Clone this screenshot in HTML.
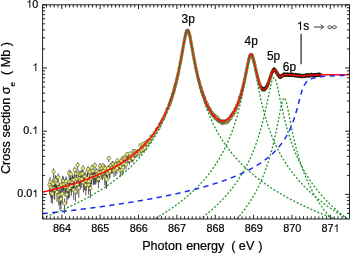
<!DOCTYPE html><html><head><meta charset="utf-8"><style>html,body{margin:0;padding:0;background:#fff;}svg{display:block;will-change:transform}</style></head><body><svg width="350" height="253" viewBox="0 0 350 253">
<defs><clipPath id="c"><rect x="42.60" y="4.80" width="306.90" height="214.20"/></clipPath></defs>
<g clip-path="url(#c)">
<path d="M49.52,179.67V194.67M50.10,176.91V191.74M50.68,182.17V197.17M51.25,187.96V202.96M51.83,183.71V198.71M52.40,188.68V203.68M52.98,178.70V193.70M53.55,168.25V178.28M54.13,183.67V198.67M54.70,184.75V199.75M55.28,174.97V188.60M55.85,175.95V190.23M56.43,177.82V192.82M57.00,187.10V202.10M57.58,178.87V193.87M58.16,173.14V185.66M58.73,190.37V205.37M59.31,182.38V197.38M59.88,194.94V209.94M60.46,189.41V204.41M61.03,194.04V209.04M61.61,179.98V194.98M62.18,188.73V203.73M62.76,175.80V190.00M63.33,176.54V191.26M63.91,179.12V194.12M64.49,198.54V213.54M65.06,181.81V196.81M65.64,177.63V192.61M66.21,176.41V191.05M66.79,189.52V204.52M67.36,180.76V195.76M67.94,184.67V199.67M68.51,183.14V198.14M69.09,169.42V180.03M69.66,182.81V197.81M70.24,176.71V191.52M70.81,170.44V181.55M71.39,180.57V195.57M71.97,176.90V191.75M72.54,175.34V189.28M73.12,175.54V189.60M73.69,184.80V199.80M74.27,175.23V189.10M74.84,166.76V176.21M75.42,186.61V201.61M75.99,169.88V180.74M76.57,174.50V187.90M77.14,179.33V194.33M77.72,162.23V170.03M78.29,170.13V181.11M78.87,182.79V197.79M79.45,174.16V187.36M80.02,170.97V182.38M80.60,175.47V189.53M81.17,170.10V181.08M81.75,174.47V187.88M82.32,169.98V180.89M82.90,165.21V174.07M83.47,177.52V192.51M84.05,172.34V184.50M84.62,176.00V190.43M85.20,172.49V184.75M85.77,180.07V195.07M86.35,176.14V190.69M86.93,173.86V186.92M87.50,167.57V177.41M88.08,166.05V175.26M88.65,179.75V194.75M89.23,176.40V191.15M89.80,168.46V178.70M90.38,183.15V198.15M90.95,174.10V187.33M91.53,172.00V184.01M92.10,164.62V173.29M92.68,167.53V177.37M93.26,172.66V185.05M93.83,172.68V185.09M94.41,171.89V183.87M94.98,162.59V170.56M95.56,172.40V184.66M96.13,171.59V183.41M96.71,168.15V178.28M97.28,170.30V181.46M97.86,170.48V181.73M98.43,174.64V188.27M99.01,169.19V179.82M99.58,171.04V182.60M100.16,163.17V171.36M100.74,165.47V174.50M101.31,168.46V178.76M101.89,165.04V173.92M102.46,169.48V180.27M103.04,162.90V171.01M103.61,167.54V177.45M104.19,164.69V173.44M104.76,172.72V185.23M105.34,165.35V174.36M105.91,173.86V187.06M106.49,175.01V188.95M107.06,167.50V177.42M107.64,169.76V180.72M108.22,165.06V173.98M108.79,156.00V162.12M109.37,168.68V179.15M109.94,167.58V177.55M110.52,163.97V172.51M111.09,162.58V170.62M111.67,165.02V173.95M112.24,164.88V173.76M112.82,161.07V168.63M113.39,161.56V169.27M113.97,167.23V177.08M114.54,163.35V171.69M115.12,162.66V170.76M115.70,166.41V175.93M116.27,161.31V168.97M116.85,165.09V174.09M117.42,158.20V164.94M118.00,160.76V168.25M118.57,160.85V168.38M119.15,162.93V171.16M119.72,161.01V168.59M120.30,167.02V176.84M120.87,163.80V172.35M121.45,158.51V165.36M122.03,166.33V175.89M122.60,156.35V162.63M123.18,164.37V173.16M123.75,156.09V162.31M124.33,160.83V168.41M124.90,155.45V161.51M125.48,157.15V163.66M126.05,161.84V169.76M126.63,153.14V158.68M127.20,152.28V157.63M127.78,156.41V162.75M128.35,156.67V163.08M128.93,155.99V162.22M129.51,157.90V164.66M130.08,151.77V157.04M130.66,155.94V162.18M131.23,154.23V160.06M131.81,155.82V162.04M132.38,154.98V161.00M132.96,156.24V162.58M133.53,149.36V154.18M134.11,152.56V158.04M134.68,149.38V154.21M135.26,151.33V156.56M135.83,152.61V158.12M136.41,151.30V156.53M136.99,151.40V156.66M137.56,149.65V154.56M138.14,150.07V155.07M138.71,149.44V154.32M139.29,151.30V156.57M139.86,149.57V154.49M140.44,143.89V147.83M141.01,148.28V152.97M141.59,148.54V153.28M142.16,145.23V149.40M142.74,142.63V146.41M143.31,147.66V152.27M143.89,144.74V148.85M144.47,144.97V149.14M145.04,146.44V150.86M145.62,141.38V145.01M146.19,142.16V145.91M146.77,141.42V145.07M147.34,142.20V145.98M147.92,139.59V143.01M148.49,140.58V144.14M149.07,139.31V142.71M149.64,140.14V143.66M150.22,139.61V143.07M151.37,137.15V140.31" stroke="#111" stroke-width="0.7" fill="none"/>
<g fill="#f2f27c" stroke="#333322" stroke-width="0.45"><circle cx="49.52" cy="184.67" r="1.75"/><circle cx="50.10" cy="181.74" r="1.75"/><circle cx="50.68" cy="187.17" r="1.75"/><circle cx="51.25" cy="192.96" r="1.75"/><circle cx="51.83" cy="188.71" r="1.75"/><circle cx="52.40" cy="193.68" r="1.75"/><circle cx="52.98" cy="183.70" r="1.75"/><circle cx="53.55" cy="171.69" r="1.75"/><circle cx="54.13" cy="188.67" r="1.75"/><circle cx="54.70" cy="189.75" r="1.75"/><circle cx="55.28" cy="179.45" r="1.75"/><circle cx="55.85" cy="180.61" r="1.75"/><circle cx="56.43" cy="182.82" r="1.75"/><circle cx="57.00" cy="192.10" r="1.75"/><circle cx="57.58" cy="183.87" r="1.75"/><circle cx="58.16" cy="177.31" r="1.75"/><circle cx="58.73" cy="195.37" r="1.75"/><circle cx="59.31" cy="187.38" r="1.75"/><circle cx="59.88" cy="199.94" r="1.75"/><circle cx="60.46" cy="194.41" r="1.75"/><circle cx="61.03" cy="199.04" r="1.75"/><circle cx="61.61" cy="184.98" r="1.75"/><circle cx="62.18" cy="193.73" r="1.75"/><circle cx="62.76" cy="180.43" r="1.75"/><circle cx="63.33" cy="181.31" r="1.75"/><circle cx="63.91" cy="184.12" r="1.75"/><circle cx="64.49" cy="203.54" r="1.75"/><circle cx="65.06" cy="186.81" r="1.75"/><circle cx="65.64" cy="182.61" r="1.75"/><circle cx="66.21" cy="181.17" r="1.75"/><circle cx="66.79" cy="194.52" r="1.75"/><circle cx="67.36" cy="185.76" r="1.75"/><circle cx="67.94" cy="189.67" r="1.75"/><circle cx="68.51" cy="188.14" r="1.75"/><circle cx="69.09" cy="173.03" r="1.75"/><circle cx="69.66" cy="187.81" r="1.75"/><circle cx="70.24" cy="181.52" r="1.75"/><circle cx="70.81" cy="174.20" r="1.75"/><circle cx="71.39" cy="185.57" r="1.75"/><circle cx="71.97" cy="181.75" r="1.75"/><circle cx="72.54" cy="179.90" r="1.75"/><circle cx="73.12" cy="180.13" r="1.75"/><circle cx="73.69" cy="189.80" r="1.75"/><circle cx="74.27" cy="179.78" r="1.75"/><circle cx="74.84" cy="170.02" r="1.75"/><circle cx="75.42" cy="191.61" r="1.75"/><circle cx="75.99" cy="173.57" r="1.75"/><circle cx="76.57" cy="178.91" r="1.75"/><circle cx="77.14" cy="184.33" r="1.75"/><circle cx="77.72" cy="164.98" r="1.75"/><circle cx="78.29" cy="173.85" r="1.75"/><circle cx="78.87" cy="187.79" r="1.75"/><circle cx="79.45" cy="178.52" r="1.75"/><circle cx="80.02" cy="174.82" r="1.75"/><circle cx="80.60" cy="180.06" r="1.75"/><circle cx="81.17" cy="173.82" r="1.75"/><circle cx="81.75" cy="178.88" r="1.75"/><circle cx="82.32" cy="173.68" r="1.75"/><circle cx="82.90" cy="168.29" r="1.75"/><circle cx="83.47" cy="182.51" r="1.75"/><circle cx="84.05" cy="176.40" r="1.75"/><circle cx="84.62" cy="180.69" r="1.75"/><circle cx="85.20" cy="176.59" r="1.75"/><circle cx="85.77" cy="185.07" r="1.75"/><circle cx="86.35" cy="180.87" r="1.75"/><circle cx="86.93" cy="178.18" r="1.75"/><circle cx="87.50" cy="170.95" r="1.75"/><circle cx="88.08" cy="169.24" r="1.75"/><circle cx="88.65" cy="184.75" r="1.75"/><circle cx="89.23" cy="181.18" r="1.75"/><circle cx="89.80" cy="171.96" r="1.75"/><circle cx="90.38" cy="188.15" r="1.75"/><circle cx="90.95" cy="178.47" r="1.75"/><circle cx="91.53" cy="176.02" r="1.75"/><circle cx="92.10" cy="167.64" r="1.75"/><circle cx="92.68" cy="170.91" r="1.75"/><circle cx="93.26" cy="176.79" r="1.75"/><circle cx="93.83" cy="176.82" r="1.75"/><circle cx="94.41" cy="175.91" r="1.75"/><circle cx="94.98" cy="165.39" r="1.75"/><circle cx="95.56" cy="176.50" r="1.75"/><circle cx="96.13" cy="175.56" r="1.75"/><circle cx="96.71" cy="171.62" r="1.75"/><circle cx="97.28" cy="174.08" r="1.75"/><circle cx="97.86" cy="174.28" r="1.75"/><circle cx="98.43" cy="179.12" r="1.75"/><circle cx="99.01" cy="172.81" r="1.75"/><circle cx="99.58" cy="174.93" r="1.75"/><circle cx="100.16" cy="166.04" r="1.75"/><circle cx="100.74" cy="168.60" r="1.75"/><circle cx="101.31" cy="171.98" r="1.75"/><circle cx="101.89" cy="168.12" r="1.75"/><circle cx="102.46" cy="173.15" r="1.75"/><circle cx="103.04" cy="165.75" r="1.75"/><circle cx="103.61" cy="170.94" r="1.75"/><circle cx="104.19" cy="167.73" r="1.75"/><circle cx="104.76" cy="176.88" r="1.75"/><circle cx="105.34" cy="168.47" r="1.75"/><circle cx="105.91" cy="178.22" r="1.75"/><circle cx="106.49" cy="179.57" r="1.75"/><circle cx="107.06" cy="170.91" r="1.75"/><circle cx="107.64" cy="173.47" r="1.75"/><circle cx="108.22" cy="168.16" r="1.75"/><circle cx="108.79" cy="158.20" r="1.75"/><circle cx="109.37" cy="172.25" r="1.75"/><circle cx="109.94" cy="171.00" r="1.75"/><circle cx="110.52" cy="166.95" r="1.75"/><circle cx="111.09" cy="165.40" r="1.75"/><circle cx="111.67" cy="168.12" r="1.75"/><circle cx="112.24" cy="167.97" r="1.75"/><circle cx="112.82" cy="163.74" r="1.75"/><circle cx="113.39" cy="164.27" r="1.75"/><circle cx="113.97" cy="170.61" r="1.75"/><circle cx="114.54" cy="166.27" r="1.75"/><circle cx="115.12" cy="165.50" r="1.75"/><circle cx="115.70" cy="169.69" r="1.75"/><circle cx="116.27" cy="164.01" r="1.75"/><circle cx="116.85" cy="168.21" r="1.75"/><circle cx="117.42" cy="160.60" r="1.75"/><circle cx="118.00" cy="163.40" r="1.75"/><circle cx="118.57" cy="163.51" r="1.75"/><circle cx="119.15" cy="165.81" r="1.75"/><circle cx="119.72" cy="163.68" r="1.75"/><circle cx="120.30" cy="170.39" r="1.75"/><circle cx="120.87" cy="166.78" r="1.75"/><circle cx="121.45" cy="160.95" r="1.75"/><circle cx="122.03" cy="169.63" r="1.75"/><circle cx="122.60" cy="158.60" r="1.75"/><circle cx="123.18" cy="167.43" r="1.75"/><circle cx="123.75" cy="158.32" r="1.75"/><circle cx="124.33" cy="163.50" r="1.75"/><circle cx="124.90" cy="157.62" r="1.75"/><circle cx="125.48" cy="159.47" r="1.75"/><circle cx="126.05" cy="164.62" r="1.75"/><circle cx="126.63" cy="155.14" r="1.75"/><circle cx="127.20" cy="154.22" r="1.75"/><circle cx="127.78" cy="158.68" r="1.75"/><circle cx="128.35" cy="158.96" r="1.75"/><circle cx="128.93" cy="158.22" r="1.75"/><circle cx="129.51" cy="160.31" r="1.75"/><circle cx="130.08" cy="153.68" r="1.75"/><circle cx="130.66" cy="158.17" r="1.75"/><circle cx="131.23" cy="156.33" r="1.75"/><circle cx="131.81" cy="158.05" r="1.75"/><circle cx="132.38" cy="157.14" r="1.75"/><circle cx="132.96" cy="158.51" r="1.75"/><circle cx="133.53" cy="151.12" r="1.75"/><circle cx="134.11" cy="154.54" r="1.75"/><circle cx="134.68" cy="151.14" r="1.75"/><circle cx="135.26" cy="153.23" r="1.75"/><circle cx="135.83" cy="154.60" r="1.75"/><circle cx="136.41" cy="153.19" r="1.75"/><circle cx="136.99" cy="153.30" r="1.75"/><circle cx="137.56" cy="151.43" r="1.75"/><circle cx="138.14" cy="151.88" r="1.75"/><circle cx="138.71" cy="151.21" r="1.75"/><circle cx="139.29" cy="153.21" r="1.75"/><circle cx="139.86" cy="151.36" r="1.75"/><circle cx="140.44" cy="145.34" r="1.75"/><circle cx="141.01" cy="149.99" r="1.75"/><circle cx="141.59" cy="150.27" r="1.75"/><circle cx="142.16" cy="146.76" r="1.75"/><circle cx="142.74" cy="144.02" r="1.75"/><circle cx="143.31" cy="149.34" r="1.75"/><circle cx="143.89" cy="146.25" r="1.75"/><circle cx="144.47" cy="146.50" r="1.75"/><circle cx="145.04" cy="148.06" r="1.75"/><circle cx="145.62" cy="142.72" r="1.75"/><circle cx="146.19" cy="143.55" r="1.75"/><circle cx="146.77" cy="142.76" r="1.75"/><circle cx="147.34" cy="143.60" r="1.75"/><circle cx="147.92" cy="140.85" r="1.75"/><circle cx="148.49" cy="141.90" r="1.75"/><circle cx="149.07" cy="140.57" r="1.75"/><circle cx="149.64" cy="141.44" r="1.75"/></g>
<g fill="#f2f278" stroke="#2a2a12" stroke-width="0.45"><circle cx="150.22" cy="140.89" r="1.25"/><circle cx="150.80" cy="136.22" r="1.25"/><circle cx="151.37" cy="138.32" r="1.25"/><circle cx="151.95" cy="136.40" r="1.25"/><circle cx="152.52" cy="136.13" r="1.25"/><circle cx="153.10" cy="135.94" r="1.25"/><circle cx="153.67" cy="135.24" r="1.25"/><circle cx="154.25" cy="132.92" r="1.25"/><circle cx="154.82" cy="133.33" r="1.25"/><circle cx="155.40" cy="132.30" r="1.25"/><circle cx="155.97" cy="131.24" r="1.25"/><circle cx="156.55" cy="129.00" r="1.25"/><circle cx="157.12" cy="128.73" r="1.25"/><circle cx="157.70" cy="128.18" r="1.25"/><circle cx="158.28" cy="128.30" r="1.25"/><circle cx="158.85" cy="128.21" r="1.25"/><circle cx="159.43" cy="124.78" r="1.25"/><circle cx="160.00" cy="123.80" r="1.25"/><circle cx="160.58" cy="123.89" r="1.25"/><circle cx="161.15" cy="122.20" r="1.25"/><circle cx="161.73" cy="120.93" r="1.25"/><circle cx="162.30" cy="119.82" r="1.25"/><circle cx="162.88" cy="118.64" r="1.25"/><circle cx="163.45" cy="118.66" r="1.25"/><circle cx="164.03" cy="115.89" r="1.25"/><circle cx="164.60" cy="116.85" r="1.25"/><circle cx="165.18" cy="114.00" r="1.25"/><circle cx="165.76" cy="113.01" r="1.25"/><circle cx="166.33" cy="111.45" r="1.25"/><circle cx="166.91" cy="109.45" r="1.25"/><circle cx="167.48" cy="108.36" r="1.25"/><circle cx="168.06" cy="108.60" r="1.25"/><circle cx="168.63" cy="107.43" r="1.25"/><circle cx="169.21" cy="104.44" r="1.25"/><circle cx="169.21" cy="105.49" r="1.25"/><circle cx="169.44" cy="104.29" r="1.25"/><circle cx="169.67" cy="103.19" r="1.25"/><circle cx="169.90" cy="103.93" r="1.25"/><circle cx="170.13" cy="103.52" r="1.25"/><circle cx="170.36" cy="101.60" r="1.25"/><circle cx="170.59" cy="101.06" r="1.25"/><circle cx="170.82" cy="100.54" r="1.25"/><circle cx="171.05" cy="99.72" r="1.25"/><circle cx="171.28" cy="99.48" r="1.25"/><circle cx="171.51" cy="99.10" r="1.25"/><circle cx="171.74" cy="97.74" r="1.25"/><circle cx="171.97" cy="97.41" r="1.25"/><circle cx="172.20" cy="97.00" r="1.25"/><circle cx="172.43" cy="95.27" r="1.25"/><circle cx="172.66" cy="94.79" r="1.25"/><circle cx="172.89" cy="93.83" r="1.25"/><circle cx="173.12" cy="93.68" r="1.25"/><circle cx="173.35" cy="92.77" r="1.25"/><circle cx="173.58" cy="92.12" r="1.25"/><circle cx="173.81" cy="91.28" r="1.25"/><circle cx="174.04" cy="90.03" r="1.25"/><circle cx="174.27" cy="89.61" r="1.25"/><circle cx="174.50" cy="88.33" r="1.25"/><circle cx="174.73" cy="87.50" r="1.25"/><circle cx="174.96" cy="86.01" r="1.25"/><circle cx="175.19" cy="86.44" r="1.25"/><circle cx="175.42" cy="84.72" r="1.25"/><circle cx="175.65" cy="84.19" r="1.25"/><circle cx="175.88" cy="83.26" r="1.25"/><circle cx="176.11" cy="82.84" r="1.25"/><circle cx="176.34" cy="81.57" r="1.25"/><circle cx="176.57" cy="80.22" r="1.25"/><circle cx="176.80" cy="79.54" r="1.25"/><circle cx="177.03" cy="78.52" r="1.25"/><circle cx="177.26" cy="77.65" r="1.25"/><circle cx="177.49" cy="76.19" r="1.25"/><circle cx="177.72" cy="75.54" r="1.25"/><circle cx="177.95" cy="75.17" r="1.25"/><circle cx="178.18" cy="73.66" r="1.25"/><circle cx="178.41" cy="72.97" r="1.25"/><circle cx="178.64" cy="72.25" r="1.25"/><circle cx="178.87" cy="70.37" r="1.25"/><circle cx="179.10" cy="68.74" r="1.25"/><circle cx="179.34" cy="67.97" r="1.25"/><circle cx="179.57" cy="67.15" r="1.25"/><circle cx="179.80" cy="65.92" r="1.25"/><circle cx="180.03" cy="64.20" r="1.25"/><circle cx="180.26" cy="63.26" r="1.25"/><circle cx="180.49" cy="62.08" r="1.25"/><circle cx="180.72" cy="60.88" r="1.25"/><circle cx="180.95" cy="59.62" r="1.25"/><circle cx="181.18" cy="58.18" r="1.25"/><circle cx="181.41" cy="56.98" r="1.25"/><circle cx="181.64" cy="55.78" r="1.25"/><circle cx="181.87" cy="54.78" r="1.25"/><circle cx="182.10" cy="53.12" r="1.25"/><circle cx="182.33" cy="52.08" r="1.25"/><circle cx="182.56" cy="50.37" r="1.25"/><circle cx="182.79" cy="49.58" r="1.25"/><circle cx="183.02" cy="48.01" r="1.25"/><circle cx="183.25" cy="46.67" r="1.25"/><circle cx="183.48" cy="45.65" r="1.25"/><circle cx="183.71" cy="43.71" r="1.25"/><circle cx="183.94" cy="42.49" r="1.25"/><circle cx="184.17" cy="41.63" r="1.25"/><circle cx="184.40" cy="40.15" r="1.25"/><circle cx="184.63" cy="39.04" r="1.25"/><circle cx="184.86" cy="38.49" r="1.25"/><circle cx="185.09" cy="36.82" r="1.25"/><circle cx="185.32" cy="35.84" r="1.25"/><circle cx="185.55" cy="34.83" r="1.25"/><circle cx="185.78" cy="34.16" r="1.25"/><circle cx="186.01" cy="33.19" r="1.25"/><circle cx="186.24" cy="32.46" r="1.25"/><circle cx="186.47" cy="31.58" r="1.25"/><circle cx="186.70" cy="31.24" r="1.25"/><circle cx="186.93" cy="30.91" r="1.25"/><circle cx="187.16" cy="30.35" r="1.25"/><circle cx="187.39" cy="30.61" r="1.25"/><circle cx="187.62" cy="30.56" r="1.25"/><circle cx="187.85" cy="30.94" r="1.25"/><circle cx="188.08" cy="30.52" r="1.25"/><circle cx="188.31" cy="31.00" r="1.25"/><circle cx="188.54" cy="31.48" r="1.25"/><circle cx="188.77" cy="32.11" r="1.25"/><circle cx="189.00" cy="32.91" r="1.25"/><circle cx="189.23" cy="33.67" r="1.25"/><circle cx="189.46" cy="34.63" r="1.25"/><circle cx="189.69" cy="35.57" r="1.25"/><circle cx="189.92" cy="36.54" r="1.25"/><circle cx="190.15" cy="37.32" r="1.25"/><circle cx="190.38" cy="38.64" r="1.25"/><circle cx="190.61" cy="39.93" r="1.25"/><circle cx="190.84" cy="41.25" r="1.25"/><circle cx="191.07" cy="42.50" r="1.25"/><circle cx="191.30" cy="43.29" r="1.25"/><circle cx="191.53" cy="44.80" r="1.25"/><circle cx="191.76" cy="46.18" r="1.25"/><circle cx="191.99" cy="47.56" r="1.25"/><circle cx="192.22" cy="49.03" r="1.25"/><circle cx="192.45" cy="50.10" r="1.25"/><circle cx="192.68" cy="51.19" r="1.25"/><circle cx="192.91" cy="52.77" r="1.25"/><circle cx="193.14" cy="54.01" r="1.25"/><circle cx="193.37" cy="55.28" r="1.25"/><circle cx="193.60" cy="56.47" r="1.25"/><circle cx="193.84" cy="58.13" r="1.25"/><circle cx="194.07" cy="59.04" r="1.25"/><circle cx="194.30" cy="60.41" r="1.25"/><circle cx="194.53" cy="61.18" r="1.25"/><circle cx="194.76" cy="62.79" r="1.25"/><circle cx="194.99" cy="63.62" r="1.25"/><circle cx="195.22" cy="64.52" r="1.25"/><circle cx="195.45" cy="66.15" r="1.25"/><circle cx="195.68" cy="67.35" r="1.25"/><circle cx="195.91" cy="68.24" r="1.25"/><circle cx="196.14" cy="69.38" r="1.25"/><circle cx="196.37" cy="70.73" r="1.25"/><circle cx="196.60" cy="71.37" r="1.25"/><circle cx="196.83" cy="71.95" r="1.25"/><circle cx="197.06" cy="73.64" r="1.25"/><circle cx="197.29" cy="74.62" r="1.25"/><circle cx="197.52" cy="75.87" r="1.25"/><circle cx="197.75" cy="76.42" r="1.25"/><circle cx="197.98" cy="77.87" r="1.25"/><circle cx="198.21" cy="78.77" r="1.25"/><circle cx="198.44" cy="78.91" r="1.25"/><circle cx="198.67" cy="80.54" r="1.25"/><circle cx="198.90" cy="80.76" r="1.25"/><circle cx="199.13" cy="81.48" r="1.25"/><circle cx="199.36" cy="82.78" r="1.25"/><circle cx="199.59" cy="83.52" r="1.25"/><circle cx="199.82" cy="83.84" r="1.25"/><circle cx="200.05" cy="85.44" r="1.25"/><circle cx="200.28" cy="86.40" r="1.25"/><circle cx="200.51" cy="87.49" r="1.25"/><circle cx="200.74" cy="87.73" r="1.25"/><circle cx="200.97" cy="87.92" r="1.25"/><circle cx="201.20" cy="88.88" r="1.25"/><circle cx="201.43" cy="90.39" r="1.25"/><circle cx="201.66" cy="91.09" r="1.25"/><circle cx="201.89" cy="91.66" r="1.25"/><circle cx="202.12" cy="92.03" r="1.25"/><circle cx="202.35" cy="92.94" r="1.25"/><circle cx="202.58" cy="93.43" r="1.25"/><circle cx="202.81" cy="94.06" r="1.25"/><circle cx="203.04" cy="94.99" r="1.25"/><circle cx="203.27" cy="95.52" r="1.25"/><circle cx="203.50" cy="96.04" r="1.25"/><circle cx="203.73" cy="96.81" r="1.25"/><circle cx="203.96" cy="97.14" r="1.25"/><circle cx="204.19" cy="97.07" r="1.25"/><circle cx="204.42" cy="98.29" r="1.25"/><circle cx="204.65" cy="99.14" r="1.25"/><circle cx="204.88" cy="100.61" r="1.25"/><circle cx="205.11" cy="100.10" r="1.25"/><circle cx="205.34" cy="101.89" r="1.25"/><circle cx="205.57" cy="102.17" r="1.25"/><circle cx="205.80" cy="101.48" r="1.25"/><circle cx="206.03" cy="102.08" r="1.25"/><circle cx="206.26" cy="103.08" r="1.25"/><circle cx="206.49" cy="104.47" r="1.25"/><circle cx="206.72" cy="104.21" r="1.25"/><circle cx="206.95" cy="104.89" r="1.25"/><circle cx="207.18" cy="104.60" r="1.25"/><circle cx="207.41" cy="104.11" r="1.25"/><circle cx="207.64" cy="105.79" r="1.25"/><circle cx="207.87" cy="106.85" r="1.25"/><circle cx="208.11" cy="107.55" r="1.25"/><circle cx="208.34" cy="107.30" r="1.25"/><circle cx="208.57" cy="107.81" r="1.25"/><circle cx="208.80" cy="108.86" r="1.25"/><circle cx="209.03" cy="108.46" r="1.25"/><circle cx="209.26" cy="109.70" r="1.25"/><circle cx="209.49" cy="108.61" r="1.25"/><circle cx="209.72" cy="109.03" r="1.25"/><circle cx="209.95" cy="109.39" r="1.25"/><circle cx="210.18" cy="110.83" r="1.25"/><circle cx="210.41" cy="110.52" r="1.25"/><circle cx="210.64" cy="111.33" r="1.25"/><circle cx="210.87" cy="111.87" r="1.25"/><circle cx="211.10" cy="112.19" r="1.25"/><circle cx="211.33" cy="113.22" r="1.25"/><circle cx="211.56" cy="113.67" r="1.25"/><circle cx="211.79" cy="112.37" r="1.25"/><circle cx="212.02" cy="113.41" r="1.25"/><circle cx="212.25" cy="113.42" r="1.25"/><circle cx="212.48" cy="113.14" r="1.25"/><circle cx="212.71" cy="115.50" r="1.25"/><circle cx="212.94" cy="115.08" r="1.25"/><circle cx="213.17" cy="114.64" r="1.25"/><circle cx="213.40" cy="114.75" r="1.25"/><circle cx="213.63" cy="115.62" r="1.25"/><circle cx="213.86" cy="114.79" r="1.25"/><circle cx="214.09" cy="115.70" r="1.25"/><circle cx="214.32" cy="117.09" r="1.25"/><circle cx="214.55" cy="117.12" r="1.25"/><circle cx="214.78" cy="115.96" r="1.25"/><circle cx="215.01" cy="116.48" r="1.25"/><circle cx="215.24" cy="118.65" r="1.25"/><circle cx="215.47" cy="116.21" r="1.25"/><circle cx="215.70" cy="117.05" r="1.25"/><circle cx="215.93" cy="116.64" r="1.25"/><circle cx="216.16" cy="118.30" r="1.25"/><circle cx="216.39" cy="118.44" r="1.25"/><circle cx="216.62" cy="119.36" r="1.25"/><circle cx="216.85" cy="116.43" r="1.25"/><circle cx="217.08" cy="118.95" r="1.25"/><circle cx="217.31" cy="117.62" r="1.25"/><circle cx="217.54" cy="119.74" r="1.25"/><circle cx="217.77" cy="119.22" r="1.25"/><circle cx="218.00" cy="121.00" r="1.25"/><circle cx="218.23" cy="120.06" r="1.25"/><circle cx="218.46" cy="119.03" r="1.25"/><circle cx="218.69" cy="121.17" r="1.25"/><circle cx="218.92" cy="119.27" r="1.25"/><circle cx="219.15" cy="120.08" r="1.25"/><circle cx="219.38" cy="121.47" r="1.25"/><circle cx="219.61" cy="121.14" r="1.25"/><circle cx="219.84" cy="121.25" r="1.25"/><circle cx="220.07" cy="121.02" r="1.25"/><circle cx="220.30" cy="121.59" r="1.25"/><circle cx="220.53" cy="121.98" r="1.25"/><circle cx="220.76" cy="121.63" r="1.25"/><circle cx="220.99" cy="122.41" r="1.25"/><circle cx="221.22" cy="122.76" r="1.25"/><circle cx="221.45" cy="121.73" r="1.25"/><circle cx="221.68" cy="120.98" r="1.25"/><circle cx="221.91" cy="123.26" r="1.25"/><circle cx="222.14" cy="121.94" r="1.25"/><circle cx="222.37" cy="122.61" r="1.25"/><circle cx="222.61" cy="122.97" r="1.25"/><circle cx="222.84" cy="121.34" r="1.25"/><circle cx="223.07" cy="122.63" r="1.25"/><circle cx="223.30" cy="120.82" r="1.25"/><circle cx="223.53" cy="122.92" r="1.25"/><circle cx="223.76" cy="121.86" r="1.25"/><circle cx="223.99" cy="122.41" r="1.25"/><circle cx="224.22" cy="122.87" r="1.25"/><circle cx="224.45" cy="121.62" r="1.25"/><circle cx="224.68" cy="122.25" r="1.25"/><circle cx="224.91" cy="121.51" r="1.25"/><circle cx="225.14" cy="122.03" r="1.25"/><circle cx="225.37" cy="122.88" r="1.25"/><circle cx="225.60" cy="121.90" r="1.25"/><circle cx="225.83" cy="121.66" r="1.25"/><circle cx="226.06" cy="120.73" r="1.25"/><circle cx="226.29" cy="122.26" r="1.25"/><circle cx="226.52" cy="121.35" r="1.25"/><circle cx="226.75" cy="122.69" r="1.25"/><circle cx="226.98" cy="120.42" r="1.25"/><circle cx="227.21" cy="121.77" r="1.25"/><circle cx="227.44" cy="122.22" r="1.25"/><circle cx="227.67" cy="120.49" r="1.25"/><circle cx="227.90" cy="119.27" r="1.25"/><circle cx="228.13" cy="121.33" r="1.25"/><circle cx="228.36" cy="120.73" r="1.25"/><circle cx="228.59" cy="120.19" r="1.25"/><circle cx="228.82" cy="120.28" r="1.25"/><circle cx="229.05" cy="118.74" r="1.25"/><circle cx="229.28" cy="119.49" r="1.25"/><circle cx="229.51" cy="119.15" r="1.25"/><circle cx="229.74" cy="117.79" r="1.25"/><circle cx="229.97" cy="118.62" r="1.25"/><circle cx="230.20" cy="117.35" r="1.25"/><circle cx="230.43" cy="118.21" r="1.25"/><circle cx="230.66" cy="118.10" r="1.25"/><circle cx="230.89" cy="118.29" r="1.25"/><circle cx="231.12" cy="115.02" r="1.25"/><circle cx="231.35" cy="116.43" r="1.25"/><circle cx="231.58" cy="115.67" r="1.25"/><circle cx="231.81" cy="115.55" r="1.25"/><circle cx="232.04" cy="115.06" r="1.25"/><circle cx="232.27" cy="114.80" r="1.25"/><circle cx="232.50" cy="113.05" r="1.25"/><circle cx="232.73" cy="114.91" r="1.25"/><circle cx="232.96" cy="114.92" r="1.25"/><circle cx="233.19" cy="114.13" r="1.25"/><circle cx="233.42" cy="113.98" r="1.25"/><circle cx="233.65" cy="112.08" r="1.25"/><circle cx="233.88" cy="111.63" r="1.25"/><circle cx="234.11" cy="112.49" r="1.25"/><circle cx="234.34" cy="112.36" r="1.25"/><circle cx="234.57" cy="111.21" r="1.25"/><circle cx="234.80" cy="109.59" r="1.25"/><circle cx="235.03" cy="111.99" r="1.25"/><circle cx="235.26" cy="109.28" r="1.25"/><circle cx="235.49" cy="109.88" r="1.25"/><circle cx="235.72" cy="108.02" r="1.25"/><circle cx="235.95" cy="108.90" r="1.25"/><circle cx="236.18" cy="107.89" r="1.25"/><circle cx="236.41" cy="108.14" r="1.25"/><circle cx="236.64" cy="107.28" r="1.25"/><circle cx="236.88" cy="105.31" r="1.25"/><circle cx="237.11" cy="105.11" r="1.25"/><circle cx="237.34" cy="105.28" r="1.25"/><circle cx="237.57" cy="104.98" r="1.25"/><circle cx="237.80" cy="104.98" r="1.25"/><circle cx="238.03" cy="103.52" r="1.25"/><circle cx="238.26" cy="102.70" r="1.25"/><circle cx="238.49" cy="102.11" r="1.25"/><circle cx="238.72" cy="101.48" r="1.25"/><circle cx="238.95" cy="101.36" r="1.25"/><circle cx="239.18" cy="100.14" r="1.25"/><circle cx="239.41" cy="99.44" r="1.25"/><circle cx="239.64" cy="98.08" r="1.25"/><circle cx="239.87" cy="97.09" r="1.25"/><circle cx="240.10" cy="97.35" r="1.25"/><circle cx="240.33" cy="96.90" r="1.25"/><circle cx="240.56" cy="95.80" r="1.25"/><circle cx="240.79" cy="95.27" r="1.25"/><circle cx="241.02" cy="94.53" r="1.25"/><circle cx="241.25" cy="93.41" r="1.25"/><circle cx="241.48" cy="93.01" r="1.25"/><circle cx="241.71" cy="91.45" r="1.25"/><circle cx="241.94" cy="90.89" r="1.25"/><circle cx="242.17" cy="89.86" r="1.25"/><circle cx="242.40" cy="89.13" r="1.25"/><circle cx="242.63" cy="88.43" r="1.25"/><circle cx="242.86" cy="87.57" r="1.25"/><circle cx="243.09" cy="86.34" r="1.25"/><circle cx="243.32" cy="85.48" r="1.25"/><circle cx="243.55" cy="84.20" r="1.25"/><circle cx="243.78" cy="83.28" r="1.25"/><circle cx="244.01" cy="82.73" r="1.25"/><circle cx="244.24" cy="81.19" r="1.25"/><circle cx="244.47" cy="80.61" r="1.25"/><circle cx="244.70" cy="79.29" r="1.25"/><circle cx="244.93" cy="78.09" r="1.25"/><circle cx="245.16" cy="77.55" r="1.25"/><circle cx="245.39" cy="75.75" r="1.25"/><circle cx="245.62" cy="74.61" r="1.25"/><circle cx="245.85" cy="73.57" r="1.25"/><circle cx="246.08" cy="72.50" r="1.25"/><circle cx="246.31" cy="71.34" r="1.25"/><circle cx="246.54" cy="70.36" r="1.25"/><circle cx="246.77" cy="69.01" r="1.25"/><circle cx="247.00" cy="67.95" r="1.25"/><circle cx="247.23" cy="66.64" r="1.25"/><circle cx="247.46" cy="65.86" r="1.25"/><circle cx="247.69" cy="64.38" r="1.25"/><circle cx="247.92" cy="63.33" r="1.25"/><circle cx="248.15" cy="62.36" r="1.25"/><circle cx="248.38" cy="61.42" r="1.25"/><circle cx="248.61" cy="60.20" r="1.25"/><circle cx="248.84" cy="59.83" r="1.25"/><circle cx="249.07" cy="58.45" r="1.25"/><circle cx="249.30" cy="57.72" r="1.25"/><circle cx="249.53" cy="56.99" r="1.25"/><circle cx="249.76" cy="56.32" r="1.25"/><circle cx="249.99" cy="56.02" r="1.25"/><circle cx="250.22" cy="55.47" r="1.25"/><circle cx="250.45" cy="54.90" r="1.25"/><circle cx="250.68" cy="54.69" r="1.25"/><circle cx="250.91" cy="54.59" r="1.25"/><circle cx="251.14" cy="54.95" r="1.25"/><circle cx="251.38" cy="54.53" r="1.25"/><circle cx="251.61" cy="54.56" r="1.25"/><circle cx="251.84" cy="54.87" r="1.25"/><circle cx="252.07" cy="55.43" r="1.25"/><circle cx="252.30" cy="56.32" r="1.25"/><circle cx="252.53" cy="56.29" r="1.25"/><circle cx="252.76" cy="57.19" r="1.25"/><circle cx="252.99" cy="58.47" r="1.25"/><circle cx="253.22" cy="58.55" r="1.25"/><circle cx="253.45" cy="59.85" r="1.25"/><circle cx="253.68" cy="60.69" r="1.25"/><circle cx="253.91" cy="61.46" r="1.25"/><circle cx="254.14" cy="61.95" r="1.25"/><circle cx="254.37" cy="63.36" r="1.25"/><circle cx="254.60" cy="64.21" r="1.25"/><circle cx="254.83" cy="64.85" r="1.25"/><circle cx="255.06" cy="65.92" r="1.25"/><circle cx="255.29" cy="67.42" r="1.25"/><circle cx="255.52" cy="68.51" r="1.25"/><circle cx="255.75" cy="69.83" r="1.25"/><circle cx="255.98" cy="70.71" r="1.25"/><circle cx="256.21" cy="71.41" r="1.25"/><circle cx="256.44" cy="72.42" r="1.25"/><circle cx="256.67" cy="73.49" r="1.25"/><circle cx="256.90" cy="74.19" r="1.25"/><circle cx="257.13" cy="75.68" r="1.25"/><circle cx="257.36" cy="76.38" r="1.25"/><circle cx="257.59" cy="77.03" r="1.25"/><circle cx="257.82" cy="77.94" r="1.25"/><circle cx="258.05" cy="78.62" r="1.25"/><circle cx="258.28" cy="79.66" r="1.25"/><circle cx="258.51" cy="80.68" r="1.25"/><circle cx="258.74" cy="81.21" r="1.25"/><circle cx="258.97" cy="82.40" r="1.25"/><circle cx="259.20" cy="83.33" r="1.25"/><circle cx="259.43" cy="83.20" r="1.25"/><circle cx="259.66" cy="84.06" r="1.25"/><circle cx="259.89" cy="84.52" r="1.25"/><circle cx="260.12" cy="85.82" r="1.25"/><circle cx="260.35" cy="85.86" r="1.25"/><circle cx="260.58" cy="86.44" r="1.25"/><circle cx="260.81" cy="87.01" r="1.25"/><circle cx="261.04" cy="87.97" r="1.25"/><circle cx="261.27" cy="87.63" r="1.25"/><circle cx="261.27" cy="87.15" r="1.3"/><circle cx="261.50" cy="87.71" r="1.3"/><circle cx="261.73" cy="88.42" r="1.3"/><circle cx="261.96" cy="88.48" r="1.3"/><circle cx="262.19" cy="88.42" r="1.3"/><circle cx="262.42" cy="90.05" r="1.3"/><circle cx="262.65" cy="89.18" r="1.3"/><circle cx="262.88" cy="89.06" r="1.3"/><circle cx="263.11" cy="89.12" r="1.3"/><circle cx="263.34" cy="88.79" r="1.3"/><circle cx="263.57" cy="89.07" r="1.3"/><circle cx="263.80" cy="89.41" r="1.3"/><circle cx="264.03" cy="89.39" r="1.3"/><circle cx="264.26" cy="89.14" r="1.3"/><circle cx="264.49" cy="89.58" r="1.3"/><circle cx="264.72" cy="89.25" r="1.3"/><circle cx="264.95" cy="88.71" r="1.3"/><circle cx="265.18" cy="88.10" r="1.3"/><circle cx="265.41" cy="88.72" r="1.3"/><circle cx="265.65" cy="88.41" r="1.3"/><circle cx="265.88" cy="88.02" r="1.3"/><circle cx="266.11" cy="87.25" r="1.3"/><circle cx="266.34" cy="87.43" r="1.3"/><circle cx="266.57" cy="86.46" r="1.3"/><circle cx="266.80" cy="86.97" r="1.3"/><circle cx="267.03" cy="86.23" r="1.3"/><circle cx="267.26" cy="85.75" r="1.3"/><circle cx="267.49" cy="84.88" r="1.3"/><circle cx="267.72" cy="84.25" r="1.3"/><circle cx="267.95" cy="84.62" r="1.3"/><circle cx="268.18" cy="83.81" r="1.3"/><circle cx="268.41" cy="82.76" r="1.3"/><circle cx="268.64" cy="82.48" r="1.3"/><circle cx="268.87" cy="82.13" r="1.3"/><circle cx="269.10" cy="80.58" r="1.3"/><circle cx="269.33" cy="80.09" r="1.3"/><circle cx="269.56" cy="79.40" r="1.3"/><circle cx="269.79" cy="79.03" r="1.3"/><circle cx="270.02" cy="77.84" r="1.3"/><circle cx="270.25" cy="77.54" r="1.3"/><circle cx="270.48" cy="76.42" r="1.3"/><circle cx="270.71" cy="76.36" r="1.3"/><circle cx="270.94" cy="75.65" r="1.3"/><circle cx="271.17" cy="74.66" r="1.3"/><circle cx="271.40" cy="74.29" r="1.3"/><circle cx="271.63" cy="73.26" r="1.3"/><circle cx="271.86" cy="72.80" r="1.3"/><circle cx="272.09" cy="72.60" r="1.3"/><circle cx="272.32" cy="71.80" r="1.3"/><circle cx="272.55" cy="71.46" r="1.3"/><circle cx="272.78" cy="70.68" r="1.3"/><circle cx="273.01" cy="70.77" r="1.3"/><circle cx="273.24" cy="70.42" r="1.3"/><circle cx="273.47" cy="69.71" r="1.3"/><circle cx="273.70" cy="69.25" r="1.3"/><circle cx="273.93" cy="69.20" r="1.3"/><circle cx="274.16" cy="69.70" r="1.3"/><circle cx="274.39" cy="69.66" r="1.3"/><circle cx="274.62" cy="69.37" r="1.3"/><circle cx="274.85" cy="69.96" r="1.3"/><circle cx="275.08" cy="70.39" r="1.3"/><circle cx="275.31" cy="70.31" r="1.3"/><circle cx="275.54" cy="70.49" r="1.3"/><circle cx="275.77" cy="71.17" r="1.3"/><circle cx="276.00" cy="71.76" r="1.3"/><circle cx="276.23" cy="72.07" r="1.3"/><circle cx="276.46" cy="71.85" r="1.3"/><circle cx="276.69" cy="72.68" r="1.3"/><circle cx="276.92" cy="72.91" r="1.3"/><circle cx="277.15" cy="73.23" r="1.3"/><circle cx="277.38" cy="73.52" r="1.3"/><circle cx="277.61" cy="74.21" r="1.3"/><circle cx="277.84" cy="74.35" r="1.3"/><circle cx="278.07" cy="75.14" r="1.3"/><circle cx="278.30" cy="75.33" r="1.3"/><circle cx="278.53" cy="75.85" r="1.3"/><circle cx="278.76" cy="75.47" r="1.3"/><circle cx="278.99" cy="76.09" r="1.3"/><circle cx="279.22" cy="76.53" r="1.3"/><circle cx="279.45" cy="76.59" r="1.3"/><circle cx="279.68" cy="76.69" r="1.3"/><circle cx="279.91" cy="76.51" r="1.3"/><circle cx="280.15" cy="77.30" r="1.3"/><circle cx="280.38" cy="77.15" r="1.3"/><circle cx="280.61" cy="76.94" r="1.3"/><circle cx="280.84" cy="75.98" r="1.3"/><circle cx="281.07" cy="76.40" r="1.3"/><circle cx="281.30" cy="76.64" r="1.3"/><circle cx="281.53" cy="76.26" r="1.3"/><circle cx="281.76" cy="75.69" r="1.3"/><circle cx="281.99" cy="76.24" r="1.3"/><circle cx="282.22" cy="76.11" r="1.3"/><circle cx="282.45" cy="75.44" r="1.3"/><circle cx="282.68" cy="75.48" r="1.3"/><circle cx="282.91" cy="75.25" r="1.3"/><circle cx="283.14" cy="75.44" r="1.3"/><circle cx="283.37" cy="74.54" r="1.3"/><circle cx="283.60" cy="74.46" r="1.3"/><circle cx="283.83" cy="74.69" r="1.3"/><circle cx="284.06" cy="74.55" r="1.3"/><circle cx="284.29" cy="75.29" r="1.3"/><circle cx="284.52" cy="74.42" r="1.3"/><circle cx="284.75" cy="74.63" r="1.3"/><circle cx="284.98" cy="74.41" r="1.3"/><circle cx="285.21" cy="74.33" r="1.3"/><circle cx="285.44" cy="74.65" r="1.3"/><circle cx="285.67" cy="75.07" r="1.3"/><circle cx="285.90" cy="74.47" r="1.3"/><circle cx="286.13" cy="74.83" r="1.3"/><circle cx="286.36" cy="74.73" r="1.3"/><circle cx="286.59" cy="74.84" r="1.3"/><circle cx="286.82" cy="74.78" r="1.3"/><circle cx="287.05" cy="75.39" r="1.3"/><circle cx="287.28" cy="74.32" r="1.3"/><circle cx="287.51" cy="74.62" r="1.3"/><circle cx="287.74" cy="74.35" r="1.3"/><circle cx="287.97" cy="74.08" r="1.3"/><circle cx="288.20" cy="74.68" r="1.3"/><circle cx="288.43" cy="75.23" r="1.3"/><circle cx="288.66" cy="74.95" r="1.3"/><circle cx="288.89" cy="75.05" r="1.3"/><circle cx="289.12" cy="74.84" r="1.3"/><circle cx="289.35" cy="74.67" r="1.3"/><circle cx="289.58" cy="75.33" r="1.3"/><circle cx="289.81" cy="74.63" r="1.3"/><circle cx="290.04" cy="75.23" r="1.3"/><circle cx="290.27" cy="74.70" r="1.3"/><circle cx="290.50" cy="74.86" r="1.3"/><circle cx="290.73" cy="74.96" r="1.3"/><circle cx="290.96" cy="74.91" r="1.3"/><circle cx="291.19" cy="75.09" r="1.3"/><circle cx="291.42" cy="75.14" r="1.3"/><circle cx="291.65" cy="75.50" r="1.3"/><circle cx="291.88" cy="75.02" r="1.3"/><circle cx="292.11" cy="74.47" r="1.3"/><circle cx="292.34" cy="74.45" r="1.3"/><circle cx="292.57" cy="74.68" r="1.3"/><circle cx="292.80" cy="74.89" r="1.3"/><circle cx="293.03" cy="75.34" r="1.3"/><circle cx="293.26" cy="74.71" r="1.3"/><circle cx="293.49" cy="75.19" r="1.3"/><circle cx="293.72" cy="75.22" r="1.3"/><circle cx="293.95" cy="75.31" r="1.3"/><circle cx="294.18" cy="75.21" r="1.3"/><circle cx="294.42" cy="75.39" r="1.3"/><circle cx="294.65" cy="75.30" r="1.3"/><circle cx="294.88" cy="75.63" r="1.3"/><circle cx="295.11" cy="75.43" r="1.3"/><circle cx="295.34" cy="74.63" r="1.3"/><circle cx="295.57" cy="75.37" r="1.3"/><circle cx="295.80" cy="75.44" r="1.3"/><circle cx="296.03" cy="75.22" r="1.3"/><circle cx="296.26" cy="75.18" r="1.3"/><circle cx="296.49" cy="75.76" r="1.3"/><circle cx="296.72" cy="75.50" r="1.3"/><circle cx="296.95" cy="75.17" r="1.3"/><circle cx="297.18" cy="75.39" r="1.3"/><circle cx="297.41" cy="75.45" r="1.3"/><circle cx="297.64" cy="75.03" r="1.3"/><circle cx="297.87" cy="75.74" r="1.3"/><circle cx="298.10" cy="75.53" r="1.3"/><circle cx="298.33" cy="75.74" r="1.3"/><circle cx="298.56" cy="75.14" r="1.3"/><circle cx="298.79" cy="76.24" r="1.3"/><circle cx="299.02" cy="75.87" r="1.3"/><circle cx="299.25" cy="75.85" r="1.3"/><circle cx="299.48" cy="75.51" r="1.3"/><circle cx="299.71" cy="75.56" r="1.3"/><circle cx="299.94" cy="75.34" r="1.3"/><circle cx="300.17" cy="76.29" r="1.3"/><circle cx="300.40" cy="75.59" r="1.3"/><circle cx="300.63" cy="75.94" r="1.3"/><circle cx="300.86" cy="76.08" r="1.3"/><circle cx="301.09" cy="75.72" r="1.3"/><circle cx="301.32" cy="76.19" r="1.3"/><circle cx="301.55" cy="76.56" r="1.3"/><circle cx="301.78" cy="76.04" r="1.3"/><circle cx="302.01" cy="76.39" r="1.3"/><circle cx="302.24" cy="76.13" r="1.3"/><circle cx="302.47" cy="75.81" r="1.3"/><circle cx="302.70" cy="75.82" r="1.3"/><circle cx="302.93" cy="75.41" r="1.3"/><circle cx="303.16" cy="75.95" r="1.3"/><circle cx="303.39" cy="76.35" r="1.3"/><circle cx="303.62" cy="76.09" r="1.3"/><circle cx="303.85" cy="76.12" r="1.3"/><circle cx="304.08" cy="76.19" r="1.3"/><circle cx="304.31" cy="75.65" r="1.3"/><circle cx="304.54" cy="75.96" r="1.3"/><circle cx="304.77" cy="76.34" r="1.3"/><circle cx="305.00" cy="75.49" r="1.3"/><circle cx="305.23" cy="75.71" r="1.3"/><circle cx="305.46" cy="75.54" r="1.3"/><circle cx="305.69" cy="75.59" r="1.3"/><circle cx="305.92" cy="75.40" r="1.3"/><circle cx="306.15" cy="75.56" r="1.3"/><circle cx="306.38" cy="75.16" r="1.3"/><circle cx="306.61" cy="75.39" r="1.3"/><circle cx="306.84" cy="75.37" r="1.3"/><circle cx="307.07" cy="75.34" r="1.3"/><circle cx="307.30" cy="75.90" r="1.3"/><circle cx="307.53" cy="75.48" r="1.3"/><circle cx="307.76" cy="75.48" r="1.3"/><circle cx="307.99" cy="75.32" r="1.3"/><circle cx="308.22" cy="75.78" r="1.3"/><circle cx="308.45" cy="74.84" r="1.3"/><circle cx="308.68" cy="75.29" r="1.3"/><circle cx="308.92" cy="75.68" r="1.3"/><circle cx="309.15" cy="75.82" r="1.3"/><circle cx="309.38" cy="75.36" r="1.3"/><circle cx="309.61" cy="75.28" r="1.3"/><circle cx="309.84" cy="75.46" r="1.3"/><circle cx="310.07" cy="75.20" r="1.3"/><circle cx="310.30" cy="75.41" r="1.3"/><circle cx="310.53" cy="75.03" r="1.3"/><circle cx="310.76" cy="75.41" r="1.3"/><circle cx="310.99" cy="75.18" r="1.3"/><circle cx="311.22" cy="74.86" r="1.3"/><circle cx="311.45" cy="74.36" r="1.3"/><circle cx="311.68" cy="75.45" r="1.3"/><circle cx="311.91" cy="75.27" r="1.3"/><circle cx="312.14" cy="75.37" r="1.3"/><circle cx="312.37" cy="74.86" r="1.3"/><circle cx="312.60" cy="75.45" r="1.3"/><circle cx="312.83" cy="75.23" r="1.3"/><circle cx="313.06" cy="75.09" r="1.3"/><circle cx="313.29" cy="75.37" r="1.3"/><circle cx="313.52" cy="75.35" r="1.3"/><circle cx="313.75" cy="75.20" r="1.3"/><circle cx="313.98" cy="75.69" r="1.3"/><circle cx="314.21" cy="75.48" r="1.3"/><circle cx="314.44" cy="75.15" r="1.3"/><circle cx="314.67" cy="74.97" r="1.3"/><circle cx="314.90" cy="75.07" r="1.3"/><circle cx="315.13" cy="75.55" r="1.3"/><circle cx="315.36" cy="75.14" r="1.3"/><circle cx="315.59" cy="74.75" r="1.3"/><circle cx="315.82" cy="74.82" r="1.3"/><circle cx="316.05" cy="75.01" r="1.3"/><circle cx="316.28" cy="75.25" r="1.3"/><circle cx="316.51" cy="74.78" r="1.3"/><circle cx="316.74" cy="75.14" r="1.3"/><circle cx="316.97" cy="75.32" r="1.3"/><circle cx="317.20" cy="75.20" r="1.3"/><circle cx="317.43" cy="74.51" r="1.3"/><circle cx="317.66" cy="74.88" r="1.3"/><circle cx="317.89" cy="74.58" r="1.3"/><circle cx="318.12" cy="75.08" r="1.3"/><circle cx="318.35" cy="74.64" r="1.3"/><circle cx="318.58" cy="75.11" r="1.3"/><circle cx="318.81" cy="74.97" r="1.3"/><circle cx="319.04" cy="74.16" r="1.3"/><circle cx="319.27" cy="74.68" r="1.3"/><circle cx="319.50" cy="75.06" r="1.3"/><circle cx="319.73" cy="74.93" r="1.3"/><circle cx="319.96" cy="74.80" r="1.3"/><circle cx="320.19" cy="74.53" r="1.3"/><circle cx="320.42" cy="75.04" r="1.3"/><circle cx="320.65" cy="75.42" r="1.3"/><circle cx="320.88" cy="74.97" r="1.3"/></g>
<path d="M261.50,85.96v3.50M261.73,86.67v3.50M261.96,86.73v3.50M262.19,86.67v3.50M262.42,88.30v3.50M262.65,87.43v3.50M262.88,87.31v3.50M263.11,87.37v3.50M263.34,87.04v3.50M263.57,87.32v3.50M263.80,87.66v3.50M264.03,87.64v3.50M264.26,87.39v3.50M264.49,87.83v3.50M264.72,87.50v3.50M264.95,86.96v3.50M265.18,86.35v3.50M265.41,86.97v3.50M265.65,86.66v3.50M265.88,86.27v3.50M266.11,85.50v3.50M266.34,85.68v3.50M266.57,84.71v3.50M266.80,85.22v3.50M267.03,84.48v3.50M267.26,84.00v3.50M267.49,83.13v3.50M267.72,82.50v3.50M267.95,82.87v3.50M268.18,82.06v3.50M268.41,81.01v3.50M268.64,80.73v3.50M268.87,80.38v3.50M269.10,78.83v3.50M269.33,78.34v3.50M269.56,77.65v3.50M269.79,77.28v3.50M270.02,76.09v3.50M270.25,75.79v3.50M270.48,74.67v3.50M270.71,74.61v3.50M270.94,73.90v3.50M271.17,72.91v3.50M271.40,72.54v3.50M271.63,71.51v3.50M271.86,71.05v3.50M272.09,70.85v3.50M272.32,70.05v3.50M272.55,69.71v3.50M272.78,68.93v3.50M273.01,69.02v3.50M273.24,68.67v3.50M273.47,67.96v3.50M273.70,67.50v3.50M273.93,67.45v3.50M274.16,67.95v3.50M274.39,67.91v3.50M274.62,67.62v3.50M274.85,68.21v3.50M275.08,68.64v3.50M275.31,68.56v3.50M275.54,68.74v3.50M275.77,69.42v3.50M276.00,70.01v3.50M276.23,70.32v3.50M276.46,70.10v3.50M276.69,70.93v3.50M276.92,71.16v3.50M277.15,71.48v3.50M277.38,71.77v3.50M277.61,72.46v3.50M277.84,72.60v3.50M278.07,73.39v3.50M278.30,73.58v3.50M278.53,74.10v3.50M278.76,73.72v3.50M278.99,74.34v3.50M279.22,74.78v3.50M279.45,74.84v3.50M279.68,74.94v3.50M279.91,74.76v3.50M280.15,75.55v3.50M280.38,75.40v3.50M280.61,75.19v3.50M280.84,74.23v3.50M281.07,74.65v3.50M281.30,74.89v3.50M281.53,74.51v3.50M281.76,73.94v3.50M281.99,74.49v3.50M282.22,74.36v3.50M282.45,73.69v3.50M282.68,73.73v3.50M282.91,73.50v3.50M283.14,73.69v3.50M283.37,72.79v3.50M283.60,72.71v3.50M283.83,72.94v3.50M284.06,72.80v3.50M284.29,73.54v3.50M284.52,72.67v3.50M284.75,72.88v3.50M284.98,72.66v3.50M285.21,72.58v3.50M285.44,72.90v3.50M285.67,73.32v3.50M285.90,72.72v3.50M286.13,73.08v3.50M286.36,72.98v3.50M286.59,73.09v3.50M286.82,73.03v3.50M287.05,73.64v3.50M287.28,72.57v3.50M287.51,72.87v3.50M287.74,72.60v3.50M287.97,72.33v3.50M288.20,72.93v3.50M288.43,73.48v3.50M288.66,73.20v3.50M288.89,73.30v3.50M289.12,73.09v3.50M289.35,72.92v3.50M289.58,73.58v3.50M289.81,72.88v3.50M290.04,73.48v3.50M290.27,72.95v3.50M290.50,73.11v3.50M290.73,73.21v3.50M290.96,73.16v3.50M291.19,73.34v3.50M291.42,73.39v3.50M291.65,73.75v3.50M291.88,73.27v3.50M292.11,72.72v3.50M292.34,72.70v3.50M292.57,72.93v3.50M292.80,73.14v3.50M293.03,73.59v3.50M293.26,72.96v3.50M293.49,73.44v3.50M293.72,73.47v3.50M293.95,73.56v3.50M294.18,73.46v3.50M294.42,73.64v3.50M294.65,73.55v3.50M294.88,73.88v3.50M295.11,73.68v3.50M295.34,72.88v3.50M295.57,73.62v3.50M295.80,73.69v3.50M296.03,73.47v3.50M296.26,73.43v3.50M296.49,74.01v3.50M296.72,73.75v3.50M296.95,73.42v3.50M297.18,73.64v3.50M297.41,73.70v3.50M297.64,73.28v3.50M297.87,73.99v3.50M298.10,73.78v3.50M298.33,73.99v3.50M298.56,73.39v3.50M298.79,74.49v3.50M299.02,74.12v3.50M299.25,74.10v3.50M299.48,73.76v3.50M299.71,73.81v3.50M299.94,73.59v3.50M300.17,74.54v3.50M300.40,73.84v3.50M300.63,74.19v3.50M300.86,74.33v3.50M301.09,73.97v3.50M301.32,74.44v3.50M301.55,74.81v3.50M301.78,74.29v3.50M302.01,74.64v3.50M302.24,74.38v3.50M302.47,74.06v3.50M302.70,74.07v3.50M302.93,73.66v3.50M303.16,74.20v3.50M303.39,74.60v3.50M303.62,74.34v3.50M303.85,74.37v3.50M304.08,74.44v3.50M304.31,73.90v3.50M304.54,74.21v3.50M304.77,74.59v3.50M305.00,73.74v3.50M305.23,73.96v3.50M305.46,73.79v3.50M305.69,73.84v3.50M305.92,73.65v3.50M306.15,73.81v3.50M306.38,73.41v3.50M306.61,73.64v3.50M306.84,73.62v3.50M307.07,73.59v3.50M307.30,74.15v3.50M307.53,73.73v3.50M307.76,73.73v3.50M307.99,73.57v3.50M308.22,74.03v3.50M308.45,73.09v3.50M308.68,73.54v3.50M308.92,73.93v3.50M309.15,74.07v3.50M309.38,73.61v3.50M309.61,73.53v3.50M309.84,73.71v3.50M310.07,73.45v3.50M310.30,73.66v3.50M310.53,73.28v3.50M310.76,73.66v3.50M310.99,73.43v3.50M311.22,73.11v3.50M311.45,72.61v3.50M311.68,73.70v3.50M311.91,73.52v3.50M312.14,73.62v3.50M312.37,73.11v3.50M312.60,73.70v3.50M312.83,73.48v3.50M313.06,73.34v3.50M313.29,73.62v3.50M313.52,73.60v3.50M313.75,73.45v3.50M313.98,73.94v3.50M314.21,73.73v3.50M314.44,73.40v3.50M314.67,73.22v3.50M314.90,73.32v3.50M315.13,73.80v3.50M315.36,73.39v3.50M315.59,73.00v3.50M315.82,73.07v3.50M316.05,73.26v3.50M316.28,73.50v3.50M316.51,73.03v3.50M316.74,73.39v3.50M316.97,73.57v3.50M317.20,73.45v3.50M317.43,72.76v3.50M317.66,73.13v3.50M317.89,72.83v3.50M318.12,73.33v3.50M318.35,72.89v3.50M318.58,73.36v3.50M318.81,73.22v3.50M319.04,72.41v3.50M319.27,72.93v3.50M319.50,73.31v3.50M319.73,73.18v3.50M319.96,73.05v3.50M320.19,72.78v3.50M320.42,73.29v3.50M320.65,73.67v3.50M320.88,73.22v3.50" stroke="#151510" stroke-width="0.6" fill="none"/>
<path d="M42.62,192.11 L42.84,192.06 L43.06,192.01 L43.28,191.96 L43.50,191.91 L43.72,191.85 L43.94,191.80 L44.16,191.75 L44.37,191.70 L44.59,191.65 L44.81,191.59 L45.03,191.54 L45.25,191.49 L45.47,191.44 L45.69,191.38 L45.91,191.33 L46.13,191.28 L46.35,191.22 L46.57,191.17 L46.79,191.12 L47.01,191.07 L47.23,191.01 L47.45,190.96 L47.67,190.91 L47.88,190.85 L48.10,190.80 L48.32,190.74 L48.54,190.69 L48.76,190.64 L48.98,190.58 L49.20,190.53 L49.42,190.47 L49.64,190.42 L49.86,190.36 L50.08,190.31 L50.30,190.25 L50.52,190.20 L50.74,190.14 L50.96,190.09 L51.17,190.03 L51.39,189.98 L51.61,189.92 L51.83,189.87 L52.05,189.81 L52.27,189.76 L52.49,189.70 L52.71,189.64 L52.93,189.59 L53.15,189.53 L53.37,189.48 L53.59,189.42 L53.81,189.36 L54.03,189.31 L54.25,189.25 L54.47,189.19 L54.68,189.14 L54.90,189.08 L55.12,189.02 L55.34,188.96 L55.56,188.91 L55.78,188.85 L56.00,188.79 L56.22,188.73 L56.44,188.68 L56.66,188.62 L56.88,188.56 L57.10,188.50 L57.32,188.44 L57.54,188.38 L57.76,188.33 L57.97,188.27 L58.19,188.21 L58.41,188.15 L58.63,188.09 L58.85,188.03 L59.07,187.97 L59.29,187.91 L59.51,187.85 L59.73,187.79 L59.95,187.73 L60.17,187.67 L60.39,187.61 L60.61,187.55 L60.83,187.49 L61.05,187.43 L61.27,187.37 L61.48,187.31 L61.70,187.25 L61.92,187.19 L62.14,187.13 L62.36,187.07 L62.58,187.00 L62.80,186.94 L63.02,186.88 L63.24,186.82 L63.46,186.76 L63.68,186.70 L63.90,186.63 L64.12,186.57 L64.34,186.51 L64.56,186.45 L64.78,186.38 L64.99,186.32 L65.21,186.26 L65.43,186.19 L65.65,186.13 L65.87,186.07 L66.09,186.00 L66.31,185.94 L66.53,185.88 L66.75,185.81 L66.97,185.75 L67.19,185.68 L67.41,185.62 L67.63,185.55 L67.85,185.49 L68.07,185.43 L68.28,185.36 L68.50,185.29 L68.72,185.23 L68.94,185.16 L69.16,185.10 L69.38,185.03 L69.60,184.97 L69.82,184.90 L70.04,184.83 L70.26,184.77 L70.48,184.70 L70.70,184.64 L70.92,184.57 L71.14,184.50 L71.36,184.43 L71.58,184.37 L71.79,184.30 L72.01,184.23 L72.23,184.16 L72.45,184.10 L72.67,184.03 L72.89,183.96 L73.11,183.89 L73.33,183.82 L73.55,183.75 L73.77,183.69 L73.99,183.62 L74.21,183.55 L74.43,183.48 L74.65,183.41 L74.87,183.34 L75.08,183.27 L75.30,183.20 L75.52,183.13 L75.74,183.06 L75.96,182.99 L76.18,182.92 L76.40,182.85 L76.62,182.77 L76.84,182.70 L77.06,182.63 L77.28,182.56 L77.50,182.49 L77.72,182.42 L77.94,182.34 L78.16,182.27 L78.38,182.20 L78.59,182.13 L78.81,182.05 L79.03,181.98 L79.25,181.91 L79.47,181.83 L79.69,181.76 L79.91,181.69 L80.13,181.61 L80.35,181.54 L80.57,181.47 L80.79,181.39 L81.01,181.32 L81.23,181.24 L81.45,181.17 L81.67,181.09 L81.88,181.02 L82.10,180.94 L82.32,180.86 L82.54,180.79 L82.76,180.71 L82.98,180.64 L83.20,180.56 L83.42,180.48 L83.64,180.40 L83.86,180.33 L84.08,180.25 L84.30,180.17 L84.52,180.09 L84.74,180.02 L84.96,179.94 L85.18,179.86 L85.39,179.78 L85.61,179.70 L85.83,179.62 L86.05,179.54 L86.27,179.46 L86.49,179.38 L86.71,179.30 L86.93,179.22 L87.15,179.14 L87.37,179.06 L87.59,178.98 L87.81,178.90 L88.03,178.82 L88.25,178.74 L88.47,178.66 L88.68,178.58 L88.90,178.49 L89.12,178.41 L89.34,178.33 L89.56,178.25 L89.78,178.16 L90.00,178.08 L90.22,178.00 L90.44,177.91 L90.66,177.83 L90.88,177.74 L91.10,177.66 L91.32,177.57 L91.54,177.49 L91.76,177.40 L91.98,177.32 L92.19,177.23 L92.41,177.15 L92.63,177.06 L92.85,176.97 L93.07,176.89 L93.29,176.80 L93.51,176.71 L93.73,176.63 L93.95,176.54 L94.17,176.45 L94.39,176.36 L94.61,176.27 L94.83,176.19 L95.05,176.10 L95.27,176.01 L95.48,175.92 L95.70,175.83 L95.92,175.74 L96.14,175.65 L96.36,175.56 L96.58,175.47 L96.80,175.37 L97.02,175.28 L97.24,175.19 L97.46,175.10 L97.68,175.01 L97.90,174.91 L98.12,174.82 L98.34,174.73 L98.56,174.64 L98.78,174.54 L98.99,174.45 L99.21,174.35 L99.43,174.26 L99.65,174.16 L99.87,174.07 L100.09,173.97 L100.31,173.88 L100.53,173.78 L100.75,173.69 L100.97,173.59 L101.19,173.49 L101.41,173.40 L101.63,173.30 L101.85,173.20 L102.07,173.10 L102.29,173.00 L102.50,172.90 L102.72,172.81 L102.94,172.71 L103.16,172.61 L103.38,172.51 L103.60,172.41 L103.82,172.30 L104.04,172.20 L104.26,172.10 L104.48,172.00 L104.70,171.90 L104.92,171.80 L105.14,171.69 L105.36,171.59 L105.58,171.49 L105.79,171.38 L106.01,171.28 L106.23,171.17 L106.45,171.07 L106.67,170.96 L106.89,170.86 L107.11,170.75 L107.33,170.65 L107.55,170.54 L107.77,170.43 L107.99,170.33 L108.21,170.22 L108.43,170.11 L108.65,170.00 L108.87,169.89 L109.09,169.78 L109.30,169.67 L109.52,169.56 L109.74,169.45 L109.96,169.34 L110.18,169.23 L110.40,169.12 L110.62,169.01 L110.84,168.90 L111.06,168.78 L111.28,168.67 L111.50,168.56 L111.72,168.44 L111.94,168.33 L112.16,168.21 L112.38,168.10 L112.59,167.98 L112.81,167.87 L113.03,167.75 L113.25,167.63 L113.47,167.52 L113.69,167.40 L113.91,167.28 L114.13,167.16 L114.35,167.04 L114.57,166.92 L114.79,166.80 L115.01,166.68 L115.23,166.56 L115.45,166.44 L115.67,166.32 L115.89,166.20 L116.10,166.07 L116.32,165.95 L116.54,165.83 L116.76,165.70 L116.98,165.58 L117.20,165.45 L117.42,165.33 L117.64,165.20 L117.86,165.07 L118.08,164.95 L118.30,164.82 L118.52,164.69 L118.74,164.56 L118.96,164.43 L119.18,164.30 L119.39,164.17 L119.61,164.04 L119.83,163.91 L120.05,163.78 L120.27,163.65 L120.49,163.52 L120.71,163.38 L120.93,163.25 L121.15,163.11 L121.37,162.98 L121.59,162.84 L121.81,162.71 L122.03,162.57 L122.25,162.43 L122.47,162.30 L122.69,162.16 L122.90,162.02 L123.12,161.88 L123.34,161.74 L123.56,161.60 L123.78,161.46 L124.00,161.32 L124.22,161.17 L124.44,161.03 L124.66,160.89 L124.88,160.74 L125.10,160.60 L125.32,160.45 L125.54,160.31 L125.76,160.16 L125.98,160.01 L126.19,159.86 L126.41,159.71 L126.63,159.56 L126.85,159.41 L127.07,159.26 L127.29,159.11 L127.51,158.96 L127.73,158.81 L127.95,158.65 L128.17,158.50 L128.39,158.34 L128.61,158.19 L128.83,158.03 L129.05,157.87 L129.27,157.72 L129.49,157.56 L129.70,157.40 L129.92,157.24 L130.14,157.08 L130.36,156.92 L130.58,156.75 L130.80,156.59 L131.02,156.43 L131.24,156.26 L131.46,156.10 L131.68,155.93 L131.90,155.76 L132.12,155.60 L132.34,155.43 L132.56,155.26 L132.78,155.09 L132.99,154.92 L133.21,154.74 L133.43,154.57 L133.65,154.40 L133.87,154.22 L134.09,154.05 L134.31,153.87 L134.53,153.69 L134.75,153.52 L134.97,153.34 L135.19,153.16 L135.41,152.98 L135.63,152.79 L135.85,152.61 L136.07,152.43 L136.29,152.24 L136.50,152.06 L136.72,151.87 L136.94,151.68 L137.16,151.49 L137.38,151.30 L137.60,151.11 L137.82,150.92 L138.04,150.73 L138.26,150.54 L138.48,150.34 L138.70,150.15 L138.92,149.95 L139.14,149.75 L139.36,149.55 L139.58,149.35 L139.80,149.15 L140.01,148.95 L140.23,148.75 L140.45,148.54 L140.67,148.34 L140.89,148.13 L141.11,147.92 L141.33,147.71 L141.55,147.50 L141.77,147.29 L141.99,147.08 L142.21,146.86 L142.43,146.65 L142.65,146.43 L142.87,146.21 L143.09,145.99 L143.30,145.77 L143.52,145.55 L143.74,145.33 L143.96,145.10 L144.18,144.88 L144.40,144.65 L144.62,144.42 L144.84,144.19 L145.06,143.96 L145.28,143.73 L145.50,143.49 L145.72,143.26 L145.94,143.02 L146.16,142.78 L146.38,142.54 L146.60,142.30 L146.81,142.06 L147.03,141.81 L147.25,141.57 L147.47,141.32 L147.69,141.07 L147.91,140.82 L148.13,140.57 L148.35,140.31 L148.57,140.06 L148.79,139.80 L149.01,139.54 L149.23,139.28 L149.45,139.02 L149.67,138.75 L149.89,138.48 L150.10,138.22 L150.32,137.95 L150.54,137.67 L150.76,137.40 L150.98,137.13 L151.20,136.85 L151.42,136.57 L151.64,136.29 L151.86,136.00 L152.08,135.72 L152.30,135.43 L152.52,135.14 L152.74,134.85 L152.96,134.56 L153.18,134.26 L153.40,133.96 L153.61,133.66 L153.83,133.36 L154.05,133.05 L154.27,132.75 L154.49,132.44 L154.71,132.13 L154.93,131.81 L155.15,131.50 L155.37,131.18 L155.59,130.86 L155.81,130.53 L156.03,130.21 L156.25,129.88 L156.47,129.55 L156.69,129.21 L156.90,128.87 L157.12,128.54 L157.34,128.19 L157.56,127.85 L157.78,127.50 L158.00,127.15 L158.22,126.80 L158.44,126.44 L158.66,126.08 L158.88,125.72 L159.10,125.35 L159.32,124.98 L159.54,124.61 L159.76,124.24 L159.98,123.86 L160.20,123.48 L160.41,123.09 L160.63,122.70 L160.85,122.31 L161.07,121.92 L161.29,121.52 L161.51,121.12 L161.73,120.71 L161.95,120.30 L162.17,119.89 L162.39,119.47 L162.61,119.05 L162.83,118.62 L163.05,118.19 L163.27,117.76 L163.49,117.32 L163.70,116.88 L163.92,116.44 L164.14,115.99 L164.36,115.53 L164.58,115.07 L164.80,114.61 L165.02,114.14 L165.24,113.67 L165.46,113.19 L165.68,112.71 L165.90,112.22 L166.12,111.73 L166.34,111.23 L166.56,110.73 L166.78,110.22 L167.00,109.70 L167.21,109.18 L167.43,108.66 L167.65,108.13 L167.87,107.59 L168.09,107.05 L168.31,106.50 L168.53,105.94 L168.75,105.38 L168.97,104.81 L169.19,104.24 L169.41,103.66 L169.63,103.07 L169.85,102.48 L170.07,101.88 L170.29,101.27 L170.50,100.65 L170.72,100.03 L170.94,99.40 L171.16,98.76 L171.38,98.11 L171.60,97.46 L171.82,96.79 L172.04,96.12 L172.26,95.44 L172.48,94.75 L172.70,94.05 L172.92,93.35 L173.14,92.63 L173.36,91.90 L173.58,91.17 L173.80,90.42 L174.01,89.67 L174.23,88.90 L174.45,88.12 L174.67,87.34 L174.89,86.54 L175.11,85.73 L175.33,84.91 L175.55,84.07 L175.77,83.23 L175.99,82.37 L176.21,81.50 L176.43,80.62 L176.65,79.73 L176.87,78.82 L177.09,77.90 L177.31,76.96 L177.52,76.01 L177.74,75.05 L177.96,74.08 L178.18,73.08 L178.40,72.08 L178.62,71.06 L178.84,70.02 L179.06,68.97 L179.28,67.91 L179.50,66.83 L179.72,65.74 L179.94,64.63 L180.16,63.50 L180.38,62.36 L180.60,61.21 L180.81,60.04 L181.03,58.86 L181.25,57.67 L181.47,56.47 L181.69,55.25 L181.91,54.03 L182.13,52.79 L182.35,51.55 L182.57,50.31 L182.79,49.06 L183.01,47.81 L183.23,46.57 L183.45,45.33 L183.67,44.10 L183.89,42.88 L184.11,41.68 L184.32,40.51 L184.54,39.37 L184.76,38.26 L184.98,37.20 L185.20,36.18 L185.42,35.22 L185.64,34.33 L185.86,33.51 L186.08,32.77 L186.30,32.12 L186.52,31.56 L186.74,31.10 L186.96,30.75 L187.18,30.51 L187.40,30.39 L187.61,30.37 L187.83,30.48 L188.05,30.69 L188.27,31.02 L188.49,31.46 L188.71,31.99 L188.93,32.63 L189.15,33.35 L189.37,34.15 L189.59,35.03 L189.81,35.97 L190.03,36.97 L190.25,38.02 L190.47,39.12 L190.69,40.25 L190.91,41.42 L191.12,42.61 L191.34,43.81 L191.56,45.04 L191.78,46.27 L192.00,47.51 L192.22,48.75 L192.44,49.99 L192.66,51.23 L192.88,52.47 L193.10,53.69 L193.32,54.91 L193.54,56.12 L193.76,57.32 L193.98,58.50 L194.20,59.68 L194.41,60.83 L194.63,61.98 L194.85,63.11 L195.07,64.22 L195.29,65.32 L195.51,66.40 L195.73,67.47 L195.95,68.52 L196.17,69.56 L196.39,70.58 L196.61,71.58 L196.83,72.57 L197.05,73.55 L197.27,74.51 L197.49,75.45 L197.71,76.38 L197.92,77.29 L198.14,78.19 L198.36,79.08 L198.58,79.95 L198.80,80.80 L199.02,81.65 L199.24,82.48 L199.46,83.29 L199.68,84.10 L199.90,84.89 L200.12,85.67 L200.34,86.43 L200.56,87.19 L200.78,87.93 L201.00,88.66 L201.21,89.37 L201.43,90.08 L201.65,90.78 L201.87,91.46 L202.09,92.13 L202.31,92.80 L202.53,93.45 L202.75,94.09 L202.97,94.72 L203.19,95.34 L203.41,95.95 L203.63,96.56 L203.85,97.15 L204.07,97.73 L204.29,98.30 L204.51,98.87 L204.72,99.42 L204.94,99.97 L205.16,100.51 L205.38,101.03 L205.60,101.55 L205.82,102.06 L206.04,102.57 L206.26,103.06 L206.48,103.55 L206.70,104.02 L206.92,104.49 L207.14,104.96 L207.36,105.41 L207.58,105.86 L207.80,106.30 L208.01,106.73 L208.23,107.15 L208.45,107.57 L208.67,107.98 L208.89,108.38 L209.11,108.77 L209.33,109.16 L209.55,109.54 L209.77,109.91 L209.99,110.28 L210.21,110.64 L210.43,110.99 L210.65,111.33 L210.87,111.67 L211.09,112.00 L211.31,112.33 L211.52,112.65 L211.74,112.96 L211.96,113.26 L212.18,113.56 L212.40,113.86 L212.62,114.14 L212.84,114.42 L213.06,114.69 L213.28,114.96 L213.50,115.22 L213.72,115.47 L213.94,115.72 L214.16,115.96 L214.38,116.20 L214.60,116.43 L214.81,116.65 L215.03,116.87 L215.25,117.08 L215.47,117.29 L215.69,117.48 L215.91,117.68 L216.13,117.86 L216.35,118.04 L216.57,118.22 L216.79,118.39 L217.01,118.55 L217.23,118.71 L217.45,118.86 L217.67,119.00 L217.89,119.14 L218.11,119.28 L218.32,119.40 L218.54,119.52 L218.76,119.64 L218.98,119.75 L219.20,119.85 L219.42,119.95 L219.64,120.04 L219.86,120.13 L220.08,120.20 L220.30,120.28 L220.52,120.35 L220.74,120.41 L220.96,120.46 L221.18,120.51 L221.40,120.56 L221.62,120.59 L221.83,120.63 L222.05,120.65 L222.27,120.67 L222.49,120.68 L222.71,120.69 L222.93,120.69 L223.15,120.69 L223.37,120.68 L223.59,120.66 L223.81,120.64 L224.03,120.61 L224.25,120.57 L224.47,120.53 L224.69,120.48 L224.91,120.43 L225.12,120.36 L225.34,120.30 L225.56,120.22 L225.78,120.14 L226.00,120.06 L226.22,119.96 L226.44,119.86 L226.66,119.75 L226.88,119.64 L227.10,119.52 L227.32,119.39 L227.54,119.26 L227.76,119.12 L227.98,118.97 L228.20,118.82 L228.42,118.66 L228.63,118.49 L228.85,118.31 L229.07,118.13 L229.29,117.94 L229.51,117.74 L229.73,117.53 L229.95,117.32 L230.17,117.10 L230.39,116.87 L230.61,116.64 L230.83,116.39 L231.05,116.14 L231.27,115.88 L231.49,115.61 L231.71,115.34 L231.92,115.05 L232.14,114.76 L232.36,114.46 L232.58,114.15 L232.80,113.83 L233.02,113.50 L233.24,113.17 L233.46,112.82 L233.68,112.47 L233.90,112.10 L234.12,111.73 L234.34,111.35 L234.56,110.96 L234.78,110.55 L235.00,110.14 L235.22,109.72 L235.43,109.29 L235.65,108.84 L235.87,108.39 L236.09,107.93 L236.31,107.45 L236.53,106.96 L236.75,106.47 L236.97,105.96 L237.19,105.43 L237.41,104.90 L237.63,104.36 L237.85,103.80 L238.07,103.23 L238.29,102.65 L238.51,102.05 L238.72,101.44 L238.94,100.82 L239.16,100.19 L239.38,99.54 L239.60,98.87 L239.82,98.20 L240.04,97.50 L240.26,96.80 L240.48,96.08 L240.70,95.34 L240.92,94.59 L241.14,93.82 L241.36,93.04 L241.58,92.24 L241.80,91.43 L242.02,90.59 L242.23,89.75 L242.45,88.89 L242.67,88.01 L242.89,87.11 L243.11,86.20 L243.33,85.27 L243.55,84.33 L243.77,83.36 L243.99,82.39 L244.21,81.40 L244.43,80.39 L244.65,79.37 L244.87,78.34 L245.09,77.29 L245.31,76.23 L245.52,75.16 L245.74,74.09 L245.96,73.00 L246.18,71.91 L246.40,70.82 L246.62,69.72 L246.84,68.63 L247.06,67.54 L247.28,66.47 L247.50,65.40 L247.72,64.36 L247.94,63.33 L248.16,62.34 L248.38,61.37 L248.60,60.45 L248.82,59.57 L249.03,58.74 L249.25,57.97 L249.47,57.27 L249.69,56.64 L249.91,56.08 L250.13,55.61 L250.35,55.23 L250.57,54.94 L250.79,54.74 L251.01,54.64 L251.23,54.64 L251.45,54.74 L251.67,54.93 L251.89,55.21 L252.11,55.59 L252.32,56.05 L252.54,56.59 L252.76,57.20 L252.98,57.89 L253.20,58.63 L253.42,59.42 L253.64,60.26 L253.86,61.14 L254.08,62.06 L254.30,63.00 L254.52,63.96 L254.74,64.94 L254.96,65.93 L255.18,66.92 L255.40,67.92 L255.62,68.91 L255.83,69.90 L256.05,70.88 L256.27,71.85 L256.49,72.80 L256.71,73.74 L256.93,74.66 L257.15,75.55 L257.37,76.43 L257.59,77.29 L257.81,78.12 L258.03,78.92 L258.25,79.70 L258.47,80.46 L258.69,81.18 L258.91,81.88 L259.13,82.55 L259.34,83.19 L259.56,83.80 L259.78,84.38 L260.00,84.93 L260.22,85.46 L260.44,85.95 L260.66,86.41 L260.88,86.84 L261.10,87.23 L261.32,87.60 L261.54,87.94 L261.76,88.24 L261.98,88.51 L262.20,88.75 L262.42,88.96 L262.63,89.14 L262.85,89.29 L263.07,89.41 L263.29,89.49 L263.51,89.54 L263.73,89.56 L263.95,89.55 L264.17,89.51 L264.39,89.43 L264.61,89.33 L264.83,89.19 L265.05,89.03 L265.27,88.83 L265.49,88.60 L265.71,88.34 L265.93,88.06 L266.14,87.74 L266.36,87.39 L266.58,87.02 L266.80,86.62 L267.02,86.19 L267.24,85.73 L267.46,85.25 L267.68,84.74 L267.90,84.21 L268.12,83.66 L268.34,83.08 L268.56,82.49 L268.78,81.88 L269.00,81.25 L269.22,80.61 L269.43,79.96 L269.65,79.30 L269.87,78.63 L270.09,77.96 L270.31,77.29 L270.53,76.62 L270.75,75.96 L270.97,75.32 L271.19,74.68 L271.41,74.07 L271.63,73.48 L271.85,72.92 L272.07,72.40 L272.29,71.91 L272.51,71.46 L272.73,71.06 L272.94,70.70 L273.16,70.40 L273.38,70.16 L273.60,69.96 L273.82,69.83 L274.04,69.75 L274.26,69.73 L274.48,69.76 L274.70,69.85 L274.92,69.99 L275.14,70.18 L275.36,70.41 L275.58,70.68 L275.80,70.99 L276.02,71.32 L276.23,71.68 L276.45,72.05 L276.67,72.44 L276.89,72.84 L277.11,73.23 L277.33,73.63 L277.55,74.02 L277.77,74.39 L277.99,74.75 L278.21,75.09 L278.43,75.41 L278.65,75.70 L278.87,75.96 L279.09,76.19 L279.31,76.38 L279.53,76.54 L279.74,76.67 L279.96,76.76 L280.18,76.82 L280.40,76.84 L280.62,76.83 L280.84,76.79 L281.06,76.72 L281.28,76.63 L281.50,76.51 L281.72,76.37 L281.94,76.22 L282.16,76.06 L282.38,75.89 L282.60,75.71 L282.82,75.54 L283.03,75.37 L283.25,75.22 L283.47,75.07 L283.69,74.94 L283.91,74.83 L284.13,74.74 L284.35,74.67 L284.57,74.61 L284.79,74.58 L285.01,74.56 L285.23,74.55 L285.45,74.56 L285.67,74.57 L285.89,74.59 L286.11,74.62 L286.33,74.64 L286.54,74.66 L286.76,74.68 L286.98,74.70 L287.20,74.70 L287.42,74.71 L287.64,74.71 L287.86,74.70 L288.08,74.70 L288.30,74.69 L288.52,74.69 L288.74,74.69 L288.96,74.69 L289.18,74.70 L289.40,74.71 L289.62,74.73 L289.83,74.75 L290.05,74.78 L290.27,74.81 L290.49,74.84 L290.71,74.87 L290.93,74.90 L291.15,74.93 L291.37,74.96 L291.59,74.99 L291.81,75.01 L292.03,75.04 L292.25,75.06 L292.47,75.09 L292.69,75.11 L292.91,75.13 L293.13,75.15 L293.34,75.17 L293.56,75.19 L293.78,75.21 L294.00,75.23 L294.22,75.25 L294.44,75.27 L294.66,75.29 L294.88,75.30 L295.10,75.32 L295.32,75.34 L295.54,75.35 L295.76,75.37 L295.98,75.39 L296.20,75.40 L296.42,75.42 L296.64,75.44 L296.85,75.45 L297.07,75.47 L297.29,75.49 L297.51,75.51 L297.73,75.53 L297.95,75.55 L298.17,75.57 L298.39,75.60 L298.61,75.62 L298.83,75.65 L299.05,75.67 L299.27,75.70 L299.49,75.73 L299.71,75.75 L299.93,75.78 L300.14,75.81 L300.36,75.83 L300.58,75.85 L300.80,75.87 L301.02,75.89 L301.24,75.91 L301.46,75.92 L301.68,75.93 L301.90,75.94 L302.12,75.94 L302.34,75.94 L302.56,75.93 L302.78,75.92 L303.00,75.91 L303.22,75.89 L303.44,75.88 L303.65,75.86 L303.87,75.84 L304.09,75.81 L304.31,75.79 L304.53,75.77 L304.75,75.74 L304.97,75.72 L305.19,75.69 L305.41,75.66 L305.63,75.64 L305.85,75.61 L306.07,75.59 L306.29,75.56 L306.51,75.54 L306.73,75.51 L306.94,75.49 L307.16,75.47 L307.38,75.45 L307.60,75.43 L307.82,75.41 L308.04,75.39 L308.26,75.37 L308.48,75.35 L308.70,75.33 L308.92,75.31 L309.14,75.30 L309.36,75.28 L309.58,75.27 L309.80,75.25 L310.02,75.24 L310.24,75.22 L310.45,75.21 L310.67,75.20 L310.89,75.18 L311.11,75.17 L311.33,75.16 L311.55,75.15 L311.77,75.14 L311.99,75.13 L312.21,75.12 L312.43,75.11 L312.65,75.10 L312.87,75.09 L313.09,75.08 L313.31,75.07 L313.53,75.07 L313.74,75.06 L313.96,75.05 L314.18,75.04 L314.40,75.03 L314.62,75.03 L314.84,75.02 L315.06,75.01 L315.28,75.01 L315.50,75.00 L315.72,75.00 L315.94,74.99 L316.16,74.98 L316.38,74.98 L316.60,74.97 L316.82,74.97 L317.04,74.96 L317.25,74.96 L317.47,74.95 L317.69,74.95 L317.91,74.94 L318.13,74.94 L318.35,74.94 L318.57,74.93 L318.79,74.93 L319.01,74.92 L319.23,74.92 L319.45,74.92 L319.67,74.91 L319.89,74.91 L320.11,74.91 L320.33,74.90 L320.54,74.90 L320.76,74.90 L320.98,74.89 L321.20,74.89 L321.42,74.89 L321.64,74.88 L321.86,74.88 L322.08,74.88 L322.30,74.87 L322.52,74.87 L322.74,74.87 L322.96,74.87 L323.18,74.86 L323.40,74.86 L323.62,74.86 L323.84,74.86 L324.05,74.85 L324.27,74.85 L324.49,74.85 L324.71,74.85 L324.93,74.85 L325.15,74.84 L325.37,74.84 L325.59,74.84 L325.81,74.84 L326.03,74.83 L326.25,74.83 L326.47,74.83 L326.69,74.83 L326.91,74.83 L327.13,74.83 L327.34,74.82 L327.56,74.82 L327.78,74.82 L328.00,74.82 L328.22,74.82 L328.44,74.81 L328.66,74.81 L328.88,74.81 L329.10,74.81 L329.32,74.81 L329.54,74.81 L329.76,74.81 L329.98,74.80 L330.20,74.80 L330.42,74.80 L330.64,74.80 L330.85,74.80 L331.07,74.80 L331.29,74.80 L331.51,74.79 L331.73,74.79 L331.95,74.79 L332.17,74.79 L332.39,74.79 L332.61,74.79 L332.83,74.79 L333.05,74.78 L333.27,74.78 L333.49,74.78 L333.71,74.78 L333.93,74.78 L334.15,74.78 L334.36,74.78 L334.58,74.78 L334.80,74.78 L335.02,74.77 L335.24,74.77 L335.46,74.77 L335.68,74.77 L335.90,74.77 L336.12,74.77 L336.34,74.77 L336.56,74.77 L336.78,74.77 L337.00,74.76 L337.22,74.76 L337.44,74.76 L337.65,74.76 L337.87,74.76 L338.09,74.76 L338.31,74.76 L338.53,74.76 L338.75,74.76 L338.97,74.76 L339.19,74.76 L339.41,74.75 L339.63,74.75 L339.85,74.75 L340.07,74.75 L340.29,74.75 L340.51,74.75 L340.73,74.75 L340.95,74.75 L341.16,74.75 L341.38,74.75 L341.60,74.75 L341.82,74.75 L342.04,74.74 L342.26,74.74 L342.48,74.74 L342.70,74.74 L342.92,74.74 L343.14,74.74 L343.36,74.74 L343.58,74.74 L343.80,74.74 L344.02,74.74 L344.24,74.74 L344.45,74.74 L344.67,74.74 L344.89,74.73 L345.11,74.73 L345.33,74.73 L345.55,74.73 L345.77,74.73 L345.99,74.73 L346.21,74.73 L346.43,74.73 L346.65,74.73 L346.87,74.73 L347.09,74.73 L347.31,74.73 L347.53,74.73 L347.75,74.73 L347.96,74.73 L348.18,74.72 L348.40,74.72 L348.62,74.72 L348.84,74.72 L349.06,74.72 L349.28,74.72 L349.50,74.72" stroke="#ff0a0a" stroke-width="1.5" fill="none"/>
<path d="M42.62,217.98 L42.84,217.89 L43.06,217.81 L43.28,217.73 L43.50,217.64 L43.72,217.56 L43.94,217.48 L44.16,217.39 L44.37,217.31 L44.59,217.23 L44.81,217.14 L45.03,217.06 L45.25,216.97 L45.47,216.89 L45.69,216.80 L45.91,216.72 L46.13,216.63 L46.35,216.55 L46.57,216.46 L46.79,216.38 L47.01,216.29 L47.23,216.21 L47.45,216.12 L47.67,216.03 L47.88,215.95 L48.10,215.86 L48.32,215.78 L48.54,215.69 L48.76,215.60 L48.98,215.52 L49.20,215.43 L49.42,215.34 L49.64,215.25 L49.86,215.17 L50.08,215.08 L50.30,214.99 L50.52,214.90 L50.74,214.82 L50.96,214.73 L51.17,214.64 L51.39,214.55 L51.61,214.46 L51.83,214.38 L52.05,214.29 L52.27,214.20 L52.49,214.11 L52.71,214.02 L52.93,213.93 L53.15,213.84 L53.37,213.75 L53.59,213.66 L53.81,213.57 L54.03,213.48 L54.25,213.39 L54.47,213.30 L54.68,213.21 L54.90,213.12 L55.12,213.03 L55.34,212.94 L55.56,212.85 L55.78,212.76 L56.00,212.67 L56.22,212.57 L56.44,212.48 L56.66,212.39 L56.88,212.30 L57.10,212.21 L57.32,212.11 L57.54,212.02 L57.76,211.93 L57.97,211.84 L58.19,211.74 L58.41,211.65 L58.63,211.56 L58.85,211.46 L59.07,211.37 L59.29,211.28 L59.51,211.18 L59.73,211.09 L59.95,210.99 L60.17,210.90 L60.39,210.81 L60.61,210.71 L60.83,210.62 L61.05,210.52 L61.27,210.43 L61.48,210.33 L61.70,210.24 L61.92,210.14 L62.14,210.04 L62.36,209.95 L62.58,209.85 L62.80,209.76 L63.02,209.66 L63.24,209.56 L63.46,209.47 L63.68,209.37 L63.90,209.27 L64.12,209.17 L64.34,209.08 L64.56,208.98 L64.78,208.88 L64.99,208.78 L65.21,208.68 L65.43,208.59 L65.65,208.49 L65.87,208.39 L66.09,208.29 L66.31,208.19 L66.53,208.09 L66.75,207.99 L66.97,207.89 L67.19,207.79 L67.41,207.69 L67.63,207.59 L67.85,207.49 L68.07,207.39 L68.28,207.29 L68.50,207.19 L68.72,207.09 L68.94,206.99 L69.16,206.89 L69.38,206.78 L69.60,206.68 L69.82,206.58 L70.04,206.48 L70.26,206.38 L70.48,206.27 L70.70,206.17 L70.92,206.07 L71.14,205.96 L71.36,205.86 L71.58,205.76 L71.79,205.65 L72.01,205.55 L72.23,205.45 L72.45,205.34 L72.67,205.24 L72.89,205.13 L73.11,205.03 L73.33,204.92 L73.55,204.82 L73.77,204.71 L73.99,204.60 L74.21,204.50 L74.43,204.39 L74.65,204.29 L74.87,204.18 L75.08,204.07 L75.30,203.97 L75.52,203.86 L75.74,203.75 L75.96,203.64 L76.18,203.54 L76.40,203.43 L76.62,203.32 L76.84,203.21 L77.06,203.10 L77.28,202.99 L77.50,202.88 L77.72,202.77 L77.94,202.67 L78.16,202.56 L78.38,202.45 L78.59,202.34 L78.81,202.22 L79.03,202.11 L79.25,202.00 L79.47,201.89 L79.69,201.78 L79.91,201.67 L80.13,201.56 L80.35,201.45 L80.57,201.33 L80.79,201.22 L81.01,201.11 L81.23,201.00 L81.45,200.88 L81.67,200.77 L81.88,200.66 L82.10,200.54 L82.32,200.43 L82.54,200.31 L82.76,200.20 L82.98,200.08 L83.20,199.97 L83.42,199.85 L83.64,199.74 L83.86,199.62 L84.08,199.51 L84.30,199.39 L84.52,199.27 L84.74,199.16 L84.96,199.04 L85.18,198.92 L85.39,198.80 L85.61,198.69 L85.83,198.57 L86.05,198.45 L86.27,198.33 L86.49,198.21 L86.71,198.09 L86.93,197.97 L87.15,197.85 L87.37,197.74 L87.59,197.61 L87.81,197.49 L88.03,197.37 L88.25,197.25 L88.47,197.13 L88.68,197.01 L88.90,196.89 L89.12,196.77 L89.34,196.64 L89.56,196.52 L89.78,196.40 L90.00,196.28 L90.22,196.15 L90.44,196.03 L90.66,195.91 L90.88,195.78 L91.10,195.66 L91.32,195.53 L91.54,195.41 L91.76,195.28 L91.98,195.16 L92.19,195.03 L92.41,194.90 L92.63,194.78 L92.85,194.65 L93.07,194.52 L93.29,194.40 L93.51,194.27 L93.73,194.14 L93.95,194.01 L94.17,193.88 L94.39,193.76 L94.61,193.63 L94.83,193.50 L95.05,193.37 L95.27,193.24 L95.48,193.11 L95.70,192.98 L95.92,192.85 L96.14,192.71 L96.36,192.58 L96.58,192.45 L96.80,192.32 L97.02,192.19 L97.24,192.05 L97.46,191.92 L97.68,191.79 L97.90,191.65 L98.12,191.52 L98.34,191.38 L98.56,191.25 L98.78,191.11 L98.99,190.98 L99.21,190.84 L99.43,190.71 L99.65,190.57 L99.87,190.43 L100.09,190.30 L100.31,190.16 L100.53,190.02 L100.75,189.88 L100.97,189.74 L101.19,189.61 L101.41,189.47 L101.63,189.33 L101.85,189.19 L102.07,189.05 L102.29,188.91 L102.50,188.77 L102.72,188.62 L102.94,188.48 L103.16,188.34 L103.38,188.20 L103.60,188.05 L103.82,187.91 L104.04,187.77 L104.26,187.62 L104.48,187.48 L104.70,187.34 L104.92,187.19 L105.14,187.04 L105.36,186.90 L105.58,186.75 L105.79,186.61 L106.01,186.46 L106.23,186.31 L106.45,186.16 L106.67,186.02 L106.89,185.87 L107.11,185.72 L107.33,185.57 L107.55,185.42 L107.77,185.27 L107.99,185.12 L108.21,184.97 L108.43,184.82 L108.65,184.66 L108.87,184.51 L109.09,184.36 L109.30,184.21 L109.52,184.05 L109.74,183.90 L109.96,183.74 L110.18,183.59 L110.40,183.43 L110.62,183.28 L110.84,183.12 L111.06,182.96 L111.28,182.81 L111.50,182.65 L111.72,182.49 L111.94,182.33 L112.16,182.17 L112.38,182.01 L112.59,181.86 L112.81,181.69 L113.03,181.53 L113.25,181.37 L113.47,181.21 L113.69,181.05 L113.91,180.89 L114.13,180.72 L114.35,180.56 L114.57,180.40 L114.79,180.23 L115.01,180.07 L115.23,179.90 L115.45,179.73 L115.67,179.57 L115.89,179.40 L116.10,179.23 L116.32,179.06 L116.54,178.90 L116.76,178.73 L116.98,178.56 L117.20,178.39 L117.42,178.22 L117.64,178.05 L117.86,177.87 L118.08,177.70 L118.30,177.53 L118.52,177.35 L118.74,177.18 L118.96,177.01 L119.18,176.83 L119.39,176.66 L119.61,176.48 L119.83,176.30 L120.05,176.13 L120.27,175.95 L120.49,175.77 L120.71,175.59 L120.93,175.41 L121.15,175.23 L121.37,175.05 L121.59,174.87 L121.81,174.69 L122.03,174.50 L122.25,174.32 L122.47,174.14 L122.69,173.95 L122.90,173.77 L123.12,173.58 L123.34,173.40 L123.56,173.21 L123.78,173.02 L124.00,172.83 L124.22,172.64 L124.44,172.45 L124.66,172.26 L124.88,172.07 L125.10,171.88 L125.32,171.69 L125.54,171.50 L125.76,171.30 L125.98,171.11 L126.19,170.92 L126.41,170.72 L126.63,170.52 L126.85,170.33 L127.07,170.13 L127.29,169.93 L127.51,169.73 L127.73,169.53 L127.95,169.33 L128.17,169.13 L128.39,168.93 L128.61,168.73 L128.83,168.52 L129.05,168.32 L129.27,168.11 L129.49,167.91 L129.70,167.70 L129.92,167.49 L130.14,167.29 L130.36,167.08 L130.58,166.87 L130.80,166.66 L131.02,166.45 L131.24,166.23 L131.46,166.02 L131.68,165.81 L131.90,165.59 L132.12,165.38 L132.34,165.16 L132.56,164.94 L132.78,164.73 L132.99,164.51 L133.21,164.29 L133.43,164.07 L133.65,163.85 L133.87,163.62 L134.09,163.40 L134.31,163.18 L134.53,162.95 L134.75,162.73 L134.97,162.50 L135.19,162.27 L135.41,162.04 L135.63,161.81 L135.85,161.58 L136.07,161.35 L136.29,161.12 L136.50,160.89 L136.72,160.65 L136.94,160.42 L137.16,160.18 L137.38,159.94 L137.60,159.70 L137.82,159.46 L138.04,159.22 L138.26,158.98 L138.48,158.74 L138.70,158.50 L138.92,158.25 L139.14,158.00 L139.36,157.76 L139.58,157.51 L139.80,157.26 L140.01,157.01 L140.23,156.76 L140.45,156.51 L140.67,156.25 L140.89,156.00 L141.11,155.74 L141.33,155.48 L141.55,155.22 L141.77,154.97 L141.99,154.70 L142.21,154.44 L142.43,154.18 L142.65,153.91 L142.87,153.65 L143.09,153.38 L143.30,153.11 L143.52,152.84 L143.74,152.57 L143.96,152.30 L144.18,152.02 L144.40,151.75 L144.62,151.47 L144.84,151.20 L145.06,150.92 L145.28,150.64 L145.50,150.35 L145.72,150.07 L145.94,149.78 L146.16,149.50 L146.38,149.21 L146.60,148.92 L146.81,148.63 L147.03,148.34 L147.25,148.04 L147.47,147.75 L147.69,147.45 L147.91,147.15 L148.13,146.85 L148.35,146.55 L148.57,146.25 L148.79,145.94 L149.01,145.63 L149.23,145.32 L149.45,145.01 L149.67,144.70 L149.89,144.39 L150.10,144.07 L150.32,143.75 L150.54,143.43 L150.76,143.11 L150.98,142.79 L151.20,142.47 L151.42,142.14 L151.64,141.81 L151.86,141.48 L152.08,141.15 L152.30,140.81 L152.52,140.48 L152.74,140.14 L152.96,139.80 L153.18,139.45 L153.40,139.11 L153.61,138.76 L153.83,138.41 L154.05,138.06 L154.27,137.71 L154.49,137.35 L154.71,136.99 L154.93,136.63 L155.15,136.27 L155.37,135.90 L155.59,135.54 L155.81,135.17 L156.03,134.79 L156.25,134.42 L156.47,134.04 L156.69,133.66 L156.90,133.28 L157.12,132.89 L157.34,132.51 L157.56,132.11 L157.78,131.72 L158.00,131.33 L158.22,130.93 L158.44,130.52 L158.66,130.12 L158.88,129.71 L159.10,129.30 L159.32,128.89 L159.54,128.47 L159.76,128.05 L159.98,127.63 L160.20,127.20 L160.41,126.77 L160.63,126.34 L160.85,125.91 L161.07,125.47 L161.29,125.02 L161.51,124.58 L161.73,124.13 L161.95,123.68 L162.17,123.22 L162.39,122.76 L162.61,122.29 L162.83,121.83 L163.05,121.35 L163.27,120.88 L163.49,120.40 L163.70,119.91 L163.92,119.43 L164.14,118.93 L164.36,118.44 L164.58,117.94 L164.80,117.43 L165.02,116.92 L165.24,116.41 L165.46,115.89 L165.68,115.36 L165.90,114.84 L166.12,114.30 L166.34,113.76 L166.56,113.22 L166.78,112.67 L167.00,112.12 L167.21,111.56 L167.43,110.99 L167.65,110.42 L167.87,109.85 L168.09,109.27 L168.31,108.68 L168.53,108.09 L168.75,107.49 L168.97,106.88 L169.19,106.27 L169.41,105.65 L169.63,105.03 L169.85,104.40 L170.07,103.76 L170.29,103.11 L170.50,102.46 L170.72,101.80 L170.94,101.13 L171.16,100.46 L171.38,99.78 L171.60,99.09 L171.82,98.39 L172.04,97.68 L172.26,96.97 L172.48,96.24 L172.70,95.51 L172.92,94.77 L173.14,94.02 L173.36,93.26 L173.58,92.50 L173.80,91.72 L174.01,90.93 L174.23,90.13 L174.45,89.33 L174.67,88.51 L174.89,87.68 L175.11,86.84 L175.33,85.99 L175.55,85.13 L175.77,84.25 L175.99,83.37 L176.21,82.47 L176.43,81.56 L176.65,80.64 L176.87,79.70 L177.09,78.76 L177.31,77.80 L177.52,76.82 L177.74,75.83 L177.96,74.83 L178.18,73.82 L178.40,72.79 L178.62,71.74 L178.84,70.69 L179.06,69.61 L179.28,68.53 L179.50,67.43 L179.72,66.31 L179.94,65.18 L180.16,64.04 L180.38,62.88 L180.60,61.70 L180.81,60.52 L181.03,59.32 L181.25,58.11 L181.47,56.89 L181.69,55.66 L181.91,54.41 L182.13,53.16 L182.35,51.91 L182.57,50.65 L182.79,49.39 L183.01,48.13 L183.23,46.87 L183.45,45.62 L183.67,44.37 L183.89,43.15 L184.11,41.94 L184.32,40.76 L184.54,39.61 L184.76,38.49 L184.98,37.42 L185.20,36.40 L185.42,35.43 L185.64,34.53 L185.86,33.71 L186.08,32.96 L186.30,32.31 L186.52,31.75 L186.74,31.29 L186.96,30.94 L187.18,30.69 L187.40,30.57 L187.61,30.56 L187.83,30.66 L188.05,30.88 L188.27,31.21 L188.49,31.65 L188.71,32.19 L188.93,32.83 L189.15,33.56 L189.37,34.37 L189.59,35.25 L189.81,36.20 L190.03,37.21 L190.25,38.28 L190.47,39.39 L190.69,40.53 L190.91,41.71 L191.12,42.91 L191.34,44.13 L191.56,45.37 L191.78,46.62 L192.00,47.88 L192.22,49.14 L192.44,50.40 L192.66,51.66 L192.88,52.92 L193.10,54.17 L193.32,55.41 L193.54,56.65 L193.76,57.87 L193.98,59.09 L194.20,60.29 L194.41,61.47 L194.63,62.65 L194.85,63.81 L195.07,64.96 L195.29,66.09 L195.51,67.21 L195.73,68.31 L195.95,69.40 L196.17,70.48 L196.39,71.54 L196.61,72.59 L196.83,73.62 L197.05,74.64 L197.27,75.64 L197.49,76.63 L197.71,77.61 L197.92,78.57 L198.14,79.52 L198.36,80.46 L198.58,81.38 L198.80,82.29 L199.02,83.19 L199.24,84.08 L199.46,84.96 L199.68,85.82 L199.90,86.68 L200.12,87.52 L200.34,88.35 L200.56,89.17 L200.78,89.98 L201.00,90.78 L201.21,91.57 L201.43,92.35 L201.65,93.12 L201.87,93.88 L202.09,94.63 L202.31,95.37 L202.53,96.10 L202.75,96.83 L202.97,97.54 L203.19,98.25 L203.41,98.95 L203.63,99.64 L203.85,100.33 L204.07,101.00 L204.29,101.67 L204.51,102.33 L204.72,102.99 L204.94,103.63 L205.16,104.27 L205.38,104.90 L205.60,105.53 L205.82,106.15 L206.04,106.76 L206.26,107.37 L206.48,107.97 L206.70,108.56 L206.92,109.15 L207.14,109.74 L207.36,110.31 L207.58,110.88 L207.80,111.45 L208.01,112.01 L208.23,112.56 L208.45,113.11 L208.67,113.66 L208.89,114.20 L209.11,114.73 L209.33,115.26 L209.55,115.79 L209.77,116.31 L209.99,116.82 L210.21,117.33 L210.43,117.84 L210.65,118.34 L210.87,118.84 L211.09,119.33 L211.31,119.82 L211.52,120.30 L211.74,120.78 L211.96,121.26 L212.18,121.73 L212.40,122.20 L212.62,122.67 L212.84,123.13 L213.06,123.59 L213.28,124.04 L213.50,124.49 L213.72,124.94 L213.94,125.38 L214.16,125.82 L214.38,126.26 L214.60,126.69 L214.81,127.12 L215.03,127.55 L215.25,127.97 L215.47,128.39 L215.69,128.81 L215.91,129.22 L216.13,129.63 L216.35,130.04 L216.57,130.45 L216.79,130.85 L217.01,131.25 L217.23,131.64 L217.45,132.04 L217.67,132.43 L217.89,132.82 L218.11,133.20 L218.32,133.59 L218.54,133.97 L218.76,134.35 L218.98,134.72 L219.20,135.09 L219.42,135.46 L219.64,135.83 L219.86,136.20 L220.08,136.56 L220.30,136.92 L220.52,137.28 L220.74,137.64 L220.96,137.99 L221.18,138.34 L221.40,138.69 L221.62,139.04 L221.83,139.39 L222.05,139.73 L222.27,140.07 L222.49,140.41 L222.71,140.75 L222.93,141.08 L223.15,141.41 L223.37,141.75 L223.59,142.07 L223.81,142.40 L224.03,142.73 L224.25,143.05 L224.47,143.37 L224.69,143.69 L224.91,144.01 L225.12,144.33 L225.34,144.64 L225.56,144.95 L225.78,145.26 L226.00,145.57 L226.22,145.88 L226.44,146.19 L226.66,146.49 L226.88,146.79 L227.10,147.09 L227.32,147.39 L227.54,147.69 L227.76,147.99 L227.98,148.28 L228.20,148.57 L228.42,148.86 L228.63,149.15 L228.85,149.44 L229.07,149.73 L229.29,150.01 L229.51,150.30 L229.73,150.58 L229.95,150.86 L230.17,151.14 L230.39,151.42 L230.61,151.70 L230.83,151.97 L231.05,152.25 L231.27,152.52 L231.49,152.79 L231.71,153.06 L231.92,153.33 L232.14,153.60 L232.36,153.86 L232.58,154.13 L232.80,154.39 L233.02,154.65 L233.24,154.91 L233.46,155.17 L233.68,155.43 L233.90,155.69 L234.12,155.95 L234.34,156.20 L234.56,156.46 L234.78,156.71 L235.00,156.96 L235.22,157.21 L235.43,157.46 L235.65,157.71 L235.87,157.96 L236.09,158.20 L236.31,158.45 L236.53,158.69 L236.75,158.93 L236.97,159.18 L237.19,159.42 L237.41,159.66 L237.63,159.90 L237.85,160.13 L238.07,160.37 L238.29,160.61 L238.51,160.84 L238.72,161.07 L238.94,161.31 L239.16,161.54 L239.38,161.77 L239.60,162.00 L239.82,162.23 L240.04,162.46 L240.26,162.68 L240.48,162.91 L240.70,163.13 L240.92,163.36 L241.14,163.58 L241.36,163.80 L241.58,164.02 L241.80,164.25 L242.02,164.47 L242.23,164.68 L242.45,164.90 L242.67,165.12 L242.89,165.34 L243.11,165.55 L243.33,165.77 L243.55,165.98 L243.77,166.19 L243.99,166.40 L244.21,166.62 L244.43,166.83 L244.65,167.04 L244.87,167.25 L245.09,167.45 L245.31,167.66 L245.52,167.87 L245.74,168.07 L245.96,168.28 L246.18,168.48 L246.40,168.69 L246.62,168.89 L246.84,169.09 L247.06,169.29 L247.28,169.49 L247.50,169.69 L247.72,169.89 L247.94,170.09 L248.16,170.29 L248.38,170.49 L248.60,170.68 L248.82,170.88 L249.03,171.07 L249.25,171.27 L249.47,171.46 L249.69,171.65 L249.91,171.85 L250.13,172.04 L250.35,172.23 L250.57,172.42 L250.79,172.61 L251.01,172.80 L251.23,172.98 L251.45,173.17 L251.67,173.36 L251.89,173.55 L252.11,173.73 L252.32,173.92 L252.54,174.10 L252.76,174.28 L252.98,174.47 L253.20,174.65 L253.42,174.83 L253.64,175.01 L253.86,175.20 L254.08,175.38 L254.30,175.56 L254.52,175.73 L254.74,175.91 L254.96,176.09 L255.18,176.27 L255.40,176.45 L255.62,176.62 L255.83,176.80 L256.05,176.97 L256.27,177.15 L256.49,177.32 L256.71,177.49 L256.93,177.67 L257.15,177.84 L257.37,178.01 L257.59,178.18 L257.81,178.35 L258.03,178.52 L258.25,178.69 L258.47,178.86 L258.69,179.03 L258.91,179.20 L259.13,179.37 L259.34,179.54 L259.56,179.70 L259.78,179.87 L260.00,180.03 L260.22,180.20 L260.44,180.36 L260.66,180.53 L260.88,180.69 L261.10,180.85 L261.32,181.02 L261.54,181.18 L261.76,181.34 L261.98,181.50 L262.20,181.66 L262.42,181.82 L262.63,181.98 L262.85,182.14 L263.07,182.30 L263.29,182.46 L263.51,182.62 L263.73,182.78 L263.95,182.93 L264.17,183.09 L264.39,183.25 L264.61,183.40 L264.83,183.56 L265.05,183.71 L265.27,183.87 L265.49,184.02 L265.71,184.18 L265.93,184.33 L266.14,184.48 L266.36,184.63 L266.58,184.79 L266.80,184.94 L267.02,185.09 L267.24,185.24 L267.46,185.39 L267.68,185.54 L267.90,185.69 L268.12,185.84 L268.34,185.99 L268.56,186.13 L268.78,186.28 L269.00,186.43 L269.22,186.58 L269.43,186.72 L269.65,186.87 L269.87,187.02 L270.09,187.16 L270.31,187.31 L270.53,187.45 L270.75,187.60 L270.97,187.74 L271.19,187.88 L271.41,188.03 L271.63,188.17 L271.85,188.31 L272.07,188.45 L272.29,188.60 L272.51,188.74 L272.73,188.88 L272.94,189.02 L273.16,189.16 L273.38,189.30 L273.60,189.44 L273.82,189.58 L274.04,189.72 L274.26,189.86 L274.48,189.99 L274.70,190.13 L274.92,190.27 L275.14,190.41 L275.36,190.54 L275.58,190.68 L275.80,190.82 L276.02,190.95 L276.23,191.09 L276.45,191.22 L276.67,191.36 L276.89,191.49 L277.11,191.63 L277.33,191.76 L277.55,191.89 L277.77,192.03 L277.99,192.16 L278.21,192.29 L278.43,192.43 L278.65,192.56 L278.87,192.69 L279.09,192.82 L279.31,192.95 L279.53,193.08 L279.74,193.21 L279.96,193.34 L280.18,193.47 L280.40,193.60 L280.62,193.73 L280.84,193.86 L281.06,193.99 L281.28,194.12 L281.50,194.24 L281.72,194.37 L281.94,194.50 L282.16,194.63 L282.38,194.75 L282.60,194.88 L282.82,195.01 L283.03,195.13 L283.25,195.26 L283.47,195.38 L283.69,195.51 L283.91,195.63 L284.13,195.76 L284.35,195.88 L284.57,196.01 L284.79,196.13 L285.01,196.25 L285.23,196.38 L285.45,196.50 L285.67,196.62 L285.89,196.74 L286.11,196.87 L286.33,196.99 L286.54,197.11 L286.76,197.23 L286.98,197.35 L287.20,197.47 L287.42,197.59 L287.64,197.71 L287.86,197.83 L288.08,197.95 L288.30,198.07 L288.52,198.19 L288.74,198.31 L288.96,198.43 L289.18,198.55 L289.40,198.66 L289.62,198.78 L289.83,198.90 L290.05,199.02 L290.27,199.13 L290.49,199.25 L290.71,199.37 L290.93,199.48 L291.15,199.60 L291.37,199.71 L291.59,199.83 L291.81,199.95 L292.03,200.06 L292.25,200.18 L292.47,200.29 L292.69,200.40 L292.91,200.52 L293.13,200.63 L293.34,200.75 L293.56,200.86 L293.78,200.97 L294.00,201.09 L294.22,201.20 L294.44,201.31 L294.66,201.42 L294.88,201.54 L295.10,201.65 L295.32,201.76 L295.54,201.87 L295.76,201.98 L295.98,202.09 L296.20,202.20 L296.42,202.31 L296.64,202.42 L296.85,202.53 L297.07,202.64 L297.29,202.75 L297.51,202.86 L297.73,202.97 L297.95,203.08 L298.17,203.19 L298.39,203.30 L298.61,203.41 L298.83,203.51 L299.05,203.62 L299.27,203.73 L299.49,203.84 L299.71,203.95 L299.93,204.05 L300.14,204.16 L300.36,204.27 L300.58,204.37 L300.80,204.48 L301.02,204.58 L301.24,204.69 L301.46,204.80 L301.68,204.90 L301.90,205.01 L302.12,205.11 L302.34,205.22 L302.56,205.32 L302.78,205.43 L303.00,205.53 L303.22,205.63 L303.44,205.74 L303.65,205.84 L303.87,205.94 L304.09,206.05 L304.31,206.15 L304.53,206.25 L304.75,206.36 L304.97,206.46 L305.19,206.56 L305.41,206.66 L305.63,206.76 L305.85,206.87 L306.07,206.97 L306.29,207.07 L306.51,207.17 L306.73,207.27 L306.94,207.37 L307.16,207.47 L307.38,207.57 L307.60,207.67 L307.82,207.77 L308.04,207.87 L308.26,207.97 L308.48,208.07 L308.70,208.17 L308.92,208.27 L309.14,208.37 L309.36,208.47 L309.58,208.57 L309.80,208.67 L310.02,208.76 L310.24,208.86 L310.45,208.96 L310.67,209.06 L310.89,209.15 L311.11,209.25 L311.33,209.35 L311.55,209.45 L311.77,209.54 L311.99,209.64 L312.21,209.74 L312.43,209.83 L312.65,209.93 L312.87,210.03 L313.09,210.12 L313.31,210.22 L313.53,210.31 L313.74,210.41 L313.96,210.50 L314.18,210.60 L314.40,210.69 L314.62,210.79 L314.84,210.88 L315.06,210.98 L315.28,211.07 L315.50,211.16 L315.72,211.26 L315.94,211.35 L316.16,211.45 L316.38,211.54 L316.60,211.63 L316.82,211.73 L317.04,211.82 L317.25,211.91 L317.47,212.00 L317.69,212.10 L317.91,212.19 L318.13,212.28 L318.35,212.37 L318.57,212.46 L318.79,212.56 L319.01,212.65 L319.23,212.74 L319.45,212.83 L319.67,212.92 L319.89,213.01 L320.11,213.10 L320.33,213.19 L320.54,213.28 L320.76,213.37 L320.98,213.46 L321.20,213.55 L321.42,213.64 L321.64,213.73 L321.86,213.82 L322.08,213.91 L322.30,214.00 L322.52,214.09 L322.74,214.18 L322.96,214.27 L323.18,214.36 L323.40,214.45 L323.62,214.54 L323.84,214.62 L324.05,214.71 L324.27,214.80 L324.49,214.89 L324.71,214.98 L324.93,215.06 L325.15,215.15 L325.37,215.24 L325.59,215.33 L325.81,215.41 L326.03,215.50 L326.25,215.59 L326.47,215.67 L326.69,215.76 L326.91,215.85 L327.13,215.93 L327.34,216.02 L327.56,216.10 L327.78,216.19 L328.00,216.28 L328.22,216.36 L328.44,216.45 L328.66,216.53 L328.88,216.62 L329.10,216.70 L329.32,216.79 L329.54,216.87 L329.76,216.96 L329.98,217.04 L330.20,217.12 L330.42,217.21 L330.64,217.29 L330.85,217.38 L331.07,217.46 L331.29,217.54 L331.51,217.63 L331.73,217.71 L331.95,217.80 L332.17,217.88 L332.39,217.96 L332.61,218.04 L332.83,218.13 L333.05,218.21 L333.27,218.29 L333.49,218.38 L333.71,218.46 L333.93,218.54 L334.15,218.62 L334.36,218.70 L334.58,218.79 L334.80,218.87 L335.02,218.95 L335.24,219.03 L335.46,219.11 L335.68,219.19 L335.90,219.27 L336.12,219.36 L336.34,219.44 L336.56,219.52 L336.78,219.60 L337.00,219.68 L337.22,219.76 L337.44,219.84 L337.65,219.92 L337.87,220.00 L338.09,220.08 L338.31,220.16 L338.53,220.24 L338.75,220.32 L338.97,220.40 L339.19,220.48 L339.41,220.56 L339.63,220.64 L339.85,220.71 L340.07,220.79 L340.29,220.87 L340.51,220.95 L340.73,221.03 L340.95,221.11 L341.16,221.19 L341.38,221.26 L341.60,221.34 L341.82,221.42 L342.04,221.50 L342.26,221.58 L342.48,221.65 L342.70,221.73 L342.92,221.81 L343.14,221.89 L343.36,221.96" stroke="#23922a" stroke-width="1.3" stroke-dasharray="2.0 1.8" fill="none"/>
<path d="M149.01,221.98 L149.23,221.86 L149.45,221.74 L149.67,221.63 L149.89,221.51 L150.10,221.39 L150.32,221.27 L150.54,221.15 L150.76,221.03 L150.98,220.91 L151.20,220.79 L151.42,220.67 L151.64,220.55 L151.86,220.43 L152.08,220.31 L152.30,220.19 L152.52,220.06 L152.74,219.94 L152.96,219.82 L153.18,219.70 L153.40,219.58 L153.61,219.45 L153.83,219.33 L154.05,219.21 L154.27,219.08 L154.49,218.96 L154.71,218.83 L154.93,218.71 L155.15,218.58 L155.37,218.46 L155.59,218.33 L155.81,218.21 L156.03,218.08 L156.25,217.95 L156.47,217.83 L156.69,217.70 L156.90,217.57 L157.12,217.44 L157.34,217.32 L157.56,217.19 L157.78,217.06 L158.00,216.93 L158.22,216.80 L158.44,216.67 L158.66,216.54 L158.88,216.41 L159.10,216.28 L159.32,216.15 L159.54,216.02 L159.76,215.89 L159.98,215.76 L160.20,215.63 L160.41,215.49 L160.63,215.36 L160.85,215.23 L161.07,215.09 L161.29,214.96 L161.51,214.83 L161.73,214.69 L161.95,214.56 L162.17,214.42 L162.39,214.29 L162.61,214.15 L162.83,214.02 L163.05,213.88 L163.27,213.74 L163.49,213.61 L163.70,213.47 L163.92,213.33 L164.14,213.20 L164.36,213.06 L164.58,212.92 L164.80,212.78 L165.02,212.64 L165.24,212.50 L165.46,212.36 L165.68,212.22 L165.90,212.08 L166.12,211.94 L166.34,211.80 L166.56,211.66 L166.78,211.51 L167.00,211.37 L167.21,211.23 L167.43,211.09 L167.65,210.94 L167.87,210.80 L168.09,210.65 L168.31,210.51 L168.53,210.36 L168.75,210.22 L168.97,210.07 L169.19,209.93 L169.41,209.78 L169.63,209.63 L169.85,209.48 L170.07,209.34 L170.29,209.19 L170.50,209.04 L170.72,208.89 L170.94,208.74 L171.16,208.59 L171.38,208.44 L171.60,208.29 L171.82,208.14 L172.04,207.99 L172.26,207.84 L172.48,207.68 L172.70,207.53 L172.92,207.38 L173.14,207.22 L173.36,207.07 L173.58,206.92 L173.80,206.76 L174.01,206.60 L174.23,206.45 L174.45,206.29 L174.67,206.14 L174.89,205.98 L175.11,205.82 L175.33,205.66 L175.55,205.50 L175.77,205.35 L175.99,205.19 L176.21,205.03 L176.43,204.87 L176.65,204.71 L176.87,204.54 L177.09,204.38 L177.31,204.22 L177.52,204.06 L177.74,203.89 L177.96,203.73 L178.18,203.57 L178.40,203.40 L178.62,203.24 L178.84,203.07 L179.06,202.91 L179.28,202.74 L179.50,202.57 L179.72,202.40 L179.94,202.24 L180.16,202.07 L180.38,201.90 L180.60,201.73 L180.81,201.56 L181.03,201.39 L181.25,201.22 L181.47,201.04 L181.69,200.87 L181.91,200.70 L182.13,200.53 L182.35,200.35 L182.57,200.18 L182.79,200.00 L183.01,199.83 L183.23,199.65 L183.45,199.47 L183.67,199.30 L183.89,199.12 L184.11,198.94 L184.32,198.76 L184.54,198.58 L184.76,198.40 L184.98,198.22 L185.20,198.04 L185.42,197.86 L185.64,197.67 L185.86,197.49 L186.08,197.31 L186.30,197.12 L186.52,196.94 L186.74,196.75 L186.96,196.57 L187.18,196.38 L187.40,196.19 L187.61,196.00 L187.83,195.81 L188.05,195.62 L188.27,195.43 L188.49,195.24 L188.71,195.05 L188.93,194.86 L189.15,194.67 L189.37,194.47 L189.59,194.28 L189.81,194.08 L190.03,193.89 L190.25,193.69 L190.47,193.50 L190.69,193.30 L190.91,193.10 L191.12,192.90 L191.34,192.70 L191.56,192.50 L191.78,192.30 L192.00,192.10 L192.22,191.89 L192.44,191.69 L192.66,191.49 L192.88,191.28 L193.10,191.08 L193.32,190.87 L193.54,190.66 L193.76,190.45 L193.98,190.25 L194.20,190.04 L194.41,189.83 L194.63,189.61 L194.85,189.40 L195.07,189.19 L195.29,188.98 L195.51,188.76 L195.73,188.55 L195.95,188.33 L196.17,188.11 L196.39,187.89 L196.61,187.68 L196.83,187.46 L197.05,187.24 L197.27,187.01 L197.49,186.79 L197.71,186.57 L197.92,186.34 L198.14,186.12 L198.36,185.89 L198.58,185.67 L198.80,185.44 L199.02,185.21 L199.24,184.98 L199.46,184.75 L199.68,184.52 L199.90,184.29 L200.12,184.05 L200.34,183.82 L200.56,183.58 L200.78,183.35 L201.00,183.11 L201.21,182.87 L201.43,182.63 L201.65,182.39 L201.87,182.15 L202.09,181.91 L202.31,181.66 L202.53,181.42 L202.75,181.17 L202.97,180.92 L203.19,180.68 L203.41,180.43 L203.63,180.18 L203.85,179.93 L204.07,179.67 L204.29,179.42 L204.51,179.16 L204.72,178.91 L204.94,178.65 L205.16,178.39 L205.38,178.13 L205.60,177.87 L205.82,177.61 L206.04,177.35 L206.26,177.08 L206.48,176.82 L206.70,176.55 L206.92,176.28 L207.14,176.01 L207.36,175.74 L207.58,175.47 L207.80,175.19 L208.01,174.92 L208.23,174.64 L208.45,174.36 L208.67,174.08 L208.89,173.80 L209.11,173.52 L209.33,173.24 L209.55,172.95 L209.77,172.67 L209.99,172.38 L210.21,172.09 L210.43,171.80 L210.65,171.50 L210.87,171.21 L211.09,170.92 L211.31,170.62 L211.52,170.32 L211.74,170.02 L211.96,169.72 L212.18,169.41 L212.40,169.11 L212.62,168.80 L212.84,168.49 L213.06,168.18 L213.28,167.87 L213.50,167.56 L213.72,167.24 L213.94,166.92 L214.16,166.60 L214.38,166.28 L214.60,165.96 L214.81,165.63 L215.03,165.31 L215.25,164.98 L215.47,164.65 L215.69,164.32 L215.91,163.98 L216.13,163.65 L216.35,163.31 L216.57,162.97 L216.79,162.62 L217.01,162.28 L217.23,161.93 L217.45,161.58 L217.67,161.23 L217.89,160.88 L218.11,160.52 L218.32,160.16 L218.54,159.80 L218.76,159.44 L218.98,159.08 L219.20,158.71 L219.42,158.34 L219.64,157.97 L219.86,157.59 L220.08,157.22 L220.30,156.84 L220.52,156.45 L220.74,156.07 L220.96,155.68 L221.18,155.29 L221.40,154.90 L221.62,154.50 L221.83,154.10 L222.05,153.70 L222.27,153.30 L222.49,152.89 L222.71,152.48 L222.93,152.07 L223.15,151.65 L223.37,151.23 L223.59,150.81 L223.81,150.39 L224.03,149.96 L224.25,149.52 L224.47,149.09 L224.69,148.65 L224.91,148.21 L225.12,147.76 L225.34,147.31 L225.56,146.86 L225.78,146.41 L226.00,145.95 L226.22,145.48 L226.44,145.02 L226.66,144.54 L226.88,144.07 L227.10,143.59 L227.32,143.11 L227.54,142.62 L227.76,142.13 L227.98,141.63 L228.20,141.13 L228.42,140.63 L228.63,140.12 L228.85,139.61 L229.07,139.09 L229.29,138.57 L229.51,138.04 L229.73,137.51 L229.95,136.97 L230.17,136.43 L230.39,135.88 L230.61,135.33 L230.83,134.77 L231.05,134.21 L231.27,133.64 L231.49,133.07 L231.71,132.49 L231.92,131.90 L232.14,131.31 L232.36,130.72 L232.58,130.11 L232.80,129.50 L233.02,128.89 L233.24,128.27 L233.46,127.64 L233.68,127.00 L233.90,126.36 L234.12,125.71 L234.34,125.05 L234.56,124.39 L234.78,123.72 L235.00,123.04 L235.22,122.36 L235.43,121.66 L235.65,120.96 L235.87,120.25 L236.09,119.53 L236.31,118.80 L236.53,118.07 L236.75,117.33 L236.97,116.57 L237.19,115.81 L237.41,115.04 L237.63,114.26 L237.85,113.47 L238.07,112.67 L238.29,111.86 L238.51,111.04 L238.72,110.20 L238.94,109.36 L239.16,108.51 L239.38,107.65 L239.60,106.77 L239.82,105.88 L240.04,104.99 L240.26,104.08 L240.48,103.15 L240.70,102.22 L240.92,101.27 L241.14,100.31 L241.36,99.34 L241.58,98.36 L241.80,97.36 L242.02,96.35 L242.23,95.33 L242.45,94.29 L242.67,93.24 L242.89,92.18 L243.11,91.10 L243.33,90.01 L243.55,88.91 L243.77,87.79 L243.99,86.67 L244.21,85.53 L244.43,84.38 L244.65,83.22 L244.87,82.05 L245.09,80.87 L245.31,79.69 L245.52,78.49 L245.74,77.30 L245.96,76.10 L246.18,74.89 L246.40,73.69 L246.62,72.50 L246.84,71.31 L247.06,70.13 L247.28,68.96 L247.50,67.81 L247.72,66.68 L247.94,65.59 L248.16,64.52 L248.38,63.49 L248.60,62.51 L248.82,61.58 L249.03,60.70 L249.25,59.89 L249.47,59.15 L249.69,58.49 L249.91,57.91 L250.13,57.42 L250.35,57.02 L250.57,56.73 L250.79,56.53 L251.01,56.44 L251.23,56.46 L251.45,56.58 L251.67,56.80 L251.89,57.12 L252.11,57.54 L252.32,58.06 L252.54,58.66 L252.76,59.34 L252.98,60.10 L253.20,60.93 L253.42,61.82 L253.64,62.77 L253.86,63.77 L254.08,64.81 L254.30,65.88 L254.52,66.99 L254.74,68.12 L254.96,69.27 L255.18,70.44 L255.40,71.63 L255.62,72.82 L255.83,74.02 L256.05,75.22 L256.27,76.42 L256.49,77.62 L256.71,78.82 L256.93,80.01 L257.15,81.19 L257.37,82.37 L257.59,83.54 L257.81,84.69 L258.03,85.84 L258.25,86.97 L258.47,88.10 L258.69,89.21 L258.91,90.31 L259.13,91.39 L259.34,92.47 L259.56,93.52 L259.78,94.57 L260.00,95.60 L260.22,96.62 L260.44,97.63 L260.66,98.63 L260.88,99.61 L261.10,100.58 L261.32,101.53 L261.54,102.47 L261.76,103.40 L261.98,104.32 L262.20,105.23 L262.42,106.13 L262.63,107.01 L262.85,107.88 L263.07,108.74 L263.29,109.59 L263.51,110.43 L263.73,111.26 L263.95,112.08 L264.17,112.89 L264.39,113.68 L264.61,114.47 L264.83,115.25 L265.05,116.02 L265.27,116.78 L265.49,117.53 L265.71,118.27 L265.93,119.00 L266.14,119.73 L266.36,120.44 L266.58,121.15 L266.80,121.85 L267.02,122.54 L267.24,123.23 L267.46,123.90 L267.68,124.57 L267.90,125.23 L268.12,125.89 L268.34,126.53 L268.56,127.17 L268.78,127.81 L269.00,128.43 L269.22,129.06 L269.43,129.67 L269.65,130.28 L269.87,130.88 L270.09,131.47 L270.31,132.06 L270.53,132.65 L270.75,133.23 L270.97,133.80 L271.19,134.36 L271.41,134.93 L271.63,135.48 L271.85,136.03 L272.07,136.58 L272.29,137.12 L272.51,137.65 L272.73,138.18 L272.94,138.71 L273.16,139.23 L273.38,139.75 L273.60,140.26 L273.82,140.77 L274.04,141.27 L274.26,141.77 L274.48,142.26 L274.70,142.75 L274.92,143.24 L275.14,143.72 L275.36,144.20 L275.58,144.67 L275.80,145.14 L276.02,145.61 L276.23,146.07 L276.45,146.53 L276.67,146.99 L276.89,147.44 L277.11,147.88 L277.33,148.33 L277.55,148.77 L277.77,149.21 L277.99,149.64 L278.21,150.07 L278.43,150.50 L278.65,150.93 L278.87,151.35 L279.09,151.77 L279.31,152.18 L279.53,152.59 L279.74,153.00 L279.96,153.41 L280.18,153.81 L280.40,154.21 L280.62,154.61 L280.84,155.00 L281.06,155.40 L281.28,155.79 L281.50,156.17 L281.72,156.56 L281.94,156.94 L282.16,157.32 L282.38,157.69 L282.60,158.07 L282.82,158.44 L283.03,158.81 L283.25,159.18 L283.47,159.54 L283.69,159.90 L283.91,160.26 L284.13,160.62 L284.35,160.97 L284.57,161.33 L284.79,161.68 L285.01,162.03 L285.23,162.37 L285.45,162.72 L285.67,163.06 L285.89,163.40 L286.11,163.74 L286.33,164.07 L286.54,164.41 L286.76,164.74 L286.98,165.07 L287.20,165.40 L287.42,165.72 L287.64,166.05 L287.86,166.37 L288.08,166.69 L288.30,167.01 L288.52,167.33 L288.74,167.64 L288.96,167.95 L289.18,168.27 L289.40,168.58 L289.62,168.88 L289.83,169.19 L290.05,169.50 L290.27,169.80 L290.49,170.10 L290.71,170.40 L290.93,170.70 L291.15,171.00 L291.37,171.29 L291.59,171.58 L291.81,171.88 L292.03,172.17 L292.25,172.46 L292.47,172.74 L292.69,173.03 L292.91,173.31 L293.13,173.60 L293.34,173.88 L293.56,174.16 L293.78,174.44 L294.00,174.72 L294.22,174.99 L294.44,175.27 L294.66,175.54 L294.88,175.81 L295.10,176.08 L295.32,176.35 L295.54,176.62 L295.76,176.89 L295.98,177.15 L296.20,177.42 L296.42,177.68 L296.64,177.94 L296.85,178.20 L297.07,178.46 L297.29,178.72 L297.51,178.98 L297.73,179.23 L297.95,179.49 L298.17,179.74 L298.39,179.99 L298.61,180.25 L298.83,180.50 L299.05,180.74 L299.27,180.99 L299.49,181.24 L299.71,181.48 L299.93,181.73 L300.14,181.97 L300.36,182.21 L300.58,182.46 L300.80,182.70 L301.02,182.94 L301.24,183.17 L301.46,183.41 L301.68,183.65 L301.90,183.88 L302.12,184.12 L302.34,184.35 L302.56,184.58 L302.78,184.81 L303.00,185.04 L303.22,185.27 L303.44,185.50 L303.65,185.73 L303.87,185.96 L304.09,186.18 L304.31,186.41 L304.53,186.63 L304.75,186.85 L304.97,187.07 L305.19,187.30 L305.41,187.52 L305.63,187.74 L305.85,187.95 L306.07,188.17 L306.29,188.39 L306.51,188.60 L306.73,188.82 L306.94,189.03 L307.16,189.25 L307.38,189.46 L307.60,189.67 L307.82,189.88 L308.04,190.09 L308.26,190.30 L308.48,190.51 L308.70,190.72 L308.92,190.93 L309.14,191.13 L309.36,191.34 L309.58,191.54 L309.80,191.75 L310.02,191.95 L310.24,192.15 L310.45,192.35 L310.67,192.55 L310.89,192.75 L311.11,192.95 L311.33,193.15 L311.55,193.35 L311.77,193.55 L311.99,193.75 L312.21,193.94 L312.43,194.14 L312.65,194.33 L312.87,194.53 L313.09,194.72 L313.31,194.91 L313.53,195.10 L313.74,195.29 L313.96,195.49 L314.18,195.68 L314.40,195.86 L314.62,196.05 L314.84,196.24 L315.06,196.43 L315.28,196.62 L315.50,196.80 L315.72,196.99 L315.94,197.17 L316.16,197.36 L316.38,197.54 L316.60,197.72 L316.82,197.91 L317.04,198.09 L317.25,198.27 L317.47,198.45 L317.69,198.63 L317.91,198.81 L318.13,198.99 L318.35,199.17 L318.57,199.34 L318.79,199.52 L319.01,199.70 L319.23,199.87 L319.45,200.05 L319.67,200.22 L319.89,200.40 L320.11,200.57 L320.33,200.75 L320.54,200.92 L320.76,201.09 L320.98,201.26 L321.20,201.43 L321.42,201.60 L321.64,201.77 L321.86,201.94 L322.08,202.11 L322.30,202.28 L322.52,202.45 L322.74,202.62 L322.96,202.78 L323.18,202.95 L323.40,203.12 L323.62,203.28 L323.84,203.45 L324.05,203.61 L324.27,203.78 L324.49,203.94 L324.71,204.10 L324.93,204.26 L325.15,204.43 L325.37,204.59 L325.59,204.75 L325.81,204.91 L326.03,205.07 L326.25,205.23 L326.47,205.39 L326.69,205.55 L326.91,205.71 L327.13,205.86 L327.34,206.02 L327.56,206.18 L327.78,206.34 L328.00,206.49 L328.22,206.65 L328.44,206.80 L328.66,206.96 L328.88,207.11 L329.10,207.27 L329.32,207.42 L329.54,207.57 L329.76,207.72 L329.98,207.88 L330.20,208.03 L330.42,208.18 L330.64,208.33 L330.85,208.48 L331.07,208.63 L331.29,208.78 L331.51,208.93 L331.73,209.08 L331.95,209.23 L332.17,209.38 L332.39,209.52 L332.61,209.67 L332.83,209.82 L333.05,209.97 L333.27,210.11 L333.49,210.26 L333.71,210.40 L333.93,210.55 L334.15,210.69 L334.36,210.84 L334.58,210.98 L334.80,211.12 L335.02,211.27 L335.24,211.41 L335.46,211.55 L335.68,211.69 L335.90,211.84 L336.12,211.98 L336.34,212.12 L336.56,212.26 L336.78,212.40 L337.00,212.54 L337.22,212.68 L337.44,212.82 L337.65,212.96 L337.87,213.09 L338.09,213.23 L338.31,213.37 L338.53,213.51 L338.75,213.65 L338.97,213.78 L339.19,213.92 L339.41,214.05 L339.63,214.19 L339.85,214.33 L340.07,214.46 L340.29,214.60 L340.51,214.73 L340.73,214.86 L340.95,215.00 L341.16,215.13 L341.38,215.26 L341.60,215.40 L341.82,215.53 L342.04,215.66 L342.26,215.79 L342.48,215.92 L342.70,216.06 L342.92,216.19 L343.14,216.32 L343.36,216.45 L343.58,216.58 L343.80,216.71 L344.02,216.84 L344.24,216.97 L344.45,217.09 L344.67,217.22 L344.89,217.35 L345.11,217.48 L345.33,217.61 L345.55,217.73 L345.77,217.86 L345.99,217.99 L346.21,218.11 L346.43,218.24 L346.65,218.37 L346.87,218.49 L347.09,218.62 L347.31,218.74 L347.53,218.87 L347.75,218.99 L347.96,219.11 L348.18,219.24 L348.40,219.36 L348.62,219.49 L348.84,219.61 L349.06,219.73 L349.28,219.85 L349.50,219.98" stroke="#23922a" stroke-width="1.3" stroke-dasharray="2.0 1.8" fill="none"/>
<path d="M196.39,221.87 L196.61,221.72 L196.83,221.56 L197.05,221.41 L197.27,221.25 L197.49,221.09 L197.71,220.94 L197.92,220.78 L198.14,220.62 L198.36,220.46 L198.58,220.30 L198.80,220.15 L199.02,219.99 L199.24,219.83 L199.46,219.67 L199.68,219.50 L199.90,219.34 L200.12,219.18 L200.34,219.02 L200.56,218.86 L200.78,218.69 L201.00,218.53 L201.21,218.36 L201.43,218.20 L201.65,218.03 L201.87,217.87 L202.09,217.70 L202.31,217.54 L202.53,217.37 L202.75,217.20 L202.97,217.03 L203.19,216.86 L203.41,216.69 L203.63,216.52 L203.85,216.35 L204.07,216.18 L204.29,216.01 L204.51,215.84 L204.72,215.67 L204.94,215.49 L205.16,215.32 L205.38,215.15 L205.60,214.97 L205.82,214.80 L206.04,214.62 L206.26,214.45 L206.48,214.27 L206.70,214.09 L206.92,213.91 L207.14,213.73 L207.36,213.56 L207.58,213.38 L207.80,213.19 L208.01,213.01 L208.23,212.83 L208.45,212.65 L208.67,212.47 L208.89,212.28 L209.11,212.10 L209.33,211.92 L209.55,211.73 L209.77,211.54 L209.99,211.36 L210.21,211.17 L210.43,210.98 L210.65,210.80 L210.87,210.61 L211.09,210.42 L211.31,210.23 L211.52,210.04 L211.74,209.84 L211.96,209.65 L212.18,209.46 L212.40,209.26 L212.62,209.07 L212.84,208.88 L213.06,208.68 L213.28,208.48 L213.50,208.29 L213.72,208.09 L213.94,207.89 L214.16,207.69 L214.38,207.49 L214.60,207.29 L214.81,207.09 L215.03,206.89 L215.25,206.68 L215.47,206.48 L215.69,206.28 L215.91,206.07 L216.13,205.87 L216.35,205.66 L216.57,205.45 L216.79,205.24 L217.01,205.03 L217.23,204.82 L217.45,204.61 L217.67,204.40 L217.89,204.19 L218.11,203.98 L218.32,203.76 L218.54,203.55 L218.76,203.33 L218.98,203.12 L219.20,202.90 L219.42,202.68 L219.64,202.46 L219.86,202.24 L220.08,202.02 L220.30,201.80 L220.52,201.58 L220.74,201.36 L220.96,201.13 L221.18,200.91 L221.40,200.68 L221.62,200.45 L221.83,200.23 L222.05,200.00 L222.27,199.77 L222.49,199.54 L222.71,199.31 L222.93,199.07 L223.15,198.84 L223.37,198.61 L223.59,198.37 L223.81,198.13 L224.03,197.90 L224.25,197.66 L224.47,197.42 L224.69,197.18 L224.91,196.93 L225.12,196.69 L225.34,196.45 L225.56,196.20 L225.78,195.96 L226.00,195.71 L226.22,195.46 L226.44,195.21 L226.66,194.96 L226.88,194.71 L227.10,194.46 L227.32,194.20 L227.54,193.95 L227.76,193.69 L227.98,193.44 L228.20,193.18 L228.42,192.92 L228.63,192.66 L228.85,192.39 L229.07,192.13 L229.29,191.87 L229.51,191.60 L229.73,191.33 L229.95,191.07 L230.17,190.80 L230.39,190.52 L230.61,190.25 L230.83,189.98 L231.05,189.70 L231.27,189.43 L231.49,189.15 L231.71,188.87 L231.92,188.59 L232.14,188.31 L232.36,188.02 L232.58,187.74 L232.80,187.45 L233.02,187.16 L233.24,186.88 L233.46,186.58 L233.68,186.29 L233.90,186.00 L234.12,185.70 L234.34,185.41 L234.56,185.11 L234.78,184.81 L235.00,184.50 L235.22,184.20 L235.43,183.90 L235.65,183.59 L235.87,183.28 L236.09,182.97 L236.31,182.66 L236.53,182.35 L236.75,182.03 L236.97,181.71 L237.19,181.39 L237.41,181.07 L237.63,180.75 L237.85,180.43 L238.07,180.10 L238.29,179.77 L238.51,179.44 L238.72,179.11 L238.94,178.78 L239.16,178.44 L239.38,178.10 L239.60,177.76 L239.82,177.42 L240.04,177.07 L240.26,176.73 L240.48,176.38 L240.70,176.03 L240.92,175.68 L241.14,175.32 L241.36,174.96 L241.58,174.60 L241.80,174.24 L242.02,173.88 L242.23,173.51 L242.45,173.14 L242.67,172.77 L242.89,172.40 L243.11,172.02 L243.33,171.64 L243.55,171.26 L243.77,170.88 L243.99,170.49 L244.21,170.10 L244.43,169.71 L244.65,169.31 L244.87,168.92 L245.09,168.52 L245.31,168.11 L245.52,167.71 L245.74,167.30 L245.96,166.89 L246.18,166.47 L246.40,166.05 L246.62,165.63 L246.84,165.21 L247.06,164.78 L247.28,164.35 L247.50,163.92 L247.72,163.48 L247.94,163.04 L248.16,162.60 L248.38,162.15 L248.60,161.70 L248.82,161.25 L249.03,160.79 L249.25,160.33 L249.47,159.86 L249.69,159.39 L249.91,158.92 L250.13,158.45 L250.35,157.96 L250.57,157.48 L250.79,156.99 L251.01,156.50 L251.23,156.00 L251.45,155.50 L251.67,155.00 L251.89,154.49 L252.11,153.97 L252.32,153.45 L252.54,152.93 L252.76,152.40 L252.98,151.87 L253.20,151.33 L253.42,150.79 L253.64,150.24 L253.86,149.69 L254.08,149.13 L254.30,148.57 L254.52,148.00 L254.74,147.43 L254.96,146.85 L255.18,146.26 L255.40,145.67 L255.62,145.08 L255.83,144.47 L256.05,143.86 L256.27,143.25 L256.49,142.63 L256.71,142.00 L256.93,141.37 L257.15,140.73 L257.37,140.08 L257.59,139.43 L257.81,138.77 L258.03,138.10 L258.25,137.42 L258.47,136.74 L258.69,136.05 L258.91,135.35 L259.13,134.65 L259.34,133.93 L259.56,133.21 L259.78,132.48 L260.00,131.75 L260.22,131.00 L260.44,130.25 L260.66,129.48 L260.88,128.71 L261.10,127.93 L261.32,127.14 L261.54,126.34 L261.76,125.54 L261.98,124.72 L262.20,123.89 L262.42,123.05 L262.63,122.21 L262.85,121.35 L263.07,120.48 L263.29,119.61 L263.51,118.72 L263.73,117.82 L263.95,116.91 L264.17,115.99 L264.39,115.07 L264.61,114.13 L264.83,113.18 L265.05,112.22 L265.27,111.25 L265.49,110.27 L265.71,109.28 L265.93,108.28 L266.14,107.27 L266.36,106.25 L266.58,105.22 L266.80,104.19 L267.02,103.15 L267.24,102.10 L267.46,101.04 L267.68,99.98 L267.90,98.92 L268.12,97.85 L268.34,96.78 L268.56,95.71 L268.78,94.65 L269.00,93.58 L269.22,92.52 L269.43,91.47 L269.65,90.44 L269.87,89.41 L270.09,88.40 L270.31,87.41 L270.53,86.45 L270.75,85.51 L270.97,84.61 L271.19,83.74 L271.41,82.91 L271.63,82.13 L271.85,81.39 L272.07,80.71 L272.29,80.10 L272.51,79.54 L272.73,79.05 L272.94,78.64 L273.16,78.30 L273.38,78.04 L273.60,77.85 L273.82,77.76 L274.04,77.74 L274.26,77.81 L274.48,77.96 L274.70,78.19 L274.92,78.50 L275.14,78.89 L275.36,79.35 L275.58,79.88 L275.80,80.47 L276.02,81.13 L276.23,81.84 L276.45,82.60 L276.67,83.42 L276.89,84.27 L277.11,85.16 L277.33,86.09 L277.55,87.04 L277.77,88.02 L277.99,89.02 L278.21,90.04 L278.43,91.08 L278.65,92.12 L278.87,93.18 L279.09,94.24 L279.31,95.30 L279.53,96.37 L279.74,97.44 L279.96,98.51 L280.18,99.58 L280.40,100.64 L280.62,101.70 L280.84,102.75 L281.06,103.79 L281.28,104.83 L281.50,105.86 L281.72,106.88 L281.94,107.89 L282.16,108.90 L282.38,109.89 L282.60,110.87 L282.82,111.85 L283.03,112.81 L283.25,113.77 L283.47,114.71 L283.69,115.64 L283.91,116.56 L284.13,117.48 L284.35,118.38 L284.57,119.27 L284.79,120.15 L285.01,121.02 L285.23,121.88 L285.45,122.73 L285.67,123.57 L285.89,124.40 L286.11,125.22 L286.33,126.04 L286.54,126.84 L286.76,127.63 L286.98,128.42 L287.20,129.19 L287.42,129.96 L287.64,130.72 L287.86,131.46 L288.08,132.20 L288.30,132.94 L288.52,133.66 L288.74,134.38 L288.96,135.08 L289.18,135.78 L289.40,136.48 L289.62,137.16 L289.83,137.84 L290.05,138.51 L290.27,139.17 L290.49,139.83 L290.71,140.48 L290.93,141.12 L291.15,141.76 L291.37,142.39 L291.59,143.01 L291.81,143.63 L292.03,144.24 L292.25,144.85 L292.47,145.44 L292.69,146.04 L292.91,146.62 L293.13,147.21 L293.34,147.78 L293.56,148.35 L293.78,148.92 L294.00,149.48 L294.22,150.03 L294.44,150.58 L294.66,151.13 L294.88,151.67 L295.10,152.20 L295.32,152.73 L295.54,153.25 L295.76,153.78 L295.98,154.29 L296.20,154.80 L296.42,155.31 L296.64,155.81 L296.85,156.31 L297.07,156.80 L297.29,157.29 L297.51,157.78 L297.73,158.26 L297.95,158.74 L298.17,159.21 L298.39,159.68 L298.61,160.15 L298.83,160.61 L299.05,161.07 L299.27,161.53 L299.49,161.98 L299.71,162.43 L299.93,162.87 L300.14,163.31 L300.36,163.75 L300.58,164.19 L300.80,164.62 L301.02,165.05 L301.24,165.47 L301.46,165.89 L301.68,166.31 L301.90,166.73 L302.12,167.14 L302.34,167.55 L302.56,167.96 L302.78,168.36 L303.00,168.76 L303.22,169.16 L303.44,169.56 L303.65,169.95 L303.87,170.34 L304.09,170.73 L304.31,171.11 L304.53,171.50 L304.75,171.88 L304.97,172.25 L305.19,172.63 L305.41,173.00 L305.63,173.37 L305.85,173.74 L306.07,174.10 L306.29,174.47 L306.51,174.83 L306.73,175.18 L306.94,175.54 L307.16,175.89 L307.38,176.25 L307.60,176.60 L307.82,176.94 L308.04,177.29 L308.26,177.63 L308.48,177.97 L308.70,178.31 L308.92,178.65 L309.14,178.98 L309.36,179.31 L309.58,179.65 L309.80,179.97 L310.02,180.30 L310.24,180.63 L310.45,180.95 L310.67,181.27 L310.89,181.59 L311.11,181.91 L311.33,182.23 L311.55,182.54 L311.77,182.85 L311.99,183.16 L312.21,183.47 L312.43,183.78 L312.65,184.09 L312.87,184.39 L313.09,184.69 L313.31,184.99 L313.53,185.29 L313.74,185.59 L313.96,185.89 L314.18,186.18 L314.40,186.47 L314.62,186.76 L314.84,187.05 L315.06,187.34 L315.28,187.63 L315.50,187.91 L315.72,188.20 L315.94,188.48 L316.16,188.76 L316.38,189.04 L316.60,189.32 L316.82,189.60 L317.04,189.87 L317.25,190.15 L317.47,190.42 L317.69,190.69 L317.91,190.96 L318.13,191.23 L318.35,191.50 L318.57,191.77 L318.79,192.03 L319.01,192.29 L319.23,192.56 L319.45,192.82 L319.67,193.08 L319.89,193.34 L320.11,193.60 L320.33,193.85 L320.54,194.11 L320.76,194.36 L320.98,194.61 L321.20,194.87 L321.42,195.12 L321.64,195.37 L321.86,195.62 L322.08,195.86 L322.30,196.11 L322.52,196.36 L322.74,196.60 L322.96,196.84 L323.18,197.08 L323.40,197.33 L323.62,197.57 L323.84,197.80 L324.05,198.04 L324.27,198.28 L324.49,198.52 L324.71,198.75 L324.93,198.98 L325.15,199.22 L325.37,199.45 L325.59,199.68 L325.81,199.91 L326.03,200.14 L326.25,200.37 L326.47,200.59 L326.69,200.82 L326.91,201.05 L327.13,201.27 L327.34,201.49 L327.56,201.72 L327.78,201.94 L328.00,202.16 L328.22,202.38 L328.44,202.60 L328.66,202.82 L328.88,203.03 L329.10,203.25 L329.32,203.47 L329.54,203.68 L329.76,203.90 L329.98,204.11 L330.20,204.32 L330.42,204.53 L330.64,204.74 L330.85,204.95 L331.07,205.16 L331.29,205.37 L331.51,205.58 L331.73,205.79 L331.95,205.99 L332.17,206.20 L332.39,206.40 L332.61,206.61 L332.83,206.81 L333.05,207.01 L333.27,207.21 L333.49,207.41 L333.71,207.61 L333.93,207.81 L334.15,208.01 L334.36,208.21 L334.58,208.41 L334.80,208.61 L335.02,208.80 L335.24,209.00 L335.46,209.19 L335.68,209.38 L335.90,209.58 L336.12,209.77 L336.34,209.96 L336.56,210.15 L336.78,210.34 L337.00,210.53 L337.22,210.72 L337.44,210.91 L337.65,211.10 L337.87,211.29 L338.09,211.47 L338.31,211.66 L338.53,211.85 L338.75,212.03 L338.97,212.21 L339.19,212.40 L339.41,212.58 L339.63,212.76 L339.85,212.94 L340.07,213.13 L340.29,213.31 L340.51,213.49 L340.73,213.67 L340.95,213.84 L341.16,214.02 L341.38,214.20 L341.60,214.38 L341.82,214.55 L342.04,214.73 L342.26,214.91 L342.48,215.08 L342.70,215.25 L342.92,215.43 L343.14,215.60 L343.36,215.77 L343.58,215.95 L343.80,216.12 L344.02,216.29 L344.24,216.46 L344.45,216.63 L344.67,216.80 L344.89,216.97 L345.11,217.14 L345.33,217.30 L345.55,217.47 L345.77,217.64 L345.99,217.81 L346.21,217.97 L346.43,218.14 L346.65,218.30 L346.87,218.47 L347.09,218.63 L347.31,218.79 L347.53,218.96 L347.75,219.12 L347.96,219.28 L348.18,219.44 L348.40,219.60 L348.62,219.76 L348.84,219.93 L349.06,220.08 L349.28,220.24 L349.50,220.40" stroke="#23922a" stroke-width="1.3" stroke-dasharray="2.0 1.8" fill="none"/>
<path d="M234.34,221.97 L234.56,221.73 L234.78,221.49 L235.00,221.25 L235.22,221.01 L235.43,220.77 L235.65,220.52 L235.87,220.28 L236.09,220.03 L236.31,219.78 L236.53,219.53 L236.75,219.28 L236.97,219.03 L237.19,218.78 L237.41,218.52 L237.63,218.27 L237.85,218.01 L238.07,217.76 L238.29,217.50 L238.51,217.24 L238.72,216.98 L238.94,216.72 L239.16,216.45 L239.38,216.19 L239.60,215.92 L239.82,215.66 L240.04,215.39 L240.26,215.12 L240.48,214.85 L240.70,214.58 L240.92,214.30 L241.14,214.03 L241.36,213.75 L241.58,213.47 L241.80,213.20 L242.02,212.91 L242.23,212.63 L242.45,212.35 L242.67,212.07 L242.89,211.78 L243.11,211.49 L243.33,211.20 L243.55,210.91 L243.77,210.62 L243.99,210.33 L244.21,210.03 L244.43,209.73 L244.65,209.44 L244.87,209.14 L245.09,208.83 L245.31,208.53 L245.52,208.23 L245.74,207.92 L245.96,207.61 L246.18,207.30 L246.40,206.99 L246.62,206.68 L246.84,206.36 L247.06,206.04 L247.28,205.73 L247.50,205.41 L247.72,205.08 L247.94,204.76 L248.16,204.43 L248.38,204.10 L248.60,203.77 L248.82,203.44 L249.03,203.11 L249.25,202.77 L249.47,202.43 L249.69,202.09 L249.91,201.75 L250.13,201.41 L250.35,201.06 L250.57,200.71 L250.79,200.36 L251.01,200.01 L251.23,199.66 L251.45,199.30 L251.67,198.94 L251.89,198.58 L252.11,198.21 L252.32,197.85 L252.54,197.48 L252.76,197.11 L252.98,196.73 L253.20,196.36 L253.42,195.98 L253.64,195.60 L253.86,195.21 L254.08,194.83 L254.30,194.44 L254.52,194.04 L254.74,193.65 L254.96,193.25 L255.18,192.85 L255.40,192.45 L255.62,192.04 L255.83,191.63 L256.05,191.22 L256.27,190.81 L256.49,190.39 L256.71,189.97 L256.93,189.54 L257.15,189.12 L257.37,188.69 L257.59,188.25 L257.81,187.81 L258.03,187.37 L258.25,186.93 L258.47,186.48 L258.69,186.03 L258.91,185.58 L259.13,185.12 L259.34,184.66 L259.56,184.19 L259.78,183.72 L260.00,183.25 L260.22,182.77 L260.44,182.29 L260.66,181.81 L260.88,181.32 L261.10,180.82 L261.32,180.33 L261.54,179.82 L261.76,179.32 L261.98,178.81 L262.20,178.29 L262.42,177.77 L262.63,177.25 L262.85,176.72 L263.07,176.18 L263.29,175.64 L263.51,175.10 L263.73,174.55 L263.95,174.00 L264.17,173.44 L264.39,172.87 L264.61,172.30 L264.83,171.72 L265.05,171.14 L265.27,170.55 L265.49,169.96 L265.71,169.36 L265.93,168.76 L266.14,168.14 L266.36,167.53 L266.58,166.90 L266.80,166.27 L267.02,165.63 L267.24,164.99 L267.46,164.34 L267.68,163.68 L267.90,163.01 L268.12,162.34 L268.34,161.66 L268.56,160.97 L268.78,160.28 L269.00,159.57 L269.22,158.86 L269.43,158.14 L269.65,157.41 L269.87,156.68 L270.09,155.93 L270.31,155.18 L270.53,154.42 L270.75,153.64 L270.97,152.86 L271.19,152.07 L271.41,151.27 L271.63,150.46 L271.85,149.64 L272.07,148.81 L272.29,147.97 L272.51,147.12 L272.73,146.25 L272.94,145.38 L273.16,144.50 L273.38,143.60 L273.60,142.69 L273.82,141.78 L274.04,140.85 L274.26,139.90 L274.48,138.95 L274.70,137.99 L274.92,137.01 L275.14,136.02 L275.36,135.02 L275.58,134.01 L275.80,132.98 L276.02,131.94 L276.23,130.90 L276.45,129.84 L276.67,128.76 L276.89,127.68 L277.11,126.59 L277.33,125.49 L277.55,124.38 L277.77,123.26 L277.99,122.13 L278.21,120.99 L278.43,119.85 L278.65,118.71 L278.87,117.56 L279.09,116.41 L279.31,115.27 L279.53,114.12 L279.74,112.98 L279.96,111.86 L280.18,110.74 L280.40,109.64 L280.62,108.56 L280.84,107.50 L281.06,106.47 L281.28,105.48 L281.50,104.52 L281.72,103.60 L281.94,102.74 L282.16,101.93 L282.38,101.19 L282.60,100.50 L282.82,99.90 L283.03,99.37 L283.25,98.92 L283.47,98.56 L283.69,98.29 L283.91,98.11 L284.13,98.03 L284.35,98.05 L284.57,98.16 L284.79,98.36 L285.01,98.66 L285.23,99.05 L285.45,99.52 L285.67,100.07 L285.89,100.70 L286.11,101.41 L286.33,102.17 L286.54,103.00 L286.76,103.88 L286.98,104.81 L287.20,105.78 L287.42,106.78 L287.64,107.82 L287.86,108.89 L288.08,109.97 L288.30,111.08 L288.52,112.20 L288.74,113.33 L288.96,114.47 L289.18,115.61 L289.40,116.76 L289.62,117.91 L289.83,119.06 L290.05,120.20 L290.27,121.34 L290.49,122.47 L290.71,123.60 L290.93,124.72 L291.15,125.82 L291.37,126.92 L291.59,128.01 L291.81,129.09 L292.03,130.16 L292.25,131.22 L292.47,132.26 L292.69,133.29 L292.91,134.32 L293.13,135.33 L293.34,136.32 L293.56,137.31 L293.78,138.28 L294.00,139.24 L294.22,140.19 L294.44,141.13 L294.66,142.06 L294.88,142.97 L295.10,143.87 L295.32,144.77 L295.54,145.65 L295.76,146.52 L295.98,147.38 L296.20,148.22 L296.42,149.06 L296.64,149.89 L296.85,150.71 L297.07,151.52 L297.29,152.31 L297.51,153.10 L297.73,153.88 L297.95,154.65 L298.17,155.41 L298.39,156.16 L298.61,156.90 L298.83,157.64 L299.05,158.36 L299.27,159.08 L299.49,159.79 L299.71,160.49 L299.93,161.18 L300.14,161.87 L300.36,162.55 L300.58,163.22 L300.80,163.88 L301.02,164.54 L301.24,165.19 L301.46,165.83 L301.68,166.46 L301.90,167.09 L302.12,167.72 L302.34,168.33 L302.56,168.94 L302.78,169.55 L303.00,170.14 L303.22,170.73 L303.44,171.32 L303.65,171.90 L303.87,172.47 L304.09,173.04 L304.31,173.61 L304.53,174.17 L304.75,174.72 L304.97,175.27 L305.19,175.81 L305.41,176.35 L305.63,176.88 L305.85,177.41 L306.07,177.93 L306.29,178.45 L306.51,178.96 L306.73,179.47 L306.94,179.98 L307.16,180.48 L307.38,180.97 L307.60,181.47 L307.82,181.95 L308.04,182.44 L308.26,182.92 L308.48,183.39 L308.70,183.87 L308.92,184.33 L309.14,184.80 L309.36,185.26 L309.58,185.72 L309.80,186.17 L310.02,186.62 L310.24,187.07 L310.45,187.51 L310.67,187.95 L310.89,188.38 L311.11,188.82 L311.33,189.25 L311.55,189.67 L311.77,190.10 L311.99,190.52 L312.21,190.93 L312.43,191.35 L312.65,191.76 L312.87,192.17 L313.09,192.57 L313.31,192.97 L313.53,193.37 L313.74,193.77 L313.96,194.16 L314.18,194.55 L314.40,194.94 L314.62,195.33 L314.84,195.71 L315.06,196.09 L315.28,196.47 L315.50,196.85 L315.72,197.22 L315.94,197.59 L316.16,197.96 L316.38,198.32 L316.60,198.69 L316.82,199.05 L317.04,199.41 L317.25,199.76 L317.47,200.12 L317.69,200.47 L317.91,200.82 L318.13,201.17 L318.35,201.51 L318.57,201.86 L318.79,202.20 L319.01,202.54 L319.23,202.88 L319.45,203.21 L319.67,203.54 L319.89,203.88 L320.11,204.20 L320.33,204.53 L320.54,204.86 L320.76,205.18 L320.98,205.50 L321.20,205.82 L321.42,206.14 L321.64,206.46 L321.86,206.77 L322.08,207.09 L322.30,207.40 L322.52,207.71 L322.74,208.01 L322.96,208.32 L323.18,208.62 L323.40,208.93 L323.62,209.23 L323.84,209.53 L324.05,209.82 L324.27,210.12 L324.49,210.42 L324.71,210.71 L324.93,211.00 L325.15,211.29 L325.37,211.58 L325.59,211.87 L325.81,212.15 L326.03,212.44 L326.25,212.72 L326.47,213.00 L326.69,213.28 L326.91,213.56 L327.13,213.84 L327.34,214.11 L327.56,214.39 L327.78,214.66 L328.00,214.93 L328.22,215.20 L328.44,215.47 L328.66,215.74 L328.88,216.00 L329.10,216.27 L329.32,216.53 L329.54,216.80 L329.76,217.06 L329.98,217.32 L330.20,217.58 L330.42,217.84 L330.64,218.09 L330.85,218.35 L331.07,218.60 L331.29,218.86 L331.51,219.11 L331.73,219.36 L331.95,219.61 L332.17,219.86 L332.39,220.10 L332.61,220.35 L332.83,220.60 L333.05,220.84 L333.27,221.08 L333.49,221.33 L333.71,221.57 L333.93,221.81" stroke="#23922a" stroke-width="1.3" stroke-dasharray="2.0 1.8" fill="none"/>
<path d="M42.62,213.70 L42.84,213.68 L43.06,213.66 L43.28,213.63 L43.50,213.61 L43.72,213.59 L43.94,213.56 L44.16,213.54 L44.37,213.52 L44.59,213.49 L44.81,213.47 L45.03,213.45 L45.25,213.42 L45.47,213.40 L45.69,213.38 L45.91,213.35 L46.13,213.33 L46.35,213.30 L46.57,213.28 L46.79,213.26 L47.01,213.23 L47.23,213.21 L47.45,213.19 L47.67,213.16 L47.88,213.14 L48.10,213.12 L48.32,213.09 L48.54,213.07 L48.76,213.04 L48.98,213.02 L49.20,213.00 L49.42,212.97 L49.64,212.95 L49.86,212.92 L50.08,212.90 L50.30,212.88 L50.52,212.85 L50.74,212.83 L50.96,212.80 L51.17,212.78 L51.39,212.76 L51.61,212.73 L51.83,212.71 L52.05,212.68 L52.27,212.66 L52.49,212.64 L52.71,212.61 L52.93,212.59 L53.15,212.56 L53.37,212.54 L53.59,212.51 L53.81,212.49 L54.03,212.47 L54.25,212.44 L54.47,212.42 L54.68,212.39 L54.90,212.37 L55.12,212.34 L55.34,212.32 L55.56,212.29 L55.78,212.27 L56.00,212.25 L56.22,212.22 L56.44,212.20 L56.66,212.17 L56.88,212.15 L57.10,212.12 L57.32,212.10 L57.54,212.07 L57.76,212.05 L57.97,212.02 L58.19,212.00 L58.41,211.97 L58.63,211.95 L58.85,211.92 L59.07,211.90 L59.29,211.87 L59.51,211.85 L59.73,211.82 L59.95,211.80 L60.17,211.77 L60.39,211.75 L60.61,211.72 L60.83,211.70 L61.05,211.67 L61.27,211.65 L61.48,211.62 L61.70,211.60 L61.92,211.57 L62.14,211.55 L62.36,211.52 L62.58,211.50 L62.80,211.47 L63.02,211.45 L63.24,211.42 L63.46,211.40 L63.68,211.37 L63.90,211.35 L64.12,211.32 L64.34,211.30 L64.56,211.27 L64.78,211.25 L64.99,211.22 L65.21,211.19 L65.43,211.17 L65.65,211.14 L65.87,211.12 L66.09,211.09 L66.31,211.07 L66.53,211.04 L66.75,211.02 L66.97,210.99 L67.19,210.96 L67.41,210.94 L67.63,210.91 L67.85,210.89 L68.07,210.86 L68.28,210.83 L68.50,210.81 L68.72,210.78 L68.94,210.76 L69.16,210.73 L69.38,210.71 L69.60,210.68 L69.82,210.65 L70.04,210.63 L70.26,210.60 L70.48,210.58 L70.70,210.55 L70.92,210.52 L71.14,210.50 L71.36,210.47 L71.58,210.44 L71.79,210.42 L72.01,210.39 L72.23,210.37 L72.45,210.34 L72.67,210.31 L72.89,210.29 L73.11,210.26 L73.33,210.23 L73.55,210.21 L73.77,210.18 L73.99,210.15 L74.21,210.13 L74.43,210.10 L74.65,210.07 L74.87,210.05 L75.08,210.02 L75.30,209.99 L75.52,209.97 L75.74,209.94 L75.96,209.91 L76.18,209.89 L76.40,209.86 L76.62,209.83 L76.84,209.81 L77.06,209.78 L77.28,209.75 L77.50,209.73 L77.72,209.70 L77.94,209.67 L78.16,209.65 L78.38,209.62 L78.59,209.59 L78.81,209.57 L79.03,209.54 L79.25,209.51 L79.47,209.48 L79.69,209.46 L79.91,209.43 L80.13,209.40 L80.35,209.38 L80.57,209.35 L80.79,209.32 L81.01,209.29 L81.23,209.27 L81.45,209.24 L81.67,209.21 L81.88,209.18 L82.10,209.16 L82.32,209.13 L82.54,209.10 L82.76,209.07 L82.98,209.05 L83.20,209.02 L83.42,208.99 L83.64,208.96 L83.86,208.94 L84.08,208.91 L84.30,208.88 L84.52,208.85 L84.74,208.82 L84.96,208.80 L85.18,208.77 L85.39,208.74 L85.61,208.71 L85.83,208.69 L86.05,208.66 L86.27,208.63 L86.49,208.60 L86.71,208.57 L86.93,208.54 L87.15,208.52 L87.37,208.49 L87.59,208.46 L87.81,208.43 L88.03,208.40 L88.25,208.38 L88.47,208.35 L88.68,208.32 L88.90,208.29 L89.12,208.26 L89.34,208.23 L89.56,208.21 L89.78,208.18 L90.00,208.15 L90.22,208.12 L90.44,208.09 L90.66,208.06 L90.88,208.03 L91.10,208.01 L91.32,207.98 L91.54,207.95 L91.76,207.92 L91.98,207.89 L92.19,207.86 L92.41,207.83 L92.63,207.80 L92.85,207.78 L93.07,207.75 L93.29,207.72 L93.51,207.69 L93.73,207.66 L93.95,207.63 L94.17,207.60 L94.39,207.57 L94.61,207.54 L94.83,207.51 L95.05,207.49 L95.27,207.46 L95.48,207.43 L95.70,207.40 L95.92,207.37 L96.14,207.34 L96.36,207.31 L96.58,207.28 L96.80,207.25 L97.02,207.22 L97.24,207.19 L97.46,207.16 L97.68,207.13 L97.90,207.10 L98.12,207.07 L98.34,207.04 L98.56,207.01 L98.78,206.98 L98.99,206.95 L99.21,206.92 L99.43,206.89 L99.65,206.87 L99.87,206.84 L100.09,206.81 L100.31,206.78 L100.53,206.75 L100.75,206.72 L100.97,206.69 L101.19,206.66 L101.41,206.63 L101.63,206.60 L101.85,206.56 L102.07,206.53 L102.29,206.50 L102.50,206.47 L102.72,206.44 L102.94,206.41 L103.16,206.38 L103.38,206.35 L103.60,206.32 L103.82,206.29 L104.04,206.26 L104.26,206.23 L104.48,206.20 L104.70,206.17 L104.92,206.14 L105.14,206.11 L105.36,206.08 L105.58,206.05 L105.79,206.02 L106.01,205.99 L106.23,205.95 L106.45,205.92 L106.67,205.89 L106.89,205.86 L107.11,205.83 L107.33,205.80 L107.55,205.77 L107.77,205.74 L107.99,205.71 L108.21,205.67 L108.43,205.64 L108.65,205.61 L108.87,205.58 L109.09,205.55 L109.30,205.52 L109.52,205.49 L109.74,205.46 L109.96,205.42 L110.18,205.39 L110.40,205.36 L110.62,205.33 L110.84,205.30 L111.06,205.27 L111.28,205.23 L111.50,205.20 L111.72,205.17 L111.94,205.14 L112.16,205.11 L112.38,205.08 L112.59,205.04 L112.81,205.01 L113.03,204.98 L113.25,204.95 L113.47,204.92 L113.69,204.88 L113.91,204.85 L114.13,204.82 L114.35,204.79 L114.57,204.76 L114.79,204.72 L115.01,204.69 L115.23,204.66 L115.45,204.63 L115.67,204.59 L115.89,204.56 L116.10,204.53 L116.32,204.50 L116.54,204.46 L116.76,204.43 L116.98,204.40 L117.20,204.37 L117.42,204.33 L117.64,204.30 L117.86,204.27 L118.08,204.23 L118.30,204.20 L118.52,204.17 L118.74,204.14 L118.96,204.10 L119.18,204.07 L119.39,204.04 L119.61,204.00 L119.83,203.97 L120.05,203.94 L120.27,203.90 L120.49,203.87 L120.71,203.84 L120.93,203.80 L121.15,203.77 L121.37,203.74 L121.59,203.70 L121.81,203.67 L122.03,203.64 L122.25,203.60 L122.47,203.57 L122.69,203.54 L122.90,203.50 L123.12,203.47 L123.34,203.43 L123.56,203.40 L123.78,203.37 L124.00,203.33 L124.22,203.30 L124.44,203.26 L124.66,203.23 L124.88,203.20 L125.10,203.16 L125.32,203.13 L125.54,203.09 L125.76,203.06 L125.98,203.02 L126.19,202.99 L126.41,202.96 L126.63,202.92 L126.85,202.89 L127.07,202.85 L127.29,202.82 L127.51,202.78 L127.73,202.75 L127.95,202.71 L128.17,202.68 L128.39,202.64 L128.61,202.61 L128.83,202.57 L129.05,202.54 L129.27,202.50 L129.49,202.47 L129.70,202.43 L129.92,202.40 L130.14,202.36 L130.36,202.33 L130.58,202.29 L130.80,202.26 L131.02,202.22 L131.24,202.19 L131.46,202.15 L131.68,202.12 L131.90,202.08 L132.12,202.05 L132.34,202.01 L132.56,201.97 L132.78,201.94 L132.99,201.90 L133.21,201.87 L133.43,201.83 L133.65,201.80 L133.87,201.76 L134.09,201.72 L134.31,201.69 L134.53,201.65 L134.75,201.62 L134.97,201.58 L135.19,201.54 L135.41,201.51 L135.63,201.47 L135.85,201.43 L136.07,201.40 L136.29,201.36 L136.50,201.32 L136.72,201.29 L136.94,201.25 L137.16,201.21 L137.38,201.18 L137.60,201.14 L137.82,201.10 L138.04,201.07 L138.26,201.03 L138.48,200.99 L138.70,200.96 L138.92,200.92 L139.14,200.88 L139.36,200.85 L139.58,200.81 L139.80,200.77 L140.01,200.73 L140.23,200.70 L140.45,200.66 L140.67,200.62 L140.89,200.58 L141.11,200.55 L141.33,200.51 L141.55,200.47 L141.77,200.43 L141.99,200.40 L142.21,200.36 L142.43,200.32 L142.65,200.28 L142.87,200.24 L143.09,200.21 L143.30,200.17 L143.52,200.13 L143.74,200.09 L143.96,200.05 L144.18,200.01 L144.40,199.98 L144.62,199.94 L144.84,199.90 L145.06,199.86 L145.28,199.82 L145.50,199.78 L145.72,199.75 L145.94,199.71 L146.16,199.67 L146.38,199.63 L146.60,199.59 L146.81,199.55 L147.03,199.51 L147.25,199.47 L147.47,199.43 L147.69,199.39 L147.91,199.36 L148.13,199.32 L148.35,199.28 L148.57,199.24 L148.79,199.20 L149.01,199.16 L149.23,199.12 L149.45,199.08 L149.67,199.04 L149.89,199.00 L150.10,198.96 L150.32,198.92 L150.54,198.88 L150.76,198.84 L150.98,198.80 L151.20,198.76 L151.42,198.72 L151.64,198.68 L151.86,198.64 L152.08,198.60 L152.30,198.56 L152.52,198.52 L152.74,198.48 L152.96,198.44 L153.18,198.40 L153.40,198.36 L153.61,198.32 L153.83,198.27 L154.05,198.23 L154.27,198.19 L154.49,198.15 L154.71,198.11 L154.93,198.07 L155.15,198.03 L155.37,197.99 L155.59,197.95 L155.81,197.90 L156.03,197.86 L156.25,197.82 L156.47,197.78 L156.69,197.74 L156.90,197.70 L157.12,197.65 L157.34,197.61 L157.56,197.57 L157.78,197.53 L158.00,197.49 L158.22,197.45 L158.44,197.40 L158.66,197.36 L158.88,197.32 L159.10,197.28 L159.32,197.23 L159.54,197.19 L159.76,197.15 L159.98,197.11 L160.20,197.06 L160.41,197.02 L160.63,196.98 L160.85,196.94 L161.07,196.89 L161.29,196.85 L161.51,196.81 L161.73,196.76 L161.95,196.72 L162.17,196.68 L162.39,196.63 L162.61,196.59 L162.83,196.55 L163.05,196.50 L163.27,196.46 L163.49,196.42 L163.70,196.37 L163.92,196.33 L164.14,196.28 L164.36,196.24 L164.58,196.20 L164.80,196.15 L165.02,196.11 L165.24,196.06 L165.46,196.02 L165.68,195.98 L165.90,195.93 L166.12,195.89 L166.34,195.84 L166.56,195.80 L166.78,195.75 L167.00,195.71 L167.21,195.66 L167.43,195.62 L167.65,195.57 L167.87,195.53 L168.09,195.48 L168.31,195.44 L168.53,195.39 L168.75,195.35 L168.97,195.30 L169.19,195.26 L169.41,195.21 L169.63,195.16 L169.85,195.12 L170.07,195.07 L170.29,195.03 L170.50,194.98 L170.72,194.94 L170.94,194.89 L171.16,194.84 L171.38,194.80 L171.60,194.75 L171.82,194.70 L172.04,194.66 L172.26,194.61 L172.48,194.56 L172.70,194.52 L172.92,194.47 L173.14,194.42 L173.36,194.38 L173.58,194.33 L173.80,194.28 L174.01,194.23 L174.23,194.19 L174.45,194.14 L174.67,194.09 L174.89,194.04 L175.11,194.00 L175.33,193.95 L175.55,193.90 L175.77,193.85 L175.99,193.81 L176.21,193.76 L176.43,193.71 L176.65,193.66 L176.87,193.61 L177.09,193.56 L177.31,193.52 L177.52,193.47 L177.74,193.42 L177.96,193.37 L178.18,193.32 L178.40,193.27 L178.62,193.22 L178.84,193.17 L179.06,193.12 L179.28,193.08 L179.50,193.03 L179.72,192.98 L179.94,192.93 L180.16,192.88 L180.38,192.83 L180.60,192.78 L180.81,192.73 L181.03,192.68 L181.25,192.63 L181.47,192.58 L181.69,192.53 L181.91,192.48 L182.13,192.43 L182.35,192.38 L182.57,192.32 L182.79,192.27 L183.01,192.22 L183.23,192.17 L183.45,192.12 L183.67,192.07 L183.89,192.02 L184.11,191.97 L184.32,191.92 L184.54,191.86 L184.76,191.81 L184.98,191.76 L185.20,191.71 L185.42,191.66 L185.64,191.61 L185.86,191.55 L186.08,191.50 L186.30,191.45 L186.52,191.40 L186.74,191.34 L186.96,191.29 L187.18,191.24 L187.40,191.19 L187.61,191.13 L187.83,191.08 L188.05,191.03 L188.27,190.97 L188.49,190.92 L188.71,190.87 L188.93,190.81 L189.15,190.76 L189.37,190.71 L189.59,190.65 L189.81,190.60 L190.03,190.54 L190.25,190.49 L190.47,190.44 L190.69,190.38 L190.91,190.33 L191.12,190.27 L191.34,190.22 L191.56,190.16 L191.78,190.11 L192.00,190.05 L192.22,190.00 L192.44,189.94 L192.66,189.89 L192.88,189.83 L193.10,189.78 L193.32,189.72 L193.54,189.66 L193.76,189.61 L193.98,189.55 L194.20,189.50 L194.41,189.44 L194.63,189.38 L194.85,189.33 L195.07,189.27 L195.29,189.21 L195.51,189.16 L195.73,189.10 L195.95,189.04 L196.17,188.99 L196.39,188.93 L196.61,188.87 L196.83,188.81 L197.05,188.76 L197.27,188.70 L197.49,188.64 L197.71,188.58 L197.92,188.52 L198.14,188.47 L198.36,188.41 L198.58,188.35 L198.80,188.29 L199.02,188.23 L199.24,188.17 L199.46,188.11 L199.68,188.05 L199.90,188.00 L200.12,187.94 L200.34,187.88 L200.56,187.82 L200.78,187.76 L201.00,187.70 L201.21,187.64 L201.43,187.58 L201.65,187.52 L201.87,187.46 L202.09,187.40 L202.31,187.33 L202.53,187.27 L202.75,187.21 L202.97,187.15 L203.19,187.09 L203.41,187.03 L203.63,186.97 L203.85,186.91 L204.07,186.84 L204.29,186.78 L204.51,186.72 L204.72,186.66 L204.94,186.60 L205.16,186.53 L205.38,186.47 L205.60,186.41 L205.82,186.34 L206.04,186.28 L206.26,186.22 L206.48,186.15 L206.70,186.09 L206.92,186.03 L207.14,185.96 L207.36,185.90 L207.58,185.84 L207.80,185.77 L208.01,185.71 L208.23,185.64 L208.45,185.58 L208.67,185.51 L208.89,185.45 L209.11,185.38 L209.33,185.32 L209.55,185.25 L209.77,185.19 L209.99,185.12 L210.21,185.05 L210.43,184.99 L210.65,184.92 L210.87,184.85 L211.09,184.79 L211.31,184.72 L211.52,184.65 L211.74,184.59 L211.96,184.52 L212.18,184.45 L212.40,184.38 L212.62,184.32 L212.84,184.25 L213.06,184.18 L213.28,184.11 L213.50,184.04 L213.72,183.98 L213.94,183.91 L214.16,183.84 L214.38,183.77 L214.60,183.70 L214.81,183.63 L215.03,183.56 L215.25,183.49 L215.47,183.42 L215.69,183.35 L215.91,183.28 L216.13,183.21 L216.35,183.14 L216.57,183.07 L216.79,183.00 L217.01,182.93 L217.23,182.85 L217.45,182.78 L217.67,182.71 L217.89,182.64 L218.11,182.57 L218.32,182.49 L218.54,182.42 L218.76,182.35 L218.98,182.28 L219.20,182.20 L219.42,182.13 L219.64,182.06 L219.86,181.98 L220.08,181.91 L220.30,181.83 L220.52,181.76 L220.74,181.68 L220.96,181.61 L221.18,181.53 L221.40,181.46 L221.62,181.38 L221.83,181.31 L222.05,181.23 L222.27,181.16 L222.49,181.08 L222.71,181.00 L222.93,180.93 L223.15,180.85 L223.37,180.77 L223.59,180.70 L223.81,180.62 L224.03,180.54 L224.25,180.46 L224.47,180.39 L224.69,180.31 L224.91,180.23 L225.12,180.15 L225.34,180.07 L225.56,179.99 L225.78,179.91 L226.00,179.83 L226.22,179.75 L226.44,179.67 L226.66,179.59 L226.88,179.51 L227.10,179.43 L227.32,179.35 L227.54,179.27 L227.76,179.19 L227.98,179.10 L228.20,179.02 L228.42,178.94 L228.63,178.86 L228.85,178.77 L229.07,178.69 L229.29,178.61 L229.51,178.52 L229.73,178.44 L229.95,178.36 L230.17,178.27 L230.39,178.19 L230.61,178.10 L230.83,178.02 L231.05,177.93 L231.27,177.84 L231.49,177.76 L231.71,177.67 L231.92,177.59 L232.14,177.50 L232.36,177.41 L232.58,177.33 L232.80,177.24 L233.02,177.15 L233.24,177.06 L233.46,176.97 L233.68,176.88 L233.90,176.80 L234.12,176.71 L234.34,176.62 L234.56,176.53 L234.78,176.44 L235.00,176.35 L235.22,176.25 L235.43,176.16 L235.65,176.07 L235.87,175.98 L236.09,175.89 L236.31,175.80 L236.53,175.70 L236.75,175.61 L236.97,175.52 L237.19,175.42 L237.41,175.33 L237.63,175.24 L237.85,175.14 L238.07,175.05 L238.29,174.95 L238.51,174.86 L238.72,174.76 L238.94,174.66 L239.16,174.57 L239.38,174.47 L239.60,174.37 L239.82,174.28 L240.04,174.18 L240.26,174.08 L240.48,173.98 L240.70,173.88 L240.92,173.78 L241.14,173.68 L241.36,173.58 L241.58,173.48 L241.80,173.38 L242.02,173.28 L242.23,173.18 L242.45,173.08 L242.67,172.98 L242.89,172.87 L243.11,172.77 L243.33,172.67 L243.55,172.56 L243.77,172.46 L243.99,172.35 L244.21,172.25 L244.43,172.14 L244.65,172.04 L244.87,171.93 L245.09,171.82 L245.31,171.72 L245.52,171.61 L245.74,171.50 L245.96,171.39 L246.18,171.29 L246.40,171.18 L246.62,171.07 L246.84,170.96 L247.06,170.85 L247.28,170.74 L247.50,170.62 L247.72,170.51 L247.94,170.40 L248.16,170.29 L248.38,170.17 L248.60,170.06 L248.82,169.95 L249.03,169.83 L249.25,169.72 L249.47,169.60 L249.69,169.49 L249.91,169.37 L250.13,169.25 L250.35,169.14 L250.57,169.02 L250.79,168.90 L251.01,168.78 L251.23,168.66 L251.45,168.54 L251.67,168.42 L251.89,168.30 L252.11,168.18 L252.32,168.06 L252.54,167.93 L252.76,167.81 L252.98,167.69 L253.20,167.56 L253.42,167.44 L253.64,167.31 L253.86,167.18 L254.08,167.06 L254.30,166.93 L254.52,166.80 L254.74,166.67 L254.96,166.55 L255.18,166.42 L255.40,166.29 L255.62,166.16 L255.83,166.02 L256.05,165.89 L256.27,165.76 L256.49,165.63 L256.71,165.49 L256.93,165.36 L257.15,165.22 L257.37,165.09 L257.59,164.95 L257.81,164.81 L258.03,164.67 L258.25,164.54 L258.47,164.40 L258.69,164.26 L258.91,164.12 L259.13,163.97 L259.34,163.83 L259.56,163.69 L259.78,163.54 L260.00,163.40 L260.22,163.26 L260.44,163.11 L260.66,162.96 L260.88,162.82 L261.10,162.67 L261.32,162.52 L261.54,162.37 L261.76,162.22 L261.98,162.07 L262.20,161.91 L262.42,161.76 L262.63,161.61 L262.85,161.45 L263.07,161.30 L263.29,161.14 L263.51,160.98 L263.73,160.82 L263.95,160.66 L264.17,160.50 L264.39,160.34 L264.61,160.18 L264.83,160.02 L265.05,159.85 L265.27,159.69 L265.49,159.52 L265.71,159.35 L265.93,159.19 L266.14,159.02 L266.36,158.85 L266.58,158.68 L266.80,158.50 L267.02,158.33 L267.24,158.16 L267.46,157.98 L267.68,157.80 L267.90,157.63 L268.12,157.45 L268.34,157.27 L268.56,157.09 L268.78,156.90 L269.00,156.72 L269.22,156.54 L269.43,156.35 L269.65,156.16 L269.87,155.97 L270.09,155.78 L270.31,155.59 L270.53,155.40 L270.75,155.21 L270.97,155.01 L271.19,154.82 L271.41,154.62 L271.63,154.42 L271.85,154.22 L272.07,154.02 L272.29,153.81 L272.51,153.61 L272.73,153.40 L272.94,153.19 L273.16,152.98 L273.38,152.77 L273.60,152.56 L273.82,152.34 L274.04,152.13 L274.26,151.91 L274.48,151.69 L274.70,151.47 L274.92,151.25 L275.14,151.02 L275.36,150.80 L275.58,150.57 L275.80,150.34 L276.02,150.10 L276.23,149.87 L276.45,149.63 L276.67,149.40 L276.89,149.16 L277.11,148.91 L277.33,148.67 L277.55,148.42 L277.77,148.17 L277.99,147.92 L278.21,147.67 L278.43,147.42 L278.65,147.16 L278.87,146.90 L279.09,146.64 L279.31,146.37 L279.53,146.10 L279.74,145.83 L279.96,145.56 L280.18,145.29 L280.40,145.01 L280.62,144.73 L280.84,144.45 L281.06,144.16 L281.28,143.87 L281.50,143.58 L281.72,143.28 L281.94,142.99 L282.16,142.69 L282.38,142.38 L282.60,142.07 L282.82,141.76 L283.03,141.45 L283.25,141.13 L283.47,140.81 L283.69,140.49 L283.91,140.16 L284.13,139.82 L284.35,139.49 L284.57,139.15 L284.79,138.80 L285.01,138.46 L285.23,138.10 L285.45,137.75 L285.67,137.39 L285.89,137.02 L286.11,136.65 L286.33,136.28 L286.54,135.90 L286.76,135.51 L286.98,135.12 L287.20,134.73 L287.42,134.33 L287.64,133.92 L287.86,133.51 L288.08,133.10 L288.30,132.68 L288.52,132.25 L288.74,131.81 L288.96,131.37 L289.18,130.93 L289.40,130.47 L289.62,130.01 L289.83,129.54 L290.05,129.07 L290.27,128.59 L290.49,128.10 L290.71,127.60 L290.93,127.10 L291.15,126.59 L291.37,126.06 L291.59,125.54 L291.81,125.00 L292.03,124.45 L292.25,123.89 L292.47,123.33 L292.69,122.75 L292.91,122.17 L293.13,121.57 L293.34,120.97 L293.56,120.35 L293.78,119.72 L294.00,119.09 L294.22,118.44 L294.44,117.78 L294.66,117.11 L294.88,116.42 L295.10,115.73 L295.32,115.02 L295.54,114.30 L295.76,113.57 L295.98,112.83 L296.20,112.08 L296.42,111.31 L296.64,110.53 L296.85,109.74 L297.07,108.94 L297.29,108.13 L297.51,107.31 L297.73,106.48 L297.95,105.65 L298.17,104.80 L298.39,103.95 L298.61,103.10 L298.83,102.24 L299.05,101.38 L299.27,100.53 L299.49,99.67 L299.71,98.82 L299.93,97.98 L300.14,97.14 L300.36,96.32 L300.58,95.51 L300.80,94.72 L301.02,93.94 L301.24,93.18 L301.46,92.45 L301.68,91.73 L301.90,91.05 L302.12,90.38 L302.34,89.74 L302.56,89.13 L302.78,88.55 L303.00,87.99 L303.22,87.45 L303.44,86.94 L303.65,86.46 L303.87,86.00 L304.09,85.57 L304.31,85.15 L304.53,84.76 L304.75,84.39 L304.97,84.04 L305.19,83.70 L305.41,83.39 L305.63,83.09 L305.85,82.80 L306.07,82.54 L306.29,82.28 L306.51,82.04 L306.73,81.81 L306.94,81.59 L307.16,81.38 L307.38,81.18 L307.60,80.99 L307.82,80.82 L308.04,80.64 L308.26,80.48 L308.48,80.33 L308.70,80.18 L308.92,80.04 L309.14,79.90 L309.36,79.77 L309.58,79.64 L309.80,79.53 L310.02,79.41 L310.24,79.30 L310.45,79.20 L310.67,79.09 L310.89,79.00 L311.11,78.90 L311.33,78.81 L311.55,78.73 L311.77,78.64 L311.99,78.56 L312.21,78.49 L312.43,78.41 L312.65,78.34 L312.87,78.27 L313.09,78.20 L313.31,78.13 L313.53,78.07 L313.74,78.01 L313.96,77.95 L314.18,77.89 L314.40,77.84 L314.62,77.78 L314.84,77.73 L315.06,77.68 L315.28,77.63 L315.50,77.58 L315.72,77.54 L315.94,77.49 L316.16,77.45 L316.38,77.40 L316.60,77.36 L316.82,77.32 L317.04,77.28 L317.25,77.25 L317.47,77.21 L317.69,77.17 L317.91,77.14 L318.13,77.10 L318.35,77.07 L318.57,77.03 L318.79,77.00 L319.01,76.97 L319.23,76.94 L319.45,76.91 L319.67,76.88 L319.89,76.85 L320.11,76.82 L320.33,76.80 L320.54,76.77 L320.76,76.74 L320.98,76.72 L321.20,76.69 L321.42,76.67 L321.64,76.65 L321.86,76.62 L322.08,76.60 L322.30,76.58 L322.52,76.55 L322.74,76.53 L322.96,76.51 L323.18,76.49 L323.40,76.47 L323.62,76.45 L323.84,76.43 L324.05,76.41 L324.27,76.39 L324.49,76.37 L324.71,76.36 L324.93,76.34 L325.15,76.32 L325.37,76.30 L325.59,76.29 L325.81,76.27 L326.03,76.25 L326.25,76.24 L326.47,76.22 L326.69,76.21 L326.91,76.19 L327.13,76.18 L327.34,76.16 L327.56,76.15 L327.78,76.13 L328.00,76.12 L328.22,76.11 L328.44,76.09 L328.66,76.08 L328.88,76.07 L329.10,76.05 L329.32,76.04 L329.54,76.03 L329.76,76.01 L329.98,76.00 L330.20,75.99 L330.42,75.98 L330.64,75.97 L330.85,75.96 L331.07,75.94 L331.29,75.93 L331.51,75.92 L331.73,75.91 L331.95,75.90 L332.17,75.89 L332.39,75.88 L332.61,75.87 L332.83,75.86 L333.05,75.85 L333.27,75.84 L333.49,75.83 L333.71,75.82 L333.93,75.81 L334.15,75.80 L334.36,75.79 L334.58,75.78 L334.80,75.78 L335.02,75.77 L335.24,75.76 L335.46,75.75 L335.68,75.74 L335.90,75.73 L336.12,75.72 L336.34,75.72 L336.56,75.71 L336.78,75.70 L337.00,75.69 L337.22,75.68 L337.44,75.68 L337.65,75.67 L337.87,75.66 L338.09,75.65 L338.31,75.65 L338.53,75.64 L338.75,75.63 L338.97,75.63 L339.19,75.62 L339.41,75.61 L339.63,75.61 L339.85,75.60 L340.07,75.59 L340.29,75.59 L340.51,75.58 L340.73,75.57 L340.95,75.57 L341.16,75.56 L341.38,75.55 L341.60,75.55 L341.82,75.54 L342.04,75.54 L342.26,75.53 L342.48,75.52 L342.70,75.52 L342.92,75.51 L343.14,75.51 L343.36,75.50 L343.58,75.50 L343.80,75.49 L344.02,75.48 L344.24,75.48 L344.45,75.47 L344.67,75.47 L344.89,75.46 L345.11,75.46 L345.33,75.45 L345.55,75.45 L345.77,75.44 L345.99,75.44 L346.21,75.43 L346.43,75.43 L346.65,75.42 L346.87,75.42 L347.09,75.41 L347.31,75.41 L347.53,75.40 L347.75,75.40 L347.96,75.39 L348.18,75.39 L348.40,75.39 L348.62,75.38 L348.84,75.38 L349.06,75.37 L349.28,75.37 L349.50,75.36" stroke="#1a2cf0" stroke-width="1.5" stroke-dasharray="5.2 4.4" fill="none"/>
</g>
<path d="M42.62,219.0v-2.7M42.62,4.8v2.7M46.46,219.0v-2.7M46.46,4.8v2.7M50.29,219.0v-2.7M50.29,4.8v2.7M54.13,219.0v-2.7M54.13,4.8v2.7M57.96,219.0v-2.7M57.96,4.8v2.7M61.80,219.0v-4.2M61.80,4.8v4.2M65.64,219.0v-2.7M65.64,4.8v2.7M69.47,219.0v-2.7M69.47,4.8v2.7M73.31,219.0v-2.7M73.31,4.8v2.7M77.14,219.0v-2.7M77.14,4.8v2.7M80.98,219.0v-2.7M80.98,4.8v2.7M84.82,219.0v-2.7M84.82,4.8v2.7M88.65,219.0v-2.7M88.65,4.8v2.7M92.49,219.0v-2.7M92.49,4.8v2.7M96.32,219.0v-2.7M96.32,4.8v2.7M100.16,219.0v-4.2M100.16,4.8v4.2M104.00,219.0v-2.7M104.00,4.8v2.7M107.83,219.0v-2.7M107.83,4.8v2.7M111.67,219.0v-2.7M111.67,4.8v2.7M115.50,219.0v-2.7M115.50,4.8v2.7M119.34,219.0v-2.7M119.34,4.8v2.7M123.18,219.0v-2.7M123.18,4.8v2.7M127.01,219.0v-2.7M127.01,4.8v2.7M130.85,219.0v-2.7M130.85,4.8v2.7M134.68,219.0v-2.7M134.68,4.8v2.7M138.52,219.0v-4.2M138.52,4.8v4.2M142.36,219.0v-2.7M142.36,4.8v2.7M146.19,219.0v-2.7M146.19,4.8v2.7M150.03,219.0v-2.7M150.03,4.8v2.7M153.86,219.0v-2.7M153.86,4.8v2.7M157.70,219.0v-2.7M157.70,4.8v2.7M161.54,219.0v-2.7M161.54,4.8v2.7M165.37,219.0v-2.7M165.37,4.8v2.7M169.21,219.0v-2.7M169.21,4.8v2.7M173.04,219.0v-2.7M173.04,4.8v2.7M176.88,219.0v-4.2M176.88,4.8v4.2M180.72,219.0v-2.7M180.72,4.8v2.7M184.55,219.0v-2.7M184.55,4.8v2.7M188.39,219.0v-2.7M188.39,4.8v2.7M192.22,219.0v-2.7M192.22,4.8v2.7M196.06,219.0v-2.7M196.06,4.8v2.7M199.90,219.0v-2.7M199.90,4.8v2.7M203.73,219.0v-2.7M203.73,4.8v2.7M207.57,219.0v-2.7M207.57,4.8v2.7M211.40,219.0v-2.7M211.40,4.8v2.7M215.24,219.0v-4.2M215.24,4.8v4.2M219.08,219.0v-2.7M219.08,4.8v2.7M222.91,219.0v-2.7M222.91,4.8v2.7M226.75,219.0v-2.7M226.75,4.8v2.7M230.58,219.0v-2.7M230.58,4.8v2.7M234.42,219.0v-2.7M234.42,4.8v2.7M238.26,219.0v-2.7M238.26,4.8v2.7M242.09,219.0v-2.7M242.09,4.8v2.7M245.93,219.0v-2.7M245.93,4.8v2.7M249.76,219.0v-2.7M249.76,4.8v2.7M253.60,219.0v-4.2M253.60,4.8v4.2M257.44,219.0v-2.7M257.44,4.8v2.7M261.27,219.0v-2.7M261.27,4.8v2.7M265.11,219.0v-2.7M265.11,4.8v2.7M268.94,219.0v-2.7M268.94,4.8v2.7M272.78,219.0v-2.7M272.78,4.8v2.7M276.62,219.0v-2.7M276.62,4.8v2.7M280.45,219.0v-2.7M280.45,4.8v2.7M284.29,219.0v-2.7M284.29,4.8v2.7M288.12,219.0v-2.7M288.12,4.8v2.7M291.96,219.0v-4.2M291.96,4.8v4.2M295.80,219.0v-2.7M295.80,4.8v2.7M299.63,219.0v-2.7M299.63,4.8v2.7M303.47,219.0v-2.7M303.47,4.8v2.7M307.30,219.0v-2.7M307.30,4.8v2.7M311.14,219.0v-2.7M311.14,4.8v2.7M314.98,219.0v-2.7M314.98,4.8v2.7M318.81,219.0v-2.7M318.81,4.8v2.7M322.65,219.0v-2.7M322.65,4.8v2.7M326.48,219.0v-2.7M326.48,4.8v2.7M330.32,219.0v-4.2M330.32,4.8v4.2M334.16,219.0v-2.7M334.16,4.8v2.7M337.99,219.0v-2.7M337.99,4.8v2.7M341.83,219.0v-2.7M341.83,4.8v2.7M345.66,219.0v-2.7M345.66,4.8v2.7M349.50,219.0v-2.7M349.50,4.8v2.7M42.6,213.43h2.6M349.5,213.43h-2.6M42.6,208.42h2.6M349.5,208.42h-2.6M42.6,204.19h2.6M349.5,204.19h-2.6M42.6,200.52h2.6M349.5,200.52h-2.6M42.6,197.29h2.6M349.5,197.29h-2.6M42.6,194.40h4.4M349.5,194.40h-4.4M42.6,175.37h2.6M349.5,175.37h-2.6M42.6,164.25h2.6M349.5,164.25h-2.6M42.6,156.35h2.6M349.5,156.35h-2.6M42.6,150.23h2.6M349.5,150.23h-2.6M42.6,145.22h2.6M349.5,145.22h-2.6M42.6,140.99h2.6M349.5,140.99h-2.6M42.6,137.32h2.6M349.5,137.32h-2.6M42.6,134.09h2.6M349.5,134.09h-2.6M42.6,131.20h4.4M349.5,131.20h-4.4M42.6,112.17h2.6M349.5,112.17h-2.6M42.6,101.05h2.6M349.5,101.05h-2.6M42.6,93.15h2.6M349.5,93.15h-2.6M42.6,87.03h2.6M349.5,87.03h-2.6M42.6,82.02h2.6M349.5,82.02h-2.6M42.6,77.79h2.6M349.5,77.79h-2.6M42.6,74.12h2.6M349.5,74.12h-2.6M42.6,70.89h2.6M349.5,70.89h-2.6M42.6,68.00h4.4M349.5,68.00h-4.4M42.6,48.97h2.6M349.5,48.97h-2.6M42.6,37.85h2.6M349.5,37.85h-2.6M42.6,29.95h2.6M349.5,29.95h-2.6M42.6,23.83h2.6M349.5,23.83h-2.6M42.6,18.82h2.6M349.5,18.82h-2.6M42.6,14.59h2.6M349.5,14.59h-2.6M42.6,10.92h2.6M349.5,10.92h-2.6M42.6,7.69h2.6M349.5,7.69h-2.6M42.6,4.80h4.4M349.5,4.80h-4.4" stroke="#222" stroke-width="1" fill="none"/>
<rect x="42.6" y="4.8" width="306.90" height="214.20" fill="none" stroke="#222" stroke-width="1"/>
<g stroke="#000" stroke-width="0.22">
<text x="52.99" y="232.00" font-size="10.8" font-family="Liberation Sans, sans-serif">864</text>
<text x="91.35" y="232.00" font-size="10.8" font-family="Liberation Sans, sans-serif">865</text>
<text x="129.71" y="232.00" font-size="10.8" font-family="Liberation Sans, sans-serif">866</text>
<text x="168.07" y="232.00" font-size="10.8" font-family="Liberation Sans, sans-serif">867</text>
<text x="206.43" y="232.00" font-size="10.8" font-family="Liberation Sans, sans-serif">868</text>
<text x="244.79" y="232.00" font-size="10.8" font-family="Liberation Sans, sans-serif">869</text>
<text x="283.15" y="232.00" font-size="10.8" font-family="Liberation Sans, sans-serif">870</text>
<text x="321.51" y="232.00" font-size="10.8" font-family="Liberation Sans, sans-serif">87 </text>
<text x="26.29" y="7.70" font-size="10.8" font-family="Liberation Sans, sans-serif"> 0</text>
<text x="32.29" y="70.90" font-size="10.8" font-family="Liberation Sans, sans-serif"> </text>
<text x="23.29" y="134.10" font-size="10.8" font-family="Liberation Sans, sans-serif">0. </text>
<text x="17.28" y="197.30" font-size="10.8" font-family="Liberation Sans, sans-serif">0.0 </text>
<text x="142.2" y="250.3" font-size="12.6" letter-spacing="0.0" font-family="Liberation Sans, sans-serif">Photon</text>
<text x="186.2" y="250.3" font-size="12.6" letter-spacing="-0.08" font-family="Liberation Sans, sans-serif">energy</text>
<text x="231.2" y="250.3" font-size="12.6" letter-spacing="0" font-family="Liberation Sans, sans-serif">(</text>
<text x="238.8" y="250.3" font-size="12.6" letter-spacing="0.3" font-family="Liberation Sans, sans-serif">eV</text>
<text x="258.3" y="250.3" font-size="12.6" letter-spacing="0" font-family="Liberation Sans, sans-serif">)</text>
<text transform="translate(9.8,174.0) rotate(-90)" font-size="12.6" xml:space="preserve" font-family="Liberation Sans, sans-serif">Cross section σ<tspan font-size="8.1" dy="4.7">e</tspan><tspan dy="-4.7">  ( Mb )</tspan></text>
<text x="181.60" y="22.50" font-size="11.9" font-family="Liberation Sans, sans-serif">3p</text>
<text x="244.60" y="45.20" font-size="11.9" font-family="Liberation Sans, sans-serif">4p</text>
<text x="267.00" y="59.60" font-size="11.9" font-family="Liberation Sans, sans-serif">5p</text>
<text x="282.80" y="71.00" font-size="11.9" font-family="Liberation Sans, sans-serif">6p</text>
<text x="296.60" y="29.90" font-size="11.9" font-family="Liberation Sans, sans-serif"> s</text>
<g fill="#000"><path transform="translate(333.52,232.00) scale(0.005273,-0.005273)" d="M763,0L583,0L583,1147Q518,1085 412,1023Q306,961 222,930L222,1104Q373,1175 486,1276Q599,1377 646,1466L763,1466Z"/><path transform="translate(26.29,7.70) scale(0.005273,-0.005273)" d="M763,0L583,0L583,1147Q518,1085 412,1023Q306,961 222,930L222,1104Q373,1175 486,1276Q599,1377 646,1466L763,1466Z"/><path transform="translate(32.29,70.90) scale(0.005273,-0.005273)" d="M763,0L583,0L583,1147Q518,1085 412,1023Q306,961 222,930L222,1104Q373,1175 486,1276Q599,1377 646,1466L763,1466Z"/><path transform="translate(32.29,134.10) scale(0.005273,-0.005273)" d="M763,0L583,0L583,1147Q518,1085 412,1023Q306,961 222,930L222,1104Q373,1175 486,1276Q599,1377 646,1466L763,1466Z"/><path transform="translate(32.29,197.30) scale(0.005273,-0.005273)" d="M763,0L583,0L583,1147Q518,1085 412,1023Q306,961 222,930L222,1104Q373,1175 486,1276Q599,1377 646,1466L763,1466Z"/><path transform="translate(296.60,29.90) scale(0.005811,-0.005811)" d="M763,0L583,0L583,1147Q518,1085 412,1023Q306,961 222,930L222,1104Q373,1175 486,1276Q599,1377 646,1466L763,1466Z"/></g>
<path d="M314,27H323.3M320.6,24.6L323.6,27L320.6,29.4" stroke="#222" stroke-width="0.9" fill="none"/>
<path d="M332.1,27.2C333.2,25.4 336.3,25.2 336.3,27.2C336.3,29.2 333.2,29 332.1,27.2C331,25.4 327.9,25.2 327.9,27.2C327.9,29.2 331,29 332.1,27.2Z" stroke="#222" stroke-width="0.9" fill="none"/>
<path d="M301.1,33.8V64.2" stroke="#333" stroke-width="1.3"/>
</g>
</svg></body></html>
